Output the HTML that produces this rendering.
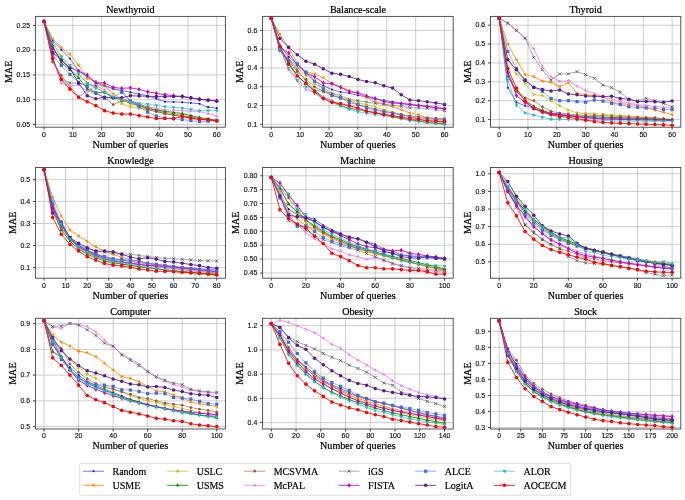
<!DOCTYPE html>
<html><head><meta charset="utf-8"><style>
html,body{margin:0;padding:0;background:#fff;}
body{width:685px;height:500px;overflow:hidden;}
svg{display:block;will-change:transform;opacity:0.999;}
.tk{font-family:"Liberation Sans",sans-serif;font-size:6.9px;fill:#111;stroke:#111;stroke-width:0.15px;}
.sf{font-family:"Liberation Serif",serif;font-size:10.1px;fill:#000;stroke:#000;stroke-width:0.22px;}
.lg{font-family:"Liberation Serif",serif;font-size:10px;fill:#000;stroke:#000;stroke-width:0.18px;}
</style></head><body>
<svg width="685" height="500" viewBox="0 0 685 500">
<rect width="685" height="500" fill="#fff"/>
<defs><clipPath id="c0"><rect x="35.4" y="16.4" width="190.0" height="110.80000000000001"/></clipPath></defs>
<line x1="44.04" y1="16.4" x2="44.04" y2="127.2" stroke="#b0b0b0" stroke-opacity="0.62" stroke-width="1"/>
<line x1="72.82" y1="16.4" x2="72.82" y2="127.2" stroke="#b0b0b0" stroke-opacity="0.62" stroke-width="1"/>
<line x1="101.61" y1="16.4" x2="101.61" y2="127.2" stroke="#b0b0b0" stroke-opacity="0.62" stroke-width="1"/>
<line x1="130.40" y1="16.4" x2="130.40" y2="127.2" stroke="#b0b0b0" stroke-opacity="0.62" stroke-width="1"/>
<line x1="159.19" y1="16.4" x2="159.19" y2="127.2" stroke="#b0b0b0" stroke-opacity="0.62" stroke-width="1"/>
<line x1="187.98" y1="16.4" x2="187.98" y2="127.2" stroke="#b0b0b0" stroke-opacity="0.62" stroke-width="1"/>
<line x1="216.76" y1="16.4" x2="216.76" y2="127.2" stroke="#b0b0b0" stroke-opacity="0.62" stroke-width="1"/>
<line x1="35.4" y1="124.50" x2="225.4" y2="124.50" stroke="#b0b0b0" stroke-opacity="0.62" stroke-width="1"/>
<line x1="35.4" y1="99.72" x2="225.4" y2="99.72" stroke="#b0b0b0" stroke-opacity="0.62" stroke-width="1"/>
<line x1="35.4" y1="74.95" x2="225.4" y2="74.95" stroke="#b0b0b0" stroke-opacity="0.62" stroke-width="1"/>
<line x1="35.4" y1="50.17" x2="225.4" y2="50.17" stroke="#b0b0b0" stroke-opacity="0.62" stroke-width="1"/>
<line x1="35.4" y1="25.40" x2="225.4" y2="25.40" stroke="#b0b0b0" stroke-opacity="0.62" stroke-width="1"/>
<g clip-path="url(#c0)">
<path d="M44.04,21.44L52.67,40.76L61.31,49.68L69.95,58.60L78.58,70.99L87.22,76.93L95.85,82.88L104.49,85.85L113.13,88.82L121.76,90.56L130.40,92.29L139.04,94.03L147.67,95.76L156.31,98.73L164.95,101.71L173.58,101.95L182.22,102.20L190.85,102.95L199.49,103.69L208.13,107.16L216.76,108.15" fill="none" stroke="#0000ff" stroke-opacity="0.55" stroke-width="1.0" stroke-linejoin="round"/>
<circle cx="44.04" cy="21.44" r="1.05" fill="#0000ff"/>
<circle cx="52.67" cy="40.76" r="1.05" fill="#0000ff"/>
<circle cx="61.31" cy="49.68" r="1.05" fill="#0000ff"/>
<circle cx="69.95" cy="58.60" r="1.05" fill="#0000ff"/>
<circle cx="78.58" cy="70.99" r="1.05" fill="#0000ff"/>
<circle cx="87.22" cy="76.93" r="1.05" fill="#0000ff"/>
<circle cx="95.85" cy="82.88" r="1.05" fill="#0000ff"/>
<circle cx="104.49" cy="85.85" r="1.05" fill="#0000ff"/>
<circle cx="113.13" cy="88.82" r="1.05" fill="#0000ff"/>
<circle cx="121.76" cy="90.56" r="1.05" fill="#0000ff"/>
<circle cx="130.40" cy="92.29" r="1.05" fill="#0000ff"/>
<circle cx="139.04" cy="94.03" r="1.05" fill="#0000ff"/>
<circle cx="147.67" cy="95.76" r="1.05" fill="#0000ff"/>
<circle cx="156.31" cy="98.73" r="1.05" fill="#0000ff"/>
<circle cx="164.95" cy="101.71" r="1.05" fill="#0000ff"/>
<circle cx="173.58" cy="101.95" r="1.05" fill="#0000ff"/>
<circle cx="182.22" cy="102.20" r="1.05" fill="#0000ff"/>
<circle cx="190.85" cy="102.95" r="1.05" fill="#0000ff"/>
<circle cx="199.49" cy="103.69" r="1.05" fill="#0000ff"/>
<circle cx="208.13" cy="107.16" r="1.05" fill="#0000ff"/>
<circle cx="216.76" cy="108.15" r="1.05" fill="#0000ff"/>
<path d="M44.04,21.44L52.67,38.78L61.31,47.70L69.95,54.14L78.58,65.04L87.22,78.42L95.85,81.39L104.49,85.85L113.13,93.78L121.76,99.72L130.40,103.69L139.04,105.92L147.67,108.15L156.31,110.13L164.95,112.11L173.58,113.85L182.22,115.58L190.85,117.07L199.49,118.55L208.13,119.54L216.76,120.54" fill="none" stroke="#ff8c00" stroke-opacity="0.85" stroke-width="1.0" stroke-linejoin="round"/>
<path d="M41.94,21.44L45.09,23.26L45.09,19.61Z" fill="#ff8c00"/>
<path d="M50.57,38.78L53.72,40.61L53.72,36.95Z" fill="#ff8c00"/>
<path d="M59.21,47.70L62.36,49.52L62.36,45.87Z" fill="#ff8c00"/>
<path d="M67.85,54.14L71.00,55.97L71.00,52.31Z" fill="#ff8c00"/>
<path d="M76.48,65.04L79.63,66.87L79.63,63.21Z" fill="#ff8c00"/>
<path d="M85.12,78.42L88.27,80.25L88.27,76.59Z" fill="#ff8c00"/>
<path d="M93.75,81.39L96.90,83.22L96.90,79.56Z" fill="#ff8c00"/>
<path d="M102.39,85.85L105.54,87.68L105.54,84.02Z" fill="#ff8c00"/>
<path d="M111.03,93.78L114.18,95.61L114.18,91.95Z" fill="#ff8c00"/>
<path d="M119.66,99.72L122.81,101.55L122.81,97.90Z" fill="#ff8c00"/>
<path d="M128.30,103.69L131.45,105.52L131.45,101.86Z" fill="#ff8c00"/>
<path d="M136.94,105.92L140.09,107.75L140.09,104.09Z" fill="#ff8c00"/>
<path d="M145.57,108.15L148.72,109.98L148.72,106.32Z" fill="#ff8c00"/>
<path d="M154.21,110.13L157.36,111.96L157.36,108.30Z" fill="#ff8c00"/>
<path d="M162.85,112.11L166.00,113.94L166.00,110.29Z" fill="#ff8c00"/>
<path d="M171.48,113.85L174.63,115.67L174.63,112.02Z" fill="#ff8c00"/>
<path d="M180.12,115.58L183.27,117.41L183.27,113.75Z" fill="#ff8c00"/>
<path d="M188.75,117.07L191.90,118.89L191.90,115.24Z" fill="#ff8c00"/>
<path d="M197.39,118.55L200.54,120.38L200.54,116.73Z" fill="#ff8c00"/>
<path d="M206.03,119.54L209.18,121.37L209.18,117.72Z" fill="#ff8c00"/>
<path d="M214.66,120.54L217.81,122.36L217.81,118.71Z" fill="#ff8c00"/>
<path d="M44.04,21.44L52.67,51.66L61.31,55.63L69.95,69.99L78.58,74.95L87.22,82.38L95.85,87.34L104.49,92.29L113.13,97.25L121.76,103.69L130.40,106.66L139.04,108.15L147.67,109.63L156.31,111.62L164.95,113.60L173.58,115.09L182.22,116.57L190.85,117.56L199.49,118.55L208.13,119.54L216.76,120.54" fill="none" stroke="#bfbf00" stroke-opacity="0.7" stroke-width="1.0" stroke-linejoin="round"/>
<path d="M46.14,21.44L42.99,23.26L42.99,19.61Z" fill="#bfbf00"/>
<path d="M54.77,51.66L51.62,53.49L51.62,49.83Z" fill="#bfbf00"/>
<path d="M63.41,55.63L60.26,57.45L60.26,53.80Z" fill="#bfbf00"/>
<path d="M72.05,69.99L68.90,71.82L68.90,68.17Z" fill="#bfbf00"/>
<path d="M80.68,74.95L77.53,76.78L77.53,73.12Z" fill="#bfbf00"/>
<path d="M89.32,82.38L86.17,84.21L86.17,80.56Z" fill="#bfbf00"/>
<path d="M97.95,87.34L94.80,89.16L94.80,85.51Z" fill="#bfbf00"/>
<path d="M106.59,92.29L103.44,94.12L103.44,90.47Z" fill="#bfbf00"/>
<path d="M115.23,97.25L112.08,99.07L112.08,95.42Z" fill="#bfbf00"/>
<path d="M123.86,103.69L120.71,105.52L120.71,101.86Z" fill="#bfbf00"/>
<path d="M132.50,106.66L129.35,108.49L129.35,104.84Z" fill="#bfbf00"/>
<path d="M141.14,108.15L137.99,109.98L137.99,106.32Z" fill="#bfbf00"/>
<path d="M149.77,109.63L146.62,111.46L146.62,107.81Z" fill="#bfbf00"/>
<path d="M158.41,111.62L155.26,113.44L155.26,109.79Z" fill="#bfbf00"/>
<path d="M167.05,113.60L163.90,115.43L163.90,111.77Z" fill="#bfbf00"/>
<path d="M175.68,115.09L172.53,116.91L172.53,113.26Z" fill="#bfbf00"/>
<path d="M184.32,116.57L181.17,118.40L181.17,114.74Z" fill="#bfbf00"/>
<path d="M192.95,117.56L189.80,119.39L189.80,115.74Z" fill="#bfbf00"/>
<path d="M201.59,118.55L198.44,120.38L198.44,116.73Z" fill="#bfbf00"/>
<path d="M210.23,119.54L207.08,121.37L207.08,117.72Z" fill="#bfbf00"/>
<path d="M218.86,120.54L215.71,122.36L215.71,118.71Z" fill="#bfbf00"/>
<path d="M44.04,21.44L52.67,45.72L61.31,62.56L69.95,69.99L78.58,77.92L87.22,88.82L95.85,92.79L104.49,92.29L113.13,97.74L121.76,99.48L130.40,101.21L139.04,104.93L147.67,108.64L156.31,109.88L164.95,111.12L173.58,112.36L182.22,113.60L190.85,115.58L199.49,117.56L208.13,119.05L216.76,120.54" fill="none" stroke="#008000" stroke-opacity="0.8" stroke-width="1.0" stroke-linejoin="round"/>
<path d="M44.04,19.34L45.86,22.49L42.21,22.49Z" fill="#008000"/>
<path d="M52.67,43.62L54.50,46.77L50.85,46.77Z" fill="#008000"/>
<path d="M61.31,60.46L63.14,63.61L59.48,63.61Z" fill="#008000"/>
<path d="M69.95,67.89L71.77,71.04L68.12,71.04Z" fill="#008000"/>
<path d="M78.58,75.82L80.41,78.97L76.75,78.97Z" fill="#008000"/>
<path d="M87.22,86.72L89.05,89.87L85.39,89.87Z" fill="#008000"/>
<path d="M95.85,90.69L97.68,93.84L94.03,93.84Z" fill="#008000"/>
<path d="M104.49,90.19L106.32,93.34L102.66,93.34Z" fill="#008000"/>
<path d="M113.13,95.64L114.95,98.79L111.30,98.79Z" fill="#008000"/>
<path d="M121.76,97.38L123.59,100.53L119.94,100.53Z" fill="#008000"/>
<path d="M130.40,99.11L132.23,102.26L128.57,102.26Z" fill="#008000"/>
<path d="M139.04,102.83L140.86,105.98L137.21,105.98Z" fill="#008000"/>
<path d="M147.67,106.54L149.50,109.69L145.85,109.69Z" fill="#008000"/>
<path d="M156.31,107.78L158.14,110.93L154.48,110.93Z" fill="#008000"/>
<path d="M164.95,109.02L166.77,112.17L163.12,112.17Z" fill="#008000"/>
<path d="M173.58,110.26L175.41,113.41L171.75,113.41Z" fill="#008000"/>
<path d="M182.22,111.50L184.05,114.65L180.39,114.65Z" fill="#008000"/>
<path d="M190.85,113.48L192.68,116.63L189.03,116.63Z" fill="#008000"/>
<path d="M199.49,115.46L201.32,118.61L197.66,118.61Z" fill="#008000"/>
<path d="M208.13,116.95L209.95,120.10L206.30,120.10Z" fill="#008000"/>
<path d="M216.76,118.44L218.59,121.59L214.94,121.59Z" fill="#008000"/>
<path d="M44.04,21.44L52.67,62.07L61.31,75.45L69.95,86.84L78.58,96.75L87.22,90.81L95.85,93.78L104.49,97.25L113.13,104.68L121.76,101.21L130.40,102.20L139.04,105.92L147.67,109.63L156.31,111.62L164.95,113.60L173.58,115.09L182.22,116.57L190.85,118.06L199.49,119.54L208.13,120.29L216.76,121.03" fill="none" stroke="#a0522d" stroke-opacity="0.6" stroke-width="1.0" stroke-linejoin="round"/>
<circle cx="44.04" cy="21.44" r="1.35" fill="#a0522d"/>
<circle cx="52.67" cy="62.07" r="1.35" fill="#a0522d"/>
<circle cx="61.31" cy="75.45" r="1.35" fill="#a0522d"/>
<circle cx="69.95" cy="86.84" r="1.35" fill="#a0522d"/>
<circle cx="78.58" cy="96.75" r="1.35" fill="#a0522d"/>
<circle cx="87.22" cy="90.81" r="1.35" fill="#a0522d"/>
<circle cx="95.85" cy="93.78" r="1.35" fill="#a0522d"/>
<circle cx="104.49" cy="97.25" r="1.35" fill="#a0522d"/>
<circle cx="113.13" cy="104.68" r="1.35" fill="#a0522d"/>
<circle cx="121.76" cy="101.21" r="1.35" fill="#a0522d"/>
<circle cx="130.40" cy="102.20" r="1.35" fill="#a0522d"/>
<circle cx="139.04" cy="105.92" r="1.35" fill="#a0522d"/>
<circle cx="147.67" cy="109.63" r="1.35" fill="#a0522d"/>
<circle cx="156.31" cy="111.62" r="1.35" fill="#a0522d"/>
<circle cx="164.95" cy="113.60" r="1.35" fill="#a0522d"/>
<circle cx="173.58" cy="115.09" r="1.35" fill="#a0522d"/>
<circle cx="182.22" cy="116.57" r="1.35" fill="#a0522d"/>
<circle cx="190.85" cy="118.06" r="1.35" fill="#a0522d"/>
<circle cx="199.49" cy="119.54" r="1.35" fill="#a0522d"/>
<circle cx="208.13" cy="120.29" r="1.35" fill="#a0522d"/>
<circle cx="216.76" cy="121.03" r="1.35" fill="#a0522d"/>
<path d="M44.04,21.44L52.67,57.61L61.31,83.37L69.95,85.85L78.58,84.86L87.22,91.30L95.85,85.85L104.49,89.81L113.13,97.25L121.76,98.98L130.40,100.72L139.04,103.94L147.67,107.16L156.31,108.40L164.95,109.63L173.58,110.13L182.22,110.63L190.85,111.12L199.49,111.62L208.13,113.60L216.76,116.08" fill="none" stroke="#ee82ee" stroke-opacity="0.85" stroke-width="1.0" stroke-linejoin="round"/>
<path d="M42.64,21.44H45.44M44.04,20.04V22.84" stroke="#ee82ee" stroke-width="1.2"/>
<path d="M51.27,57.61H54.07M52.67,56.21V59.01" stroke="#ee82ee" stroke-width="1.2"/>
<path d="M59.91,83.37H62.71M61.31,81.97V84.77" stroke="#ee82ee" stroke-width="1.2"/>
<path d="M68.55,85.85H71.35M69.95,84.45V87.25" stroke="#ee82ee" stroke-width="1.2"/>
<path d="M77.18,84.86H79.98M78.58,83.46V86.26" stroke="#ee82ee" stroke-width="1.2"/>
<path d="M85.82,91.30H88.62M87.22,89.90V92.70" stroke="#ee82ee" stroke-width="1.2"/>
<path d="M94.45,85.85H97.25M95.85,84.45V87.25" stroke="#ee82ee" stroke-width="1.2"/>
<path d="M103.09,89.81H105.89M104.49,88.41V91.22" stroke="#ee82ee" stroke-width="1.2"/>
<path d="M111.73,97.25H114.53M113.13,95.85V98.65" stroke="#ee82ee" stroke-width="1.2"/>
<path d="M120.36,98.98H123.16M121.76,97.58V100.38" stroke="#ee82ee" stroke-width="1.2"/>
<path d="M129.00,100.72H131.80M130.40,99.32V102.12" stroke="#ee82ee" stroke-width="1.2"/>
<path d="M137.64,103.94H140.44M139.04,102.54V105.34" stroke="#ee82ee" stroke-width="1.2"/>
<path d="M146.27,107.16H149.07M147.67,105.76V108.56" stroke="#ee82ee" stroke-width="1.2"/>
<path d="M154.91,108.40H157.71M156.31,107.00V109.80" stroke="#ee82ee" stroke-width="1.2"/>
<path d="M163.55,109.63H166.35M164.95,108.23V111.03" stroke="#ee82ee" stroke-width="1.2"/>
<path d="M172.18,110.13H174.98M173.58,108.73V111.53" stroke="#ee82ee" stroke-width="1.2"/>
<path d="M180.82,110.63H183.62M182.22,109.23V112.03" stroke="#ee82ee" stroke-width="1.2"/>
<path d="M189.45,111.12H192.25M190.85,109.72V112.52" stroke="#ee82ee" stroke-width="1.2"/>
<path d="M198.09,111.62H200.89M199.49,110.22V113.02" stroke="#ee82ee" stroke-width="1.2"/>
<path d="M206.73,113.60H209.53M208.13,112.20V115.00" stroke="#ee82ee" stroke-width="1.2"/>
<path d="M215.36,116.08H218.16M216.76,114.68V117.48" stroke="#ee82ee" stroke-width="1.2"/>
<path d="M44.04,21.44L52.67,60.09L61.31,79.90L69.95,82.88L78.58,83.37L87.22,84.36L95.85,85.85L104.49,85.85L113.13,88.33L121.76,90.81L130.40,100.72L139.04,103.94L147.67,107.16L156.31,110.38L164.95,113.60L173.58,114.59L182.22,115.58L190.85,117.07L199.49,118.55L208.13,119.54L216.76,120.54" fill="none" stroke="#808080" stroke-opacity="0.65" stroke-width="1.0" stroke-linejoin="round"/>
<path d="M42.54,19.94L45.54,22.94M42.54,22.94L45.54,19.94" stroke="#505050" stroke-width="0.8"/>
<path d="M51.17,58.59L54.17,61.59M51.17,61.59L54.17,58.59" stroke="#505050" stroke-width="0.8"/>
<path d="M59.81,78.40L62.81,81.40M59.81,81.40L62.81,78.40" stroke="#505050" stroke-width="0.8"/>
<path d="M68.45,81.38L71.45,84.38M68.45,84.38L71.45,81.38" stroke="#505050" stroke-width="0.8"/>
<path d="M77.08,81.87L80.08,84.87M77.08,84.87L80.08,81.87" stroke="#505050" stroke-width="0.8"/>
<path d="M85.72,82.86L88.72,85.86M85.72,85.86L88.72,82.86" stroke="#505050" stroke-width="0.8"/>
<path d="M94.35,84.35L97.35,87.35M94.35,87.35L97.35,84.35" stroke="#505050" stroke-width="0.8"/>
<path d="M102.99,84.35L105.99,87.35M102.99,87.35L105.99,84.35" stroke="#505050" stroke-width="0.8"/>
<path d="M111.63,86.83L114.63,89.83M111.63,89.83L114.63,86.83" stroke="#505050" stroke-width="0.8"/>
<path d="M120.26,89.31L123.26,92.31M120.26,92.31L123.26,89.31" stroke="#505050" stroke-width="0.8"/>
<path d="M128.90,99.22L131.90,102.22M128.90,102.22L131.90,99.22" stroke="#505050" stroke-width="0.8"/>
<path d="M137.54,102.44L140.54,105.44M137.54,105.44L140.54,102.44" stroke="#505050" stroke-width="0.8"/>
<path d="M146.17,105.66L149.17,108.66M146.17,108.66L149.17,105.66" stroke="#505050" stroke-width="0.8"/>
<path d="M154.81,108.88L157.81,111.88M154.81,111.88L157.81,108.88" stroke="#505050" stroke-width="0.8"/>
<path d="M163.45,112.10L166.45,115.10M163.45,115.10L166.45,112.10" stroke="#505050" stroke-width="0.8"/>
<path d="M172.08,113.09L175.08,116.09M172.08,116.09L175.08,113.09" stroke="#505050" stroke-width="0.8"/>
<path d="M180.72,114.08L183.72,117.08M180.72,117.08L183.72,114.08" stroke="#505050" stroke-width="0.8"/>
<path d="M189.35,115.57L192.35,118.57M189.35,118.57L192.35,115.57" stroke="#505050" stroke-width="0.8"/>
<path d="M197.99,117.05L200.99,120.05M197.99,120.05L200.99,117.05" stroke="#505050" stroke-width="0.8"/>
<path d="M206.63,118.04L209.63,121.04M206.63,121.04L209.63,118.04" stroke="#505050" stroke-width="0.8"/>
<path d="M215.26,119.04L218.26,122.04M215.26,122.04L218.26,119.04" stroke="#505050" stroke-width="0.8"/>
<path d="M44.04,21.44L52.67,48.69L61.31,60.09L69.95,67.52L78.58,70.99L87.22,74.95L95.85,82.88L104.49,82.88L113.13,87.34L121.76,88.33L130.40,87.83L139.04,89.32L147.67,91.80L156.31,93.28L164.95,94.77L173.58,95.76L182.22,96.75L190.85,97.99L199.49,99.23L208.13,99.97L216.76,100.72" fill="none" stroke="#c000c0" stroke-opacity="0.85" stroke-width="1.0" stroke-linejoin="round"/>
<path d="M44.04,19.04L45.64,21.44L44.04,23.84L42.44,21.44Z" fill="#c000c0"/>
<path d="M52.67,46.29L54.27,48.69L52.67,51.09L51.07,48.69Z" fill="#c000c0"/>
<path d="M61.31,57.69L62.91,60.09L61.31,62.48L59.71,60.09Z" fill="#c000c0"/>
<path d="M69.95,65.12L71.55,67.52L69.95,69.92L68.35,67.52Z" fill="#c000c0"/>
<path d="M78.58,68.59L80.18,70.99L78.58,73.39L76.98,70.99Z" fill="#c000c0"/>
<path d="M87.22,72.55L88.82,74.95L87.22,77.35L85.62,74.95Z" fill="#c000c0"/>
<path d="M95.85,80.48L97.45,82.88L95.85,85.28L94.25,82.88Z" fill="#c000c0"/>
<path d="M104.49,80.48L106.09,82.88L104.49,85.28L102.89,82.88Z" fill="#c000c0"/>
<path d="M113.13,84.94L114.73,87.34L113.13,89.74L111.53,87.34Z" fill="#c000c0"/>
<path d="M121.76,85.93L123.36,88.33L121.76,90.73L120.16,88.33Z" fill="#c000c0"/>
<path d="M130.40,85.43L132.00,87.83L130.40,90.23L128.80,87.83Z" fill="#c000c0"/>
<path d="M139.04,86.92L140.64,89.32L139.04,91.72L137.44,89.32Z" fill="#c000c0"/>
<path d="M147.67,89.40L149.27,91.80L147.67,94.20L146.07,91.80Z" fill="#c000c0"/>
<path d="M156.31,90.88L157.91,93.28L156.31,95.68L154.71,93.28Z" fill="#c000c0"/>
<path d="M164.95,92.37L166.55,94.77L164.95,97.17L163.35,94.77Z" fill="#c000c0"/>
<path d="M173.58,93.36L175.18,95.76L173.58,98.16L171.98,95.76Z" fill="#c000c0"/>
<path d="M182.22,94.35L183.82,96.75L182.22,99.15L180.62,96.75Z" fill="#c000c0"/>
<path d="M190.85,95.59L192.45,97.99L190.85,100.39L189.25,97.99Z" fill="#c000c0"/>
<path d="M199.49,96.83L201.09,99.23L199.49,101.63L197.89,99.23Z" fill="#c000c0"/>
<path d="M208.13,97.57L209.73,99.97L208.13,102.37L206.53,99.97Z" fill="#c000c0"/>
<path d="M216.76,98.32L218.36,100.72L216.76,103.12L215.16,100.72Z" fill="#c000c0"/>
<path d="M44.04,21.44L52.67,55.13L61.31,65.54L69.95,74.45L78.58,82.38L87.22,86.35L95.85,92.79L104.49,98.24L113.13,97.74L121.76,92.29L130.40,101.71L139.04,106.66L147.67,112.11L156.31,116.08L164.95,118.06L173.58,118.80L182.22,119.54L190.85,120.54L199.49,121.53L208.13,121.28L216.76,121.03" fill="none" stroke="#4169e1" stroke-opacity="0.55" stroke-width="1.0" stroke-linejoin="round"/>
<rect x="42.44" y="19.84" width="3.20" height="3.20" fill="#4169e1"/>
<rect x="51.07" y="53.53" width="3.20" height="3.20" fill="#4169e1"/>
<rect x="59.71" y="63.94" width="3.20" height="3.20" fill="#4169e1"/>
<rect x="68.35" y="72.85" width="3.20" height="3.20" fill="#4169e1"/>
<rect x="76.98" y="80.78" width="3.20" height="3.20" fill="#4169e1"/>
<rect x="85.62" y="84.75" width="3.20" height="3.20" fill="#4169e1"/>
<rect x="94.25" y="91.19" width="3.20" height="3.20" fill="#4169e1"/>
<rect x="102.89" y="96.64" width="3.20" height="3.20" fill="#4169e1"/>
<rect x="111.53" y="96.14" width="3.20" height="3.20" fill="#4169e1"/>
<rect x="120.16" y="90.69" width="3.20" height="3.20" fill="#4169e1"/>
<rect x="128.80" y="100.11" width="3.20" height="3.20" fill="#4169e1"/>
<rect x="137.44" y="105.06" width="3.20" height="3.20" fill="#4169e1"/>
<rect x="146.07" y="110.51" width="3.20" height="3.20" fill="#4169e1"/>
<rect x="154.71" y="114.48" width="3.20" height="3.20" fill="#4169e1"/>
<rect x="163.35" y="116.46" width="3.20" height="3.20" fill="#4169e1"/>
<rect x="171.98" y="117.20" width="3.20" height="3.20" fill="#4169e1"/>
<rect x="180.62" y="117.94" width="3.20" height="3.20" fill="#4169e1"/>
<rect x="189.25" y="118.94" width="3.20" height="3.20" fill="#4169e1"/>
<rect x="197.89" y="119.93" width="3.20" height="3.20" fill="#4169e1"/>
<rect x="206.53" y="119.68" width="3.20" height="3.20" fill="#4169e1"/>
<rect x="215.16" y="119.43" width="3.20" height="3.20" fill="#4169e1"/>
<path d="M44.04,21.44L52.67,52.65L61.31,60.09L69.95,68.51L78.58,82.88L87.22,95.76L95.85,98.73L104.49,97.25L113.13,97.74L121.76,97.74L130.40,95.76L139.04,96.01L147.67,96.26L156.31,96.50L164.95,96.75L173.58,96.50L182.22,96.26L190.85,97.74L199.49,99.23L208.13,100.22L216.76,101.21" fill="none" stroke="#663399" stroke-opacity="0.9" stroke-width="1.0" stroke-linejoin="round"/>
<circle cx="44.04" cy="21.44" r="1.75" fill="#551a8b"/>
<circle cx="52.67" cy="52.65" r="1.75" fill="#551a8b"/>
<circle cx="61.31" cy="60.09" r="1.75" fill="#551a8b"/>
<circle cx="69.95" cy="68.51" r="1.75" fill="#551a8b"/>
<circle cx="78.58" cy="82.88" r="1.75" fill="#551a8b"/>
<circle cx="87.22" cy="95.76" r="1.75" fill="#551a8b"/>
<circle cx="95.85" cy="98.73" r="1.75" fill="#551a8b"/>
<circle cx="104.49" cy="97.25" r="1.75" fill="#551a8b"/>
<circle cx="113.13" cy="97.74" r="1.75" fill="#551a8b"/>
<circle cx="121.76" cy="97.74" r="1.75" fill="#551a8b"/>
<circle cx="130.40" cy="95.76" r="1.75" fill="#551a8b"/>
<circle cx="139.04" cy="96.01" r="1.75" fill="#551a8b"/>
<circle cx="147.67" cy="96.26" r="1.75" fill="#551a8b"/>
<circle cx="156.31" cy="96.50" r="1.75" fill="#551a8b"/>
<circle cx="164.95" cy="96.75" r="1.75" fill="#551a8b"/>
<circle cx="173.58" cy="96.50" r="1.75" fill="#551a8b"/>
<circle cx="182.22" cy="96.26" r="1.75" fill="#551a8b"/>
<circle cx="190.85" cy="97.74" r="1.75" fill="#551a8b"/>
<circle cx="199.49" cy="99.23" r="1.75" fill="#551a8b"/>
<circle cx="208.13" cy="100.22" r="1.75" fill="#551a8b"/>
<circle cx="216.76" cy="101.21" r="1.75" fill="#551a8b"/>
<path d="M44.04,21.44L52.67,42.25L61.31,57.11L69.95,65.04L78.58,73.46L87.22,83.37L95.85,88.33L104.49,92.79L113.13,96.75L121.76,99.72L130.40,102.20L139.04,103.69L147.67,104.18L156.31,105.42L164.95,106.66L173.58,107.41L182.22,108.15L190.85,109.39L199.49,110.63L208.13,110.63L216.76,110.63" fill="none" stroke="#20b2aa" stroke-opacity="0.6" stroke-width="1.0" stroke-linejoin="round"/>
<path d="M44.04,23.64L45.95,20.34L42.12,20.34Z" fill="#20b8b8"/>
<path d="M52.67,44.45L54.59,41.15L50.76,41.15Z" fill="#20b8b8"/>
<path d="M61.31,59.31L63.22,56.01L59.40,56.01Z" fill="#20b8b8"/>
<path d="M69.95,67.24L71.86,63.94L68.03,63.94Z" fill="#20b8b8"/>
<path d="M78.58,75.66L80.50,72.36L76.67,72.36Z" fill="#20b8b8"/>
<path d="M87.22,85.57L89.13,82.27L85.30,82.27Z" fill="#20b8b8"/>
<path d="M95.85,90.53L97.77,87.23L93.94,87.23Z" fill="#20b8b8"/>
<path d="M104.49,94.99L106.40,91.69L102.58,91.69Z" fill="#20b8b8"/>
<path d="M113.13,98.95L115.04,95.65L111.21,95.65Z" fill="#20b8b8"/>
<path d="M121.76,101.92L123.68,98.62L119.85,98.62Z" fill="#20b8b8"/>
<path d="M130.40,104.40L132.31,101.10L128.49,101.10Z" fill="#20b8b8"/>
<path d="M139.04,105.89L140.95,102.59L137.12,102.59Z" fill="#20b8b8"/>
<path d="M147.67,106.38L149.59,103.08L145.76,103.08Z" fill="#20b8b8"/>
<path d="M156.31,107.62L158.22,104.32L154.40,104.32Z" fill="#20b8b8"/>
<path d="M164.95,108.86L166.86,105.56L163.03,105.56Z" fill="#20b8b8"/>
<path d="M173.58,109.61L175.50,106.31L171.67,106.31Z" fill="#20b8b8"/>
<path d="M182.22,110.35L184.13,107.05L180.30,107.05Z" fill="#20b8b8"/>
<path d="M190.85,111.59L192.77,108.29L188.94,108.29Z" fill="#20b8b8"/>
<path d="M199.49,112.83L201.40,109.53L197.58,109.53Z" fill="#20b8b8"/>
<path d="M208.13,112.83L210.04,109.53L206.21,109.53Z" fill="#20b8b8"/>
<path d="M216.76,112.83L218.68,109.53L214.85,109.53Z" fill="#20b8b8"/>
<path d="M44.04,21.44L52.67,58.60L61.31,79.41L69.95,89.32L78.58,97.25L87.22,101.71L95.85,105.67L104.49,110.63L113.13,113.10L121.76,114.09L130.40,114.09L139.04,115.58L147.67,117.07L156.31,118.55L164.95,118.55L173.58,118.55L182.22,116.57L190.85,118.06L199.49,119.54L208.13,119.54L216.76,120.78" fill="none" stroke="#ff0000" stroke-opacity="0.85" stroke-width="1.0" stroke-linejoin="round"/>
<circle cx="44.04" cy="21.44" r="1.80" fill="#ff0000"/>
<circle cx="52.67" cy="58.60" r="1.80" fill="#ff0000"/>
<circle cx="61.31" cy="79.41" r="1.80" fill="#ff0000"/>
<circle cx="69.95" cy="89.32" r="1.80" fill="#ff0000"/>
<circle cx="78.58" cy="97.25" r="1.80" fill="#ff0000"/>
<circle cx="87.22" cy="101.71" r="1.80" fill="#ff0000"/>
<circle cx="95.85" cy="105.67" r="1.80" fill="#ff0000"/>
<circle cx="104.49" cy="110.63" r="1.80" fill="#ff0000"/>
<circle cx="113.13" cy="113.10" r="1.80" fill="#ff0000"/>
<circle cx="121.76" cy="114.09" r="1.80" fill="#ff0000"/>
<circle cx="130.40" cy="114.09" r="1.80" fill="#ff0000"/>
<circle cx="139.04" cy="115.58" r="1.80" fill="#ff0000"/>
<circle cx="147.67" cy="117.07" r="1.80" fill="#ff0000"/>
<circle cx="156.31" cy="118.55" r="1.80" fill="#ff0000"/>
<circle cx="164.95" cy="118.55" r="1.80" fill="#ff0000"/>
<circle cx="173.58" cy="118.55" r="1.80" fill="#ff0000"/>
<circle cx="182.22" cy="116.57" r="1.80" fill="#ff0000"/>
<circle cx="190.85" cy="118.06" r="1.80" fill="#ff0000"/>
<circle cx="199.49" cy="119.54" r="1.80" fill="#ff0000"/>
<circle cx="208.13" cy="119.54" r="1.80" fill="#ff0000"/>
<circle cx="216.76" cy="120.78" r="1.80" fill="#ff0000"/>
</g>
<rect x="35.4" y="16.4" width="190.00" height="110.80" fill="none" stroke="#444" stroke-width="0.9"/>
<line x1="44.04" y1="127.2" x2="44.04" y2="129.7" stroke="#333" stroke-width="0.9"/>
<text x="42.10" y="136.60" textLength="3.88" lengthAdjust="spacingAndGlyphs" class="tk">0</text>
<line x1="72.82" y1="127.2" x2="72.82" y2="129.7" stroke="#333" stroke-width="0.9"/>
<text x="68.94" y="136.60" textLength="7.76" lengthAdjust="spacingAndGlyphs" class="tk">10</text>
<line x1="101.61" y1="127.2" x2="101.61" y2="129.7" stroke="#333" stroke-width="0.9"/>
<text x="97.73" y="136.60" textLength="7.76" lengthAdjust="spacingAndGlyphs" class="tk">20</text>
<line x1="130.40" y1="127.2" x2="130.40" y2="129.7" stroke="#333" stroke-width="0.9"/>
<text x="126.52" y="136.60" textLength="7.76" lengthAdjust="spacingAndGlyphs" class="tk">30</text>
<line x1="159.19" y1="127.2" x2="159.19" y2="129.7" stroke="#333" stroke-width="0.9"/>
<text x="155.31" y="136.60" textLength="7.76" lengthAdjust="spacingAndGlyphs" class="tk">40</text>
<line x1="187.98" y1="127.2" x2="187.98" y2="129.7" stroke="#333" stroke-width="0.9"/>
<text x="184.10" y="136.60" textLength="7.76" lengthAdjust="spacingAndGlyphs" class="tk">50</text>
<line x1="216.76" y1="127.2" x2="216.76" y2="129.7" stroke="#333" stroke-width="0.9"/>
<text x="212.88" y="136.60" textLength="7.76" lengthAdjust="spacingAndGlyphs" class="tk">60</text>
<line x1="32.9" y1="124.50" x2="35.4" y2="124.50" stroke="#333" stroke-width="0.9"/>
<text x="16.52" y="126.70" textLength="13.58" lengthAdjust="spacingAndGlyphs" class="tk">0.05</text>
<line x1="32.9" y1="99.72" x2="35.4" y2="99.72" stroke="#333" stroke-width="0.9"/>
<text x="16.52" y="101.92" textLength="13.58" lengthAdjust="spacingAndGlyphs" class="tk">0.10</text>
<line x1="32.9" y1="74.95" x2="35.4" y2="74.95" stroke="#333" stroke-width="0.9"/>
<text x="16.52" y="77.15" textLength="13.58" lengthAdjust="spacingAndGlyphs" class="tk">0.15</text>
<line x1="32.9" y1="50.17" x2="35.4" y2="50.17" stroke="#333" stroke-width="0.9"/>
<text x="16.52" y="52.37" textLength="13.58" lengthAdjust="spacingAndGlyphs" class="tk">0.20</text>
<line x1="32.9" y1="25.40" x2="35.4" y2="25.40" stroke="#333" stroke-width="0.9"/>
<text x="16.52" y="27.60" textLength="13.58" lengthAdjust="spacingAndGlyphs" class="tk">0.25</text>
<text x="130.40" y="12.80" text-anchor="middle" class="sf">Newthyroid</text>
<text x="130.40" y="147.60" text-anchor="middle" class="sf">Number of queries</text>
<text transform="translate(12.22,71.80) rotate(-90)" x="0" y="0" text-anchor="middle" class="sf">MAE</text>
<defs><clipPath id="c1"><rect x="262.6" y="16.4" width="190.59999999999997" height="110.80000000000001"/></clipPath></defs>
<line x1="271.26" y1="16.4" x2="271.26" y2="127.2" stroke="#b0b0b0" stroke-opacity="0.62" stroke-width="1"/>
<line x1="300.14" y1="16.4" x2="300.14" y2="127.2" stroke="#b0b0b0" stroke-opacity="0.62" stroke-width="1"/>
<line x1="329.02" y1="16.4" x2="329.02" y2="127.2" stroke="#b0b0b0" stroke-opacity="0.62" stroke-width="1"/>
<line x1="357.90" y1="16.4" x2="357.90" y2="127.2" stroke="#b0b0b0" stroke-opacity="0.62" stroke-width="1"/>
<line x1="386.78" y1="16.4" x2="386.78" y2="127.2" stroke="#b0b0b0" stroke-opacity="0.62" stroke-width="1"/>
<line x1="415.66" y1="16.4" x2="415.66" y2="127.2" stroke="#b0b0b0" stroke-opacity="0.62" stroke-width="1"/>
<line x1="444.54" y1="16.4" x2="444.54" y2="127.2" stroke="#b0b0b0" stroke-opacity="0.62" stroke-width="1"/>
<line x1="262.6" y1="124.30" x2="453.2" y2="124.30" stroke="#b0b0b0" stroke-opacity="0.62" stroke-width="1"/>
<line x1="262.6" y1="105.52" x2="453.2" y2="105.52" stroke="#b0b0b0" stroke-opacity="0.62" stroke-width="1"/>
<line x1="262.6" y1="86.74" x2="453.2" y2="86.74" stroke="#b0b0b0" stroke-opacity="0.62" stroke-width="1"/>
<line x1="262.6" y1="67.96" x2="453.2" y2="67.96" stroke="#b0b0b0" stroke-opacity="0.62" stroke-width="1"/>
<line x1="262.6" y1="49.18" x2="453.2" y2="49.18" stroke="#b0b0b0" stroke-opacity="0.62" stroke-width="1"/>
<line x1="262.6" y1="30.40" x2="453.2" y2="30.40" stroke="#b0b0b0" stroke-opacity="0.62" stroke-width="1"/>
<g clip-path="url(#c1)">
<path d="M271.26,18.19L279.93,45.42L288.59,56.69L297.25,64.20L305.92,72.66L314.58,81.11L323.25,85.80L331.91,89.56L340.57,92.00L349.24,93.31L357.90,95.19L366.56,97.07L375.23,98.95L383.89,100.36L392.55,101.76L401.22,103.17L409.88,104.58L418.55,105.52L427.21,106.46L435.87,107.40L444.54,108.34" fill="none" stroke="#0000ff" stroke-opacity="0.55" stroke-width="1.0" stroke-linejoin="round"/>
<circle cx="271.26" cy="18.19" r="1.05" fill="#0000ff"/>
<circle cx="279.93" cy="45.42" r="1.05" fill="#0000ff"/>
<circle cx="288.59" cy="56.69" r="1.05" fill="#0000ff"/>
<circle cx="297.25" cy="64.20" r="1.05" fill="#0000ff"/>
<circle cx="305.92" cy="72.66" r="1.05" fill="#0000ff"/>
<circle cx="314.58" cy="81.11" r="1.05" fill="#0000ff"/>
<circle cx="323.25" cy="85.80" r="1.05" fill="#0000ff"/>
<circle cx="331.91" cy="89.56" r="1.05" fill="#0000ff"/>
<circle cx="340.57" cy="92.00" r="1.05" fill="#0000ff"/>
<circle cx="349.24" cy="93.31" r="1.05" fill="#0000ff"/>
<circle cx="357.90" cy="95.19" r="1.05" fill="#0000ff"/>
<circle cx="366.56" cy="97.07" r="1.05" fill="#0000ff"/>
<circle cx="375.23" cy="98.95" r="1.05" fill="#0000ff"/>
<circle cx="383.89" cy="100.36" r="1.05" fill="#0000ff"/>
<circle cx="392.55" cy="101.76" r="1.05" fill="#0000ff"/>
<circle cx="401.22" cy="103.17" r="1.05" fill="#0000ff"/>
<circle cx="409.88" cy="104.58" r="1.05" fill="#0000ff"/>
<circle cx="418.55" cy="105.52" r="1.05" fill="#0000ff"/>
<circle cx="427.21" cy="106.46" r="1.05" fill="#0000ff"/>
<circle cx="435.87" cy="107.40" r="1.05" fill="#0000ff"/>
<circle cx="444.54" cy="108.34" r="1.05" fill="#0000ff"/>
<path d="M271.26,18.19L279.93,34.34L288.59,47.30L297.25,63.08L305.92,72.09L314.58,73.78L323.25,77.73L331.91,83.36L340.57,86.74L349.24,90.50L357.90,93.31L366.56,97.54L375.23,101.76L383.89,104.21L392.55,106.65L401.22,109.75L409.88,112.84L418.55,114.53L427.21,117.91L435.87,119.04L444.54,119.42" fill="none" stroke="#ff8c00" stroke-opacity="0.85" stroke-width="1.0" stroke-linejoin="round"/>
<path d="M269.16,18.19L272.31,20.02L272.31,16.37Z" fill="#ff8c00"/>
<path d="M277.83,34.34L280.98,36.17L280.98,32.52Z" fill="#ff8c00"/>
<path d="M286.49,47.30L289.64,49.13L289.64,45.47Z" fill="#ff8c00"/>
<path d="M295.15,63.08L298.30,64.90L298.30,61.25Z" fill="#ff8c00"/>
<path d="M303.82,72.09L306.97,73.92L306.97,70.26Z" fill="#ff8c00"/>
<path d="M312.48,73.78L315.63,75.61L315.63,71.95Z" fill="#ff8c00"/>
<path d="M321.15,77.73L324.30,79.55L324.30,75.90Z" fill="#ff8c00"/>
<path d="M329.81,83.36L332.96,85.19L332.96,81.53Z" fill="#ff8c00"/>
<path d="M338.47,86.74L341.62,88.57L341.62,84.91Z" fill="#ff8c00"/>
<path d="M347.14,90.50L350.29,92.32L350.29,88.67Z" fill="#ff8c00"/>
<path d="M355.80,93.31L358.95,95.14L358.95,91.49Z" fill="#ff8c00"/>
<path d="M364.46,97.54L367.61,99.37L367.61,95.71Z" fill="#ff8c00"/>
<path d="M373.13,101.76L376.28,103.59L376.28,99.94Z" fill="#ff8c00"/>
<path d="M381.79,104.21L384.94,106.03L384.94,102.38Z" fill="#ff8c00"/>
<path d="M390.45,106.65L393.60,108.47L393.60,104.82Z" fill="#ff8c00"/>
<path d="M399.12,109.75L402.27,111.57L402.27,107.92Z" fill="#ff8c00"/>
<path d="M407.78,112.84L410.93,114.67L410.93,111.02Z" fill="#ff8c00"/>
<path d="M416.45,114.53L419.60,116.36L419.60,112.71Z" fill="#ff8c00"/>
<path d="M425.11,117.91L428.26,119.74L428.26,116.09Z" fill="#ff8c00"/>
<path d="M433.77,119.04L436.92,120.87L436.92,117.21Z" fill="#ff8c00"/>
<path d="M442.44,119.42L445.59,121.24L445.59,117.59Z" fill="#ff8c00"/>
<path d="M271.26,18.19L279.93,49.18L288.59,60.45L297.25,67.96L305.92,75.47L314.58,83.92L323.25,87.68L331.91,93.31L340.57,97.82L349.24,99.89L357.90,102.33L366.56,104.86L375.23,107.40L383.89,109.75L392.55,112.09L401.22,114.44L409.88,116.79L418.55,118.67L427.21,120.54L435.87,121.76L444.54,122.99" fill="none" stroke="#bfbf00" stroke-opacity="0.7" stroke-width="1.0" stroke-linejoin="round"/>
<path d="M273.36,18.19L270.21,20.02L270.21,16.37Z" fill="#bfbf00"/>
<path d="M282.03,49.18L278.88,51.01L278.88,47.35Z" fill="#bfbf00"/>
<path d="M290.69,60.45L287.54,62.27L287.54,58.62Z" fill="#bfbf00"/>
<path d="M299.35,67.96L296.20,69.79L296.20,66.13Z" fill="#bfbf00"/>
<path d="M308.02,75.47L304.87,77.30L304.87,73.65Z" fill="#bfbf00"/>
<path d="M316.68,83.92L313.53,85.75L313.53,82.10Z" fill="#bfbf00"/>
<path d="M325.35,87.68L322.20,89.51L322.20,85.85Z" fill="#bfbf00"/>
<path d="M334.01,93.31L330.86,95.14L330.86,91.49Z" fill="#bfbf00"/>
<path d="M342.67,97.82L339.52,99.65L339.52,95.99Z" fill="#bfbf00"/>
<path d="M351.34,99.89L348.19,101.71L348.19,98.06Z" fill="#bfbf00"/>
<path d="M360.00,102.33L356.85,104.15L356.85,100.50Z" fill="#bfbf00"/>
<path d="M368.66,104.86L365.51,106.69L365.51,103.04Z" fill="#bfbf00"/>
<path d="M377.33,107.40L374.18,109.22L374.18,105.57Z" fill="#bfbf00"/>
<path d="M385.99,109.75L382.84,111.57L382.84,107.92Z" fill="#bfbf00"/>
<path d="M394.65,112.09L391.50,113.92L391.50,110.27Z" fill="#bfbf00"/>
<path d="M403.32,114.44L400.17,116.27L400.17,112.61Z" fill="#bfbf00"/>
<path d="M411.98,116.79L408.83,118.62L408.83,114.96Z" fill="#bfbf00"/>
<path d="M420.65,118.67L417.50,120.49L417.50,116.84Z" fill="#bfbf00"/>
<path d="M429.31,120.54L426.16,122.37L426.16,118.72Z" fill="#bfbf00"/>
<path d="M437.97,121.76L434.82,123.59L434.82,119.94Z" fill="#bfbf00"/>
<path d="M446.64,122.99L443.49,124.81L443.49,121.16Z" fill="#bfbf00"/>
<path d="M271.26,18.19L279.93,49.18L288.59,62.33L297.25,75.47L305.92,83.92L314.58,90.50L323.25,97.07L331.91,100.83L340.57,105.71L349.24,108.34L357.90,109.65L366.56,111.15L375.23,112.66L383.89,114.72L392.55,116.79L401.22,118.20L409.88,119.60L418.55,121.01L427.21,122.42L435.87,123.17L444.54,123.92" fill="none" stroke="#008000" stroke-opacity="0.8" stroke-width="1.0" stroke-linejoin="round"/>
<path d="M271.26,16.09L273.09,19.24L269.44,19.24Z" fill="#008000"/>
<path d="M279.93,47.08L281.75,50.23L278.10,50.23Z" fill="#008000"/>
<path d="M288.59,60.23L290.42,63.38L286.76,63.38Z" fill="#008000"/>
<path d="M297.25,73.37L299.08,76.52L295.43,76.52Z" fill="#008000"/>
<path d="M305.92,81.82L307.75,84.97L304.09,84.97Z" fill="#008000"/>
<path d="M314.58,88.40L316.41,91.55L312.75,91.55Z" fill="#008000"/>
<path d="M323.25,94.97L325.07,98.12L321.42,98.12Z" fill="#008000"/>
<path d="M331.91,98.73L333.74,101.88L330.08,101.88Z" fill="#008000"/>
<path d="M340.57,103.61L342.40,106.76L338.75,106.76Z" fill="#008000"/>
<path d="M349.24,106.24L351.06,109.39L347.41,109.39Z" fill="#008000"/>
<path d="M357.90,107.55L359.73,110.70L356.07,110.70Z" fill="#008000"/>
<path d="M366.56,109.05L368.39,112.20L364.74,112.20Z" fill="#008000"/>
<path d="M375.23,110.56L377.05,113.71L373.40,113.71Z" fill="#008000"/>
<path d="M383.89,112.62L385.72,115.77L382.06,115.77Z" fill="#008000"/>
<path d="M392.55,114.69L394.38,117.84L390.73,117.84Z" fill="#008000"/>
<path d="M401.22,116.10L403.05,119.25L399.39,119.25Z" fill="#008000"/>
<path d="M409.88,117.50L411.71,120.65L408.05,120.65Z" fill="#008000"/>
<path d="M418.55,118.91L420.37,122.06L416.72,122.06Z" fill="#008000"/>
<path d="M427.21,120.32L429.04,123.47L425.38,123.47Z" fill="#008000"/>
<path d="M435.87,121.07L437.70,124.22L434.05,124.22Z" fill="#008000"/>
<path d="M444.54,121.82L446.36,124.97L442.71,124.97Z" fill="#008000"/>
<path d="M271.26,18.19L279.93,51.06L288.59,60.45L297.25,71.72L305.92,79.23L314.58,86.74L323.25,91.44L331.91,95.19L340.57,98.01L349.24,100.83L357.90,104.58L366.56,106.93L375.23,109.28L383.89,111.15L392.55,113.03L401.22,114.44L409.88,115.85L418.55,116.79L427.21,117.73L435.87,118.20L444.54,118.67" fill="none" stroke="#a0522d" stroke-opacity="0.6" stroke-width="1.0" stroke-linejoin="round"/>
<circle cx="271.26" cy="18.19" r="1.35" fill="#a0522d"/>
<circle cx="279.93" cy="51.06" r="1.35" fill="#a0522d"/>
<circle cx="288.59" cy="60.45" r="1.35" fill="#a0522d"/>
<circle cx="297.25" cy="71.72" r="1.35" fill="#a0522d"/>
<circle cx="305.92" cy="79.23" r="1.35" fill="#a0522d"/>
<circle cx="314.58" cy="86.74" r="1.35" fill="#a0522d"/>
<circle cx="323.25" cy="91.44" r="1.35" fill="#a0522d"/>
<circle cx="331.91" cy="95.19" r="1.35" fill="#a0522d"/>
<circle cx="340.57" cy="98.01" r="1.35" fill="#a0522d"/>
<circle cx="349.24" cy="100.83" r="1.35" fill="#a0522d"/>
<circle cx="357.90" cy="104.58" r="1.35" fill="#a0522d"/>
<circle cx="366.56" cy="106.93" r="1.35" fill="#a0522d"/>
<circle cx="375.23" cy="109.28" r="1.35" fill="#a0522d"/>
<circle cx="383.89" cy="111.15" r="1.35" fill="#a0522d"/>
<circle cx="392.55" cy="113.03" r="1.35" fill="#a0522d"/>
<circle cx="401.22" cy="114.44" r="1.35" fill="#a0522d"/>
<circle cx="409.88" cy="115.85" r="1.35" fill="#a0522d"/>
<circle cx="418.55" cy="116.79" r="1.35" fill="#a0522d"/>
<circle cx="427.21" cy="117.73" r="1.35" fill="#a0522d"/>
<circle cx="435.87" cy="118.20" r="1.35" fill="#a0522d"/>
<circle cx="444.54" cy="118.67" r="1.35" fill="#a0522d"/>
<path d="M271.26,18.19L279.93,47.30L288.59,69.84L297.25,81.11L305.92,89.93L314.58,92.37L323.25,97.07L331.91,100.83L340.57,103.64L349.24,106.46L357.90,109.28L366.56,111.15L375.23,113.03L383.89,114.44L392.55,115.85L401.22,117.45L409.88,119.04L418.55,119.98L427.21,120.92L435.87,121.67L444.54,122.42" fill="none" stroke="#ee82ee" stroke-opacity="0.85" stroke-width="1.0" stroke-linejoin="round"/>
<path d="M269.86,18.19H272.66M271.26,16.79V19.59" stroke="#ee82ee" stroke-width="1.2"/>
<path d="M278.53,47.30H281.33M279.93,45.90V48.70" stroke="#ee82ee" stroke-width="1.2"/>
<path d="M287.19,69.84H289.99M288.59,68.44V71.24" stroke="#ee82ee" stroke-width="1.2"/>
<path d="M295.85,81.11H298.65M297.25,79.71V82.51" stroke="#ee82ee" stroke-width="1.2"/>
<path d="M304.52,89.93H307.32M305.92,88.53V91.33" stroke="#ee82ee" stroke-width="1.2"/>
<path d="M313.18,92.37H315.98M314.58,90.97V93.77" stroke="#ee82ee" stroke-width="1.2"/>
<path d="M321.85,97.07H324.65M323.25,95.67V98.47" stroke="#ee82ee" stroke-width="1.2"/>
<path d="M330.51,100.83H333.31M331.91,99.43V102.23" stroke="#ee82ee" stroke-width="1.2"/>
<path d="M339.17,103.64H341.97M340.57,102.24V105.04" stroke="#ee82ee" stroke-width="1.2"/>
<path d="M347.84,106.46H350.64M349.24,105.06V107.86" stroke="#ee82ee" stroke-width="1.2"/>
<path d="M356.50,109.28H359.30M357.90,107.88V110.68" stroke="#ee82ee" stroke-width="1.2"/>
<path d="M365.16,111.15H367.96M366.56,109.75V112.55" stroke="#ee82ee" stroke-width="1.2"/>
<path d="M373.83,113.03H376.63M375.23,111.63V114.43" stroke="#ee82ee" stroke-width="1.2"/>
<path d="M382.49,114.44H385.29M383.89,113.04V115.84" stroke="#ee82ee" stroke-width="1.2"/>
<path d="M391.15,115.85H393.95M392.55,114.45V117.25" stroke="#ee82ee" stroke-width="1.2"/>
<path d="M399.82,117.45H402.62M401.22,116.05V118.85" stroke="#ee82ee" stroke-width="1.2"/>
<path d="M408.48,119.04H411.28M409.88,117.64V120.44" stroke="#ee82ee" stroke-width="1.2"/>
<path d="M417.15,119.98H419.95M418.55,118.58V121.38" stroke="#ee82ee" stroke-width="1.2"/>
<path d="M425.81,120.92H428.61M427.21,119.52V122.32" stroke="#ee82ee" stroke-width="1.2"/>
<path d="M434.47,121.67H437.27M435.87,120.27V123.07" stroke="#ee82ee" stroke-width="1.2"/>
<path d="M443.14,122.42H445.94M444.54,121.02V123.82" stroke="#ee82ee" stroke-width="1.2"/>
<path d="M271.26,18.19L279.93,49.18L288.59,58.57L297.25,69.84L305.92,81.11L314.58,89.93L323.25,91.44L331.91,93.31L340.57,95.57L349.24,99.51L357.90,100.64L366.56,101.95L375.23,103.27L383.89,104.21L392.55,105.14L401.22,106.46L409.88,107.77L418.55,108.06L427.21,108.34L435.87,109.65L444.54,110.59" fill="none" stroke="#808080" stroke-opacity="0.65" stroke-width="1.0" stroke-linejoin="round"/>
<path d="M269.76,16.69L272.76,19.69M269.76,19.69L272.76,16.69" stroke="#505050" stroke-width="0.8"/>
<path d="M278.43,47.68L281.43,50.68M278.43,50.68L281.43,47.68" stroke="#505050" stroke-width="0.8"/>
<path d="M287.09,57.07L290.09,60.07M287.09,60.07L290.09,57.07" stroke="#505050" stroke-width="0.8"/>
<path d="M295.75,68.34L298.75,71.34M295.75,71.34L298.75,68.34" stroke="#505050" stroke-width="0.8"/>
<path d="M304.42,79.61L307.42,82.61M304.42,82.61L307.42,79.61" stroke="#505050" stroke-width="0.8"/>
<path d="M313.08,88.43L316.08,91.43M313.08,91.43L316.08,88.43" stroke="#505050" stroke-width="0.8"/>
<path d="M321.75,89.94L324.75,92.94M321.75,92.94L324.75,89.94" stroke="#505050" stroke-width="0.8"/>
<path d="M330.41,91.81L333.41,94.81M330.41,94.81L333.41,91.81" stroke="#505050" stroke-width="0.8"/>
<path d="M339.07,94.07L342.07,97.07M339.07,97.07L342.07,94.07" stroke="#505050" stroke-width="0.8"/>
<path d="M347.74,98.01L350.74,101.01M347.74,101.01L350.74,98.01" stroke="#505050" stroke-width="0.8"/>
<path d="M356.40,99.14L359.40,102.14M356.40,102.14L359.40,99.14" stroke="#505050" stroke-width="0.8"/>
<path d="M365.06,100.45L368.06,103.45M365.06,103.45L368.06,100.45" stroke="#505050" stroke-width="0.8"/>
<path d="M373.73,101.77L376.73,104.77M373.73,104.77L376.73,101.77" stroke="#505050" stroke-width="0.8"/>
<path d="M382.39,102.71L385.39,105.71M382.39,105.71L385.39,102.71" stroke="#505050" stroke-width="0.8"/>
<path d="M391.05,103.64L394.05,106.64M391.05,106.64L394.05,103.64" stroke="#505050" stroke-width="0.8"/>
<path d="M399.72,104.96L402.72,107.96M399.72,107.96L402.72,104.96" stroke="#505050" stroke-width="0.8"/>
<path d="M408.38,106.27L411.38,109.27M408.38,109.27L411.38,106.27" stroke="#505050" stroke-width="0.8"/>
<path d="M417.05,106.56L420.05,109.56M417.05,109.56L420.05,106.56" stroke="#505050" stroke-width="0.8"/>
<path d="M425.71,106.84L428.71,109.84M425.71,109.84L428.71,106.84" stroke="#505050" stroke-width="0.8"/>
<path d="M434.37,108.15L437.37,111.15M434.37,111.15L437.37,108.15" stroke="#505050" stroke-width="0.8"/>
<path d="M443.04,109.09L446.04,112.09M443.04,112.09L446.04,109.09" stroke="#505050" stroke-width="0.8"/>
<path d="M271.26,18.19L279.93,47.30L288.59,52.94L297.25,64.77L305.92,73.22L314.58,76.60L323.25,82.80L331.91,83.74L340.57,87.30L349.24,91.81L357.90,92.75L366.56,95.94L375.23,98.38L383.89,101.58L392.55,102.89L401.22,103.64L409.88,104.39L418.55,105.43L427.21,106.46L435.87,107.77L444.54,108.90" fill="none" stroke="#c000c0" stroke-opacity="0.85" stroke-width="1.0" stroke-linejoin="round"/>
<path d="M271.26,15.79L272.86,18.19L271.26,20.59L269.66,18.19Z" fill="#c000c0"/>
<path d="M279.93,44.90L281.53,47.30L279.93,49.70L278.33,47.30Z" fill="#c000c0"/>
<path d="M288.59,50.54L290.19,52.94L288.59,55.34L286.99,52.94Z" fill="#c000c0"/>
<path d="M297.25,62.37L298.85,64.77L297.25,67.17L295.65,64.77Z" fill="#c000c0"/>
<path d="M305.92,70.82L307.52,73.22L305.92,75.62L304.32,73.22Z" fill="#c000c0"/>
<path d="M314.58,74.20L316.18,76.60L314.58,79.00L312.98,76.60Z" fill="#c000c0"/>
<path d="M323.25,80.40L324.85,82.80L323.25,85.20L321.65,82.80Z" fill="#c000c0"/>
<path d="M331.91,81.34L333.51,83.74L331.91,86.14L330.31,83.74Z" fill="#c000c0"/>
<path d="M340.57,84.90L342.17,87.30L340.57,89.70L338.97,87.30Z" fill="#c000c0"/>
<path d="M349.24,89.41L350.84,91.81L349.24,94.21L347.64,91.81Z" fill="#c000c0"/>
<path d="M357.90,90.35L359.50,92.75L357.90,95.15L356.30,92.75Z" fill="#c000c0"/>
<path d="M366.56,93.54L368.16,95.94L366.56,98.34L364.96,95.94Z" fill="#c000c0"/>
<path d="M375.23,95.98L376.83,98.38L375.23,100.78L373.63,98.38Z" fill="#c000c0"/>
<path d="M383.89,99.18L385.49,101.58L383.89,103.98L382.29,101.58Z" fill="#c000c0"/>
<path d="M392.55,100.49L394.15,102.89L392.55,105.29L390.95,102.89Z" fill="#c000c0"/>
<path d="M401.22,101.24L402.82,103.64L401.22,106.04L399.62,103.64Z" fill="#c000c0"/>
<path d="M409.88,101.99L411.48,104.39L409.88,106.79L408.28,104.39Z" fill="#c000c0"/>
<path d="M418.55,103.03L420.15,105.43L418.55,107.83L416.95,105.43Z" fill="#c000c0"/>
<path d="M427.21,104.06L428.81,106.46L427.21,108.86L425.61,106.46Z" fill="#c000c0"/>
<path d="M435.87,105.37L437.47,107.77L435.87,110.17L434.27,107.77Z" fill="#c000c0"/>
<path d="M444.54,106.50L446.14,108.90L444.54,111.30L442.94,108.90Z" fill="#c000c0"/>
<path d="M271.26,18.19L279.93,49.18L288.59,60.82L297.25,64.20L305.92,72.09L314.58,81.11L323.25,88.99L331.91,95.57L340.57,98.01L349.24,102.70L357.90,104.58L366.56,107.77L375.23,110.22L383.89,111.81L392.55,113.41L401.22,115.10L409.88,116.79L418.55,117.91L427.21,119.04L435.87,119.60L444.54,120.17" fill="none" stroke="#4169e1" stroke-opacity="0.55" stroke-width="1.0" stroke-linejoin="round"/>
<rect x="269.66" y="16.59" width="3.20" height="3.20" fill="#4169e1"/>
<rect x="278.33" y="47.58" width="3.20" height="3.20" fill="#4169e1"/>
<rect x="286.99" y="59.22" width="3.20" height="3.20" fill="#4169e1"/>
<rect x="295.65" y="62.60" width="3.20" height="3.20" fill="#4169e1"/>
<rect x="304.32" y="70.49" width="3.20" height="3.20" fill="#4169e1"/>
<rect x="312.98" y="79.51" width="3.20" height="3.20" fill="#4169e1"/>
<rect x="321.65" y="87.39" width="3.20" height="3.20" fill="#4169e1"/>
<rect x="330.31" y="93.97" width="3.20" height="3.20" fill="#4169e1"/>
<rect x="338.97" y="96.41" width="3.20" height="3.20" fill="#4169e1"/>
<rect x="347.64" y="101.10" width="3.20" height="3.20" fill="#4169e1"/>
<rect x="356.30" y="102.98" width="3.20" height="3.20" fill="#4169e1"/>
<rect x="364.96" y="106.17" width="3.20" height="3.20" fill="#4169e1"/>
<rect x="373.63" y="108.62" width="3.20" height="3.20" fill="#4169e1"/>
<rect x="382.29" y="110.21" width="3.20" height="3.20" fill="#4169e1"/>
<rect x="390.95" y="111.81" width="3.20" height="3.20" fill="#4169e1"/>
<rect x="399.62" y="113.50" width="3.20" height="3.20" fill="#4169e1"/>
<rect x="408.28" y="115.19" width="3.20" height="3.20" fill="#4169e1"/>
<rect x="416.95" y="116.31" width="3.20" height="3.20" fill="#4169e1"/>
<rect x="425.61" y="117.44" width="3.20" height="3.20" fill="#4169e1"/>
<rect x="434.27" y="118.00" width="3.20" height="3.20" fill="#4169e1"/>
<rect x="442.94" y="118.57" width="3.20" height="3.20" fill="#4169e1"/>
<path d="M271.26,18.19L279.93,38.48L288.59,47.30L297.25,54.63L305.92,61.20L314.58,64.20L323.25,68.71L331.91,73.22L340.57,74.35L349.24,76.60L357.90,79.42L366.56,81.48L375.23,82.80L383.89,85.80L392.55,88.05L401.22,94.82L409.88,100.07L418.55,100.64L427.21,101.76L435.87,102.89L444.54,104.39" fill="none" stroke="#663399" stroke-opacity="0.9" stroke-width="1.0" stroke-linejoin="round"/>
<circle cx="271.26" cy="18.19" r="1.75" fill="#551a8b"/>
<circle cx="279.93" cy="38.48" r="1.75" fill="#551a8b"/>
<circle cx="288.59" cy="47.30" r="1.75" fill="#551a8b"/>
<circle cx="297.25" cy="54.63" r="1.75" fill="#551a8b"/>
<circle cx="305.92" cy="61.20" r="1.75" fill="#551a8b"/>
<circle cx="314.58" cy="64.20" r="1.75" fill="#551a8b"/>
<circle cx="323.25" cy="68.71" r="1.75" fill="#551a8b"/>
<circle cx="331.91" cy="73.22" r="1.75" fill="#551a8b"/>
<circle cx="340.57" cy="74.35" r="1.75" fill="#551a8b"/>
<circle cx="349.24" cy="76.60" r="1.75" fill="#551a8b"/>
<circle cx="357.90" cy="79.42" r="1.75" fill="#551a8b"/>
<circle cx="366.56" cy="81.48" r="1.75" fill="#551a8b"/>
<circle cx="375.23" cy="82.80" r="1.75" fill="#551a8b"/>
<circle cx="383.89" cy="85.80" r="1.75" fill="#551a8b"/>
<circle cx="392.55" cy="88.05" r="1.75" fill="#551a8b"/>
<circle cx="401.22" cy="94.82" r="1.75" fill="#551a8b"/>
<circle cx="409.88" cy="100.07" r="1.75" fill="#551a8b"/>
<circle cx="418.55" cy="100.64" r="1.75" fill="#551a8b"/>
<circle cx="427.21" cy="101.76" r="1.75" fill="#551a8b"/>
<circle cx="435.87" cy="102.89" r="1.75" fill="#551a8b"/>
<circle cx="444.54" cy="104.39" r="1.75" fill="#551a8b"/>
<path d="M271.26,18.19L279.93,49.18L288.59,67.96L297.25,79.98L305.92,86.74L314.58,93.31L323.25,98.95L331.91,102.70L340.57,105.90L349.24,109.28L357.90,111.91L366.56,113.41L375.23,114.53L383.89,115.66L392.55,116.79L401.22,118.76L409.88,120.73L418.55,121.58L427.21,122.42L435.87,123.55L444.54,124.68" fill="none" stroke="#20b2aa" stroke-opacity="0.6" stroke-width="1.0" stroke-linejoin="round"/>
<path d="M271.26,20.39L273.18,17.09L269.35,17.09Z" fill="#20b8b8"/>
<path d="M279.93,51.38L281.84,48.08L278.01,48.08Z" fill="#20b8b8"/>
<path d="M288.59,70.16L290.50,66.86L286.68,66.86Z" fill="#20b8b8"/>
<path d="M297.25,82.18L299.17,78.88L295.34,78.88Z" fill="#20b8b8"/>
<path d="M305.92,88.94L307.83,85.64L304.00,85.64Z" fill="#20b8b8"/>
<path d="M314.58,95.51L316.50,92.21L312.67,92.21Z" fill="#20b8b8"/>
<path d="M323.25,101.15L325.16,97.85L321.33,97.85Z" fill="#20b8b8"/>
<path d="M331.91,104.90L333.82,101.60L330.00,101.60Z" fill="#20b8b8"/>
<path d="M340.57,108.10L342.49,104.80L338.66,104.80Z" fill="#20b8b8"/>
<path d="M349.24,111.48L351.15,108.18L347.32,108.18Z" fill="#20b8b8"/>
<path d="M357.90,114.11L359.81,110.81L355.99,110.81Z" fill="#20b8b8"/>
<path d="M366.56,115.61L368.48,112.31L364.65,112.31Z" fill="#20b8b8"/>
<path d="M375.23,116.73L377.14,113.43L373.31,113.43Z" fill="#20b8b8"/>
<path d="M383.89,117.86L385.80,114.56L381.98,114.56Z" fill="#20b8b8"/>
<path d="M392.55,118.99L394.47,115.69L390.64,115.69Z" fill="#20b8b8"/>
<path d="M401.22,120.96L403.13,117.66L399.30,117.66Z" fill="#20b8b8"/>
<path d="M409.88,122.93L411.80,119.63L407.97,119.63Z" fill="#20b8b8"/>
<path d="M418.55,123.78L420.46,120.48L416.63,120.48Z" fill="#20b8b8"/>
<path d="M427.21,124.62L429.12,121.32L425.30,121.32Z" fill="#20b8b8"/>
<path d="M435.87,125.75L437.79,122.45L433.96,122.45Z" fill="#20b8b8"/>
<path d="M444.54,126.88L446.45,123.58L442.62,123.58Z" fill="#20b8b8"/>
<path d="M271.26,18.19L279.93,46.18L288.59,64.20L297.25,76.04L305.92,83.36L314.58,91.81L323.25,98.57L331.91,102.33L340.57,103.64L349.24,105.71L357.90,107.96L366.56,111.15L375.23,112.84L383.89,114.53L392.55,115.66L401.22,117.16L409.88,118.67L418.55,119.42L427.21,120.73L435.87,121.20L444.54,121.67" fill="none" stroke="#ff0000" stroke-opacity="0.85" stroke-width="1.0" stroke-linejoin="round"/>
<circle cx="271.26" cy="18.19" r="1.80" fill="#ff0000"/>
<circle cx="279.93" cy="46.18" r="1.80" fill="#ff0000"/>
<circle cx="288.59" cy="64.20" r="1.80" fill="#ff0000"/>
<circle cx="297.25" cy="76.04" r="1.80" fill="#ff0000"/>
<circle cx="305.92" cy="83.36" r="1.80" fill="#ff0000"/>
<circle cx="314.58" cy="91.81" r="1.80" fill="#ff0000"/>
<circle cx="323.25" cy="98.57" r="1.80" fill="#ff0000"/>
<circle cx="331.91" cy="102.33" r="1.80" fill="#ff0000"/>
<circle cx="340.57" cy="103.64" r="1.80" fill="#ff0000"/>
<circle cx="349.24" cy="105.71" r="1.80" fill="#ff0000"/>
<circle cx="357.90" cy="107.96" r="1.80" fill="#ff0000"/>
<circle cx="366.56" cy="111.15" r="1.80" fill="#ff0000"/>
<circle cx="375.23" cy="112.84" r="1.80" fill="#ff0000"/>
<circle cx="383.89" cy="114.53" r="1.80" fill="#ff0000"/>
<circle cx="392.55" cy="115.66" r="1.80" fill="#ff0000"/>
<circle cx="401.22" cy="117.16" r="1.80" fill="#ff0000"/>
<circle cx="409.88" cy="118.67" r="1.80" fill="#ff0000"/>
<circle cx="418.55" cy="119.42" r="1.80" fill="#ff0000"/>
<circle cx="427.21" cy="120.73" r="1.80" fill="#ff0000"/>
<circle cx="435.87" cy="121.20" r="1.80" fill="#ff0000"/>
<circle cx="444.54" cy="121.67" r="1.80" fill="#ff0000"/>
</g>
<rect x="262.6" y="16.4" width="190.60" height="110.80" fill="none" stroke="#444" stroke-width="0.9"/>
<line x1="271.26" y1="127.2" x2="271.26" y2="129.7" stroke="#333" stroke-width="0.9"/>
<text x="269.32" y="136.60" textLength="3.88" lengthAdjust="spacingAndGlyphs" class="tk">0</text>
<line x1="300.14" y1="127.2" x2="300.14" y2="129.7" stroke="#333" stroke-width="0.9"/>
<text x="296.26" y="136.60" textLength="7.76" lengthAdjust="spacingAndGlyphs" class="tk">10</text>
<line x1="329.02" y1="127.2" x2="329.02" y2="129.7" stroke="#333" stroke-width="0.9"/>
<text x="325.14" y="136.60" textLength="7.76" lengthAdjust="spacingAndGlyphs" class="tk">20</text>
<line x1="357.90" y1="127.2" x2="357.90" y2="129.7" stroke="#333" stroke-width="0.9"/>
<text x="354.02" y="136.60" textLength="7.76" lengthAdjust="spacingAndGlyphs" class="tk">30</text>
<line x1="386.78" y1="127.2" x2="386.78" y2="129.7" stroke="#333" stroke-width="0.9"/>
<text x="382.90" y="136.60" textLength="7.76" lengthAdjust="spacingAndGlyphs" class="tk">40</text>
<line x1="415.66" y1="127.2" x2="415.66" y2="129.7" stroke="#333" stroke-width="0.9"/>
<text x="411.78" y="136.60" textLength="7.76" lengthAdjust="spacingAndGlyphs" class="tk">50</text>
<line x1="444.54" y1="127.2" x2="444.54" y2="129.7" stroke="#333" stroke-width="0.9"/>
<text x="440.66" y="136.60" textLength="7.76" lengthAdjust="spacingAndGlyphs" class="tk">60</text>
<line x1="260.1" y1="124.30" x2="262.6" y2="124.30" stroke="#333" stroke-width="0.9"/>
<text x="247.60" y="126.50" textLength="9.70" lengthAdjust="spacingAndGlyphs" class="tk">0.1</text>
<line x1="260.1" y1="105.52" x2="262.6" y2="105.52" stroke="#333" stroke-width="0.9"/>
<text x="247.60" y="107.72" textLength="9.70" lengthAdjust="spacingAndGlyphs" class="tk">0.2</text>
<line x1="260.1" y1="86.74" x2="262.6" y2="86.74" stroke="#333" stroke-width="0.9"/>
<text x="247.60" y="88.94" textLength="9.70" lengthAdjust="spacingAndGlyphs" class="tk">0.3</text>
<line x1="260.1" y1="67.96" x2="262.6" y2="67.96" stroke="#333" stroke-width="0.9"/>
<text x="247.60" y="70.16" textLength="9.70" lengthAdjust="spacingAndGlyphs" class="tk">0.4</text>
<line x1="260.1" y1="49.18" x2="262.6" y2="49.18" stroke="#333" stroke-width="0.9"/>
<text x="247.60" y="51.38" textLength="9.70" lengthAdjust="spacingAndGlyphs" class="tk">0.5</text>
<line x1="260.1" y1="30.40" x2="262.6" y2="30.40" stroke="#333" stroke-width="0.9"/>
<text x="247.60" y="32.60" textLength="9.70" lengthAdjust="spacingAndGlyphs" class="tk">0.6</text>
<text x="357.90" y="12.80" text-anchor="middle" class="sf">Balance-scale</text>
<text x="357.90" y="147.60" text-anchor="middle" class="sf">Number of queries</text>
<text transform="translate(243.30,71.80) rotate(-90)" x="0" y="0" text-anchor="middle" class="sf">MAE</text>
<defs><clipPath id="c2"><rect x="490.5" y="16.4" width="190.29999999999995" height="110.80000000000001"/></clipPath></defs>
<line x1="499.15" y1="16.4" x2="499.15" y2="127.2" stroke="#b0b0b0" stroke-opacity="0.62" stroke-width="1"/>
<line x1="527.98" y1="16.4" x2="527.98" y2="127.2" stroke="#b0b0b0" stroke-opacity="0.62" stroke-width="1"/>
<line x1="556.82" y1="16.4" x2="556.82" y2="127.2" stroke="#b0b0b0" stroke-opacity="0.62" stroke-width="1"/>
<line x1="585.65" y1="16.4" x2="585.65" y2="127.2" stroke="#b0b0b0" stroke-opacity="0.62" stroke-width="1"/>
<line x1="614.48" y1="16.4" x2="614.48" y2="127.2" stroke="#b0b0b0" stroke-opacity="0.62" stroke-width="1"/>
<line x1="643.32" y1="16.4" x2="643.32" y2="127.2" stroke="#b0b0b0" stroke-opacity="0.62" stroke-width="1"/>
<line x1="672.15" y1="16.4" x2="672.15" y2="127.2" stroke="#b0b0b0" stroke-opacity="0.62" stroke-width="1"/>
<line x1="490.5" y1="119.60" x2="680.8" y2="119.60" stroke="#b0b0b0" stroke-opacity="0.62" stroke-width="1"/>
<line x1="490.5" y1="100.72" x2="680.8" y2="100.72" stroke="#b0b0b0" stroke-opacity="0.62" stroke-width="1"/>
<line x1="490.5" y1="81.84" x2="680.8" y2="81.84" stroke="#b0b0b0" stroke-opacity="0.62" stroke-width="1"/>
<line x1="490.5" y1="62.96" x2="680.8" y2="62.96" stroke="#b0b0b0" stroke-opacity="0.62" stroke-width="1"/>
<line x1="490.5" y1="44.08" x2="680.8" y2="44.08" stroke="#b0b0b0" stroke-opacity="0.62" stroke-width="1"/>
<line x1="490.5" y1="25.20" x2="680.8" y2="25.20" stroke="#b0b0b0" stroke-opacity="0.62" stroke-width="1"/>
<g clip-path="url(#c2)">
<path d="M499.15,18.21L507.80,87.69L516.45,102.42L525.10,105.63L533.75,108.27L542.40,111.10L551.05,112.99L559.70,113.94L568.35,115.45L577.00,116.58L585.65,117.71L594.30,117.95L602.95,118.18L611.60,118.42L620.25,118.66L628.90,118.81L637.55,118.97L646.20,119.13L654.85,119.29L663.50,119.44L672.15,119.60" fill="none" stroke="#0000ff" stroke-opacity="0.55" stroke-width="1.0" stroke-linejoin="round"/>
<circle cx="499.15" cy="18.21" r="1.05" fill="#0000ff"/>
<circle cx="507.80" cy="87.69" r="1.05" fill="#0000ff"/>
<circle cx="516.45" cy="102.42" r="1.05" fill="#0000ff"/>
<circle cx="525.10" cy="105.63" r="1.05" fill="#0000ff"/>
<circle cx="533.75" cy="108.27" r="1.05" fill="#0000ff"/>
<circle cx="542.40" cy="111.10" r="1.05" fill="#0000ff"/>
<circle cx="551.05" cy="112.99" r="1.05" fill="#0000ff"/>
<circle cx="559.70" cy="113.94" r="1.05" fill="#0000ff"/>
<circle cx="568.35" cy="115.45" r="1.05" fill="#0000ff"/>
<circle cx="577.00" cy="116.58" r="1.05" fill="#0000ff"/>
<circle cx="585.65" cy="117.71" r="1.05" fill="#0000ff"/>
<circle cx="594.30" cy="117.95" r="1.05" fill="#0000ff"/>
<circle cx="602.95" cy="118.18" r="1.05" fill="#0000ff"/>
<circle cx="611.60" cy="118.42" r="1.05" fill="#0000ff"/>
<circle cx="620.25" cy="118.66" r="1.05" fill="#0000ff"/>
<circle cx="628.90" cy="118.81" r="1.05" fill="#0000ff"/>
<circle cx="637.55" cy="118.97" r="1.05" fill="#0000ff"/>
<circle cx="646.20" cy="119.13" r="1.05" fill="#0000ff"/>
<circle cx="654.85" cy="119.29" r="1.05" fill="#0000ff"/>
<circle cx="663.50" cy="119.44" r="1.05" fill="#0000ff"/>
<circle cx="672.15" cy="119.60" r="1.05" fill="#0000ff"/>
<path d="M499.15,18.21L507.80,44.08L516.45,59.75L525.10,74.67L533.75,76.55L542.40,81.08L551.05,82.22L559.70,86.56L568.35,82.78L577.00,93.36L585.65,94.49L594.30,95.43L602.95,96.57L611.60,102.23L620.25,103.55L628.90,104.50L637.55,105.44L646.20,107.80L654.85,110.16L663.50,112.24L672.15,114.50" fill="none" stroke="#ff8c00" stroke-opacity="0.85" stroke-width="1.0" stroke-linejoin="round"/>
<path d="M497.05,18.21L500.20,20.04L500.20,16.39Z" fill="#ff8c00"/>
<path d="M505.70,44.08L508.85,45.91L508.85,42.25Z" fill="#ff8c00"/>
<path d="M514.35,59.75L517.50,61.58L517.50,57.92Z" fill="#ff8c00"/>
<path d="M523.00,74.67L526.15,76.49L526.15,72.84Z" fill="#ff8c00"/>
<path d="M531.65,76.55L534.80,78.38L534.80,74.73Z" fill="#ff8c00"/>
<path d="M540.30,81.08L543.45,82.91L543.45,79.26Z" fill="#ff8c00"/>
<path d="M548.95,82.22L552.10,84.04L552.10,80.39Z" fill="#ff8c00"/>
<path d="M557.60,86.56L560.75,88.39L560.75,84.73Z" fill="#ff8c00"/>
<path d="M566.25,82.78L569.40,84.61L569.40,80.96Z" fill="#ff8c00"/>
<path d="M574.90,93.36L578.05,95.18L578.05,91.53Z" fill="#ff8c00"/>
<path d="M583.55,94.49L586.70,96.32L586.70,92.66Z" fill="#ff8c00"/>
<path d="M592.20,95.43L595.35,97.26L595.35,93.61Z" fill="#ff8c00"/>
<path d="M600.85,96.57L604.00,98.39L604.00,94.74Z" fill="#ff8c00"/>
<path d="M609.50,102.23L612.65,104.06L612.65,100.40Z" fill="#ff8c00"/>
<path d="M618.15,103.55L621.30,105.38L621.30,101.72Z" fill="#ff8c00"/>
<path d="M626.80,104.50L629.95,106.32L629.95,102.67Z" fill="#ff8c00"/>
<path d="M635.45,105.44L638.60,107.27L638.60,103.61Z" fill="#ff8c00"/>
<path d="M644.10,107.80L647.25,109.63L647.25,105.97Z" fill="#ff8c00"/>
<path d="M652.75,110.16L655.90,111.99L655.90,108.33Z" fill="#ff8c00"/>
<path d="M661.40,112.24L664.55,114.06L664.55,110.41Z" fill="#ff8c00"/>
<path d="M670.05,114.50L673.20,116.33L673.20,112.68Z" fill="#ff8c00"/>
<path d="M499.15,18.21L507.80,59.18L516.45,73.91L525.10,83.35L533.75,94.49L542.40,95.62L551.05,100.72L559.70,105.63L568.35,110.16L577.00,112.80L585.65,113.37L594.30,113.84L602.95,114.31L611.60,114.93L620.25,115.54L628.90,116.15L637.55,116.77L646.20,117.62L654.85,118.47L663.50,119.32L672.15,120.17" fill="none" stroke="#bfbf00" stroke-opacity="0.7" stroke-width="1.0" stroke-linejoin="round"/>
<path d="M501.25,18.21L498.10,20.04L498.10,16.39Z" fill="#bfbf00"/>
<path d="M509.90,59.18L506.75,61.01L506.75,57.36Z" fill="#bfbf00"/>
<path d="M518.55,73.91L515.40,75.74L515.40,72.08Z" fill="#bfbf00"/>
<path d="M527.20,83.35L524.05,85.18L524.05,81.52Z" fill="#bfbf00"/>
<path d="M535.85,94.49L532.70,96.32L532.70,92.66Z" fill="#bfbf00"/>
<path d="M544.50,95.62L541.35,97.45L541.35,93.80Z" fill="#bfbf00"/>
<path d="M553.15,100.72L550.00,102.55L550.00,98.89Z" fill="#bfbf00"/>
<path d="M561.80,105.63L558.65,107.46L558.65,103.80Z" fill="#bfbf00"/>
<path d="M570.45,110.16L567.30,111.99L567.30,108.33Z" fill="#bfbf00"/>
<path d="M579.10,112.80L575.95,114.63L575.95,110.98Z" fill="#bfbf00"/>
<path d="M587.75,113.37L584.60,115.20L584.60,111.54Z" fill="#bfbf00"/>
<path d="M596.40,113.84L593.25,115.67L593.25,112.01Z" fill="#bfbf00"/>
<path d="M605.05,114.31L601.90,116.14L601.90,112.49Z" fill="#bfbf00"/>
<path d="M613.70,114.93L610.55,116.75L610.55,113.10Z" fill="#bfbf00"/>
<path d="M622.35,115.54L619.20,117.37L619.20,113.71Z" fill="#bfbf00"/>
<path d="M631.00,116.15L627.85,117.98L627.85,114.33Z" fill="#bfbf00"/>
<path d="M639.65,116.77L636.50,118.59L636.50,114.94Z" fill="#bfbf00"/>
<path d="M648.30,117.62L645.15,119.44L645.15,115.79Z" fill="#bfbf00"/>
<path d="M656.95,118.47L653.80,120.29L653.80,116.64Z" fill="#bfbf00"/>
<path d="M665.60,119.32L662.45,121.14L662.45,117.49Z" fill="#bfbf00"/>
<path d="M674.25,120.17L671.10,121.99L671.10,118.34Z" fill="#bfbf00"/>
<path d="M499.15,18.21L507.80,76.18L516.45,91.28L525.10,100.72L533.75,106.38L542.40,110.16L551.05,113.94L559.70,114.88L568.35,115.82L577.00,116.11L585.65,116.39L594.30,116.72L602.95,117.05L611.60,117.38L620.25,117.71L628.90,118.03L637.55,118.34L646.20,118.66L654.85,118.97L663.50,119.29L672.15,119.60" fill="none" stroke="#008000" stroke-opacity="0.8" stroke-width="1.0" stroke-linejoin="round"/>
<path d="M499.15,16.11L500.98,19.26L497.32,19.26Z" fill="#008000"/>
<path d="M507.80,74.08L509.63,77.23L505.97,77.23Z" fill="#008000"/>
<path d="M516.45,89.18L518.28,92.33L514.62,92.33Z" fill="#008000"/>
<path d="M525.10,98.62L526.93,101.77L523.27,101.77Z" fill="#008000"/>
<path d="M533.75,104.28L535.58,107.43L531.92,107.43Z" fill="#008000"/>
<path d="M542.40,108.06L544.23,111.21L540.57,111.21Z" fill="#008000"/>
<path d="M551.05,111.84L552.88,114.99L549.22,114.99Z" fill="#008000"/>
<path d="M559.70,112.78L561.53,115.93L557.87,115.93Z" fill="#008000"/>
<path d="M568.35,113.72L570.18,116.87L566.52,116.87Z" fill="#008000"/>
<path d="M577.00,114.01L578.83,117.16L575.17,117.16Z" fill="#008000"/>
<path d="M585.65,114.29L587.48,117.44L583.82,117.44Z" fill="#008000"/>
<path d="M594.30,114.62L596.13,117.77L592.47,117.77Z" fill="#008000"/>
<path d="M602.95,114.95L604.78,118.10L601.12,118.10Z" fill="#008000"/>
<path d="M611.60,115.28L613.43,118.43L609.77,118.43Z" fill="#008000"/>
<path d="M620.25,115.61L622.08,118.76L618.42,118.76Z" fill="#008000"/>
<path d="M628.90,115.93L630.73,119.08L627.07,119.08Z" fill="#008000"/>
<path d="M637.55,116.24L639.38,119.39L635.72,119.39Z" fill="#008000"/>
<path d="M646.20,116.56L648.03,119.71L644.37,119.71Z" fill="#008000"/>
<path d="M654.85,116.87L656.68,120.02L653.02,120.02Z" fill="#008000"/>
<path d="M663.50,117.19L665.33,120.34L661.67,120.34Z" fill="#008000"/>
<path d="M672.15,117.50L673.98,120.65L670.32,120.65Z" fill="#008000"/>
<path d="M499.15,18.21L507.80,72.40L516.45,91.09L525.10,97.89L533.75,100.72L542.40,106.76L551.05,111.29L559.70,112.99L568.35,113.94L577.00,114.88L585.65,115.07L594.30,115.35L602.95,115.64L611.60,116.06L620.25,116.48L628.90,116.91L637.55,117.33L646.20,117.52L654.85,117.71L663.50,118.66L672.15,119.60" fill="none" stroke="#a0522d" stroke-opacity="0.6" stroke-width="1.0" stroke-linejoin="round"/>
<circle cx="499.15" cy="18.21" r="1.35" fill="#a0522d"/>
<circle cx="507.80" cy="72.40" r="1.35" fill="#a0522d"/>
<circle cx="516.45" cy="91.09" r="1.35" fill="#a0522d"/>
<circle cx="525.10" cy="97.89" r="1.35" fill="#a0522d"/>
<circle cx="533.75" cy="100.72" r="1.35" fill="#a0522d"/>
<circle cx="542.40" cy="106.76" r="1.35" fill="#a0522d"/>
<circle cx="551.05" cy="111.29" r="1.35" fill="#a0522d"/>
<circle cx="559.70" cy="112.99" r="1.35" fill="#a0522d"/>
<circle cx="568.35" cy="113.94" r="1.35" fill="#a0522d"/>
<circle cx="577.00" cy="114.88" r="1.35" fill="#a0522d"/>
<circle cx="585.65" cy="115.07" r="1.35" fill="#a0522d"/>
<circle cx="594.30" cy="115.35" r="1.35" fill="#a0522d"/>
<circle cx="602.95" cy="115.64" r="1.35" fill="#a0522d"/>
<circle cx="611.60" cy="116.06" r="1.35" fill="#a0522d"/>
<circle cx="620.25" cy="116.48" r="1.35" fill="#a0522d"/>
<circle cx="628.90" cy="116.91" r="1.35" fill="#a0522d"/>
<circle cx="637.55" cy="117.33" r="1.35" fill="#a0522d"/>
<circle cx="646.20" cy="117.52" r="1.35" fill="#a0522d"/>
<circle cx="654.85" cy="117.71" r="1.35" fill="#a0522d"/>
<circle cx="663.50" cy="118.66" r="1.35" fill="#a0522d"/>
<circle cx="672.15" cy="119.60" r="1.35" fill="#a0522d"/>
<path d="M499.15,18.21L507.80,23.31L516.45,29.92L525.10,38.42L533.75,48.61L542.40,66.74L551.05,76.55L559.70,81.46L568.35,80.52L577.00,85.99L585.65,90.34L594.30,93.64L602.95,96.94L611.60,99.30L620.25,101.66L628.90,103.08L637.55,104.50L646.20,105.44L654.85,106.38L663.50,107.14L672.15,107.89" fill="none" stroke="#ee82ee" stroke-opacity="0.85" stroke-width="1.0" stroke-linejoin="round"/>
<path d="M497.75,18.21H500.55M499.15,16.81V19.61" stroke="#ee82ee" stroke-width="1.2"/>
<path d="M506.40,23.31H509.20M507.80,21.91V24.71" stroke="#ee82ee" stroke-width="1.2"/>
<path d="M515.05,29.92H517.85M516.45,28.52V31.32" stroke="#ee82ee" stroke-width="1.2"/>
<path d="M523.70,38.42H526.50M525.10,37.02V39.82" stroke="#ee82ee" stroke-width="1.2"/>
<path d="M532.35,48.61H535.15M533.75,47.21V50.01" stroke="#ee82ee" stroke-width="1.2"/>
<path d="M541.00,66.74H543.80M542.40,65.34V68.14" stroke="#ee82ee" stroke-width="1.2"/>
<path d="M549.65,76.55H552.45M551.05,75.15V77.95" stroke="#ee82ee" stroke-width="1.2"/>
<path d="M558.30,81.46H561.10M559.70,80.06V82.86" stroke="#ee82ee" stroke-width="1.2"/>
<path d="M566.95,80.52H569.75M568.35,79.12V81.92" stroke="#ee82ee" stroke-width="1.2"/>
<path d="M575.60,85.99H578.40M577.00,84.59V87.39" stroke="#ee82ee" stroke-width="1.2"/>
<path d="M584.25,90.34H587.05M585.65,88.94V91.74" stroke="#ee82ee" stroke-width="1.2"/>
<path d="M592.90,93.64H595.70M594.30,92.24V95.04" stroke="#ee82ee" stroke-width="1.2"/>
<path d="M601.55,96.94H604.35M602.95,95.54V98.34" stroke="#ee82ee" stroke-width="1.2"/>
<path d="M610.20,99.30H613.00M611.60,97.90V100.70" stroke="#ee82ee" stroke-width="1.2"/>
<path d="M618.85,101.66H621.65M620.25,100.26V103.06" stroke="#ee82ee" stroke-width="1.2"/>
<path d="M627.50,103.08H630.30M628.90,101.68V104.48" stroke="#ee82ee" stroke-width="1.2"/>
<path d="M636.15,104.50H638.95M637.55,103.10V105.90" stroke="#ee82ee" stroke-width="1.2"/>
<path d="M644.80,105.44H647.60M646.20,104.04V106.84" stroke="#ee82ee" stroke-width="1.2"/>
<path d="M653.45,106.38H656.25M654.85,104.98V107.78" stroke="#ee82ee" stroke-width="1.2"/>
<path d="M662.10,107.14H664.90M663.50,105.74V108.54" stroke="#ee82ee" stroke-width="1.2"/>
<path d="M670.75,107.89H673.55M672.15,106.49V109.29" stroke="#ee82ee" stroke-width="1.2"/>
<path d="M499.15,18.21L507.80,23.12L516.45,30.68L525.10,38.04L533.75,57.48L542.40,69.76L551.05,79.95L559.70,73.91L568.35,73.91L577.00,71.64L585.65,74.67L594.30,78.25L602.95,85.05L611.60,87.69L620.25,92.22L628.90,99.40L637.55,100.72L646.20,98.45L654.85,100.72L663.50,103.36L672.15,106.76" fill="none" stroke="#808080" stroke-opacity="0.65" stroke-width="1.0" stroke-linejoin="round"/>
<path d="M497.65,16.71L500.65,19.71M497.65,19.71L500.65,16.71" stroke="#505050" stroke-width="0.8"/>
<path d="M506.30,21.62L509.30,24.62M506.30,24.62L509.30,21.62" stroke="#505050" stroke-width="0.8"/>
<path d="M514.95,29.18L517.95,32.18M514.95,32.18L517.95,29.18" stroke="#505050" stroke-width="0.8"/>
<path d="M523.60,36.54L526.60,39.54M523.60,39.54L526.60,36.54" stroke="#505050" stroke-width="0.8"/>
<path d="M532.25,55.98L535.25,58.98M532.25,58.98L535.25,55.98" stroke="#505050" stroke-width="0.8"/>
<path d="M540.90,68.26L543.90,71.26M540.90,71.26L543.90,68.26" stroke="#505050" stroke-width="0.8"/>
<path d="M549.55,78.45L552.55,81.45M549.55,81.45L552.55,78.45" stroke="#505050" stroke-width="0.8"/>
<path d="M558.20,72.41L561.20,75.41M558.20,75.41L561.20,72.41" stroke="#505050" stroke-width="0.8"/>
<path d="M566.85,72.41L569.85,75.41M566.85,75.41L569.85,72.41" stroke="#505050" stroke-width="0.8"/>
<path d="M575.50,70.14L578.50,73.14M575.50,73.14L578.50,70.14" stroke="#505050" stroke-width="0.8"/>
<path d="M584.15,73.17L587.15,76.17M584.15,76.17L587.15,73.17" stroke="#505050" stroke-width="0.8"/>
<path d="M592.80,76.75L595.80,79.75M592.80,79.75L595.80,76.75" stroke="#505050" stroke-width="0.8"/>
<path d="M601.45,83.55L604.45,86.55M601.45,86.55L604.45,83.55" stroke="#505050" stroke-width="0.8"/>
<path d="M610.10,86.19L613.10,89.19M610.10,89.19L613.10,86.19" stroke="#505050" stroke-width="0.8"/>
<path d="M618.75,90.72L621.75,93.72M618.75,93.72L621.75,90.72" stroke="#505050" stroke-width="0.8"/>
<path d="M627.40,97.90L630.40,100.90M627.40,100.90L630.40,97.90" stroke="#505050" stroke-width="0.8"/>
<path d="M636.05,99.22L639.05,102.22M636.05,102.22L639.05,99.22" stroke="#505050" stroke-width="0.8"/>
<path d="M644.70,96.95L647.70,99.95M644.70,99.95L647.70,96.95" stroke="#505050" stroke-width="0.8"/>
<path d="M653.35,99.22L656.35,102.22M653.35,102.22L656.35,99.22" stroke="#505050" stroke-width="0.8"/>
<path d="M662.00,101.86L665.00,104.86M662.00,104.86L665.00,101.86" stroke="#505050" stroke-width="0.8"/>
<path d="M670.65,105.26L673.65,108.26M670.65,108.26L673.65,105.26" stroke="#505050" stroke-width="0.8"/>
<path d="M499.15,18.21L507.80,72.40L516.45,95.62L525.10,102.42L533.75,108.27L542.40,112.05L551.05,113.94L559.70,114.88L568.35,115.82L577.00,116.77L585.65,117.71L594.30,118.37L602.95,119.03L611.60,119.22L620.25,119.41L628.90,119.60L637.55,119.79L646.20,119.98L654.85,120.17L663.50,120.36L672.15,120.54" fill="none" stroke="#c000c0" stroke-opacity="0.85" stroke-width="1.0" stroke-linejoin="round"/>
<path d="M499.15,15.81L500.75,18.21L499.15,20.61L497.55,18.21Z" fill="#c000c0"/>
<path d="M507.80,70.00L509.40,72.40L507.80,74.80L506.20,72.40Z" fill="#c000c0"/>
<path d="M516.45,93.22L518.05,95.62L516.45,98.02L514.85,95.62Z" fill="#c000c0"/>
<path d="M525.10,100.02L526.70,102.42L525.10,104.82L523.50,102.42Z" fill="#c000c0"/>
<path d="M533.75,105.87L535.35,108.27L533.75,110.67L532.15,108.27Z" fill="#c000c0"/>
<path d="M542.40,109.65L544.00,112.05L542.40,114.45L540.80,112.05Z" fill="#c000c0"/>
<path d="M551.05,111.54L552.65,113.94L551.05,116.34L549.45,113.94Z" fill="#c000c0"/>
<path d="M559.70,112.48L561.30,114.88L559.70,117.28L558.10,114.88Z" fill="#c000c0"/>
<path d="M568.35,113.42L569.95,115.82L568.35,118.22L566.75,115.82Z" fill="#c000c0"/>
<path d="M577.00,114.37L578.60,116.77L577.00,119.17L575.40,116.77Z" fill="#c000c0"/>
<path d="M585.65,115.31L587.25,117.71L585.65,120.11L584.05,117.71Z" fill="#c000c0"/>
<path d="M594.30,115.97L595.90,118.37L594.30,120.77L592.70,118.37Z" fill="#c000c0"/>
<path d="M602.95,116.63L604.55,119.03L602.95,121.43L601.35,119.03Z" fill="#c000c0"/>
<path d="M611.60,116.82L613.20,119.22L611.60,121.62L610.00,119.22Z" fill="#c000c0"/>
<path d="M620.25,117.01L621.85,119.41L620.25,121.81L618.65,119.41Z" fill="#c000c0"/>
<path d="M628.90,117.20L630.50,119.60L628.90,122.00L627.30,119.60Z" fill="#c000c0"/>
<path d="M637.55,117.39L639.15,119.79L637.55,122.19L635.95,119.79Z" fill="#c000c0"/>
<path d="M646.20,117.58L647.80,119.98L646.20,122.38L644.60,119.98Z" fill="#c000c0"/>
<path d="M654.85,117.77L656.45,120.17L654.85,122.57L653.25,120.17Z" fill="#c000c0"/>
<path d="M663.50,117.96L665.10,120.36L663.50,122.76L661.90,120.36Z" fill="#c000c0"/>
<path d="M672.15,118.14L673.75,120.54L672.15,122.94L670.55,120.54Z" fill="#c000c0"/>
<path d="M499.15,18.21L507.80,51.44L516.45,68.62L525.10,79.95L533.75,87.50L542.40,91.28L551.05,98.45L559.70,100.72L568.35,100.72L577.00,101.66L585.65,102.23L594.30,99.96L602.95,101.10L611.60,103.36L620.25,104.50L628.90,106.76L637.55,107.33L646.20,107.89L654.85,108.27L663.50,109.59L672.15,109.59" fill="none" stroke="#4169e1" stroke-opacity="0.55" stroke-width="1.0" stroke-linejoin="round"/>
<rect x="497.55" y="16.61" width="3.20" height="3.20" fill="#4169e1"/>
<rect x="506.20" y="49.84" width="3.20" height="3.20" fill="#4169e1"/>
<rect x="514.85" y="67.02" width="3.20" height="3.20" fill="#4169e1"/>
<rect x="523.50" y="78.35" width="3.20" height="3.20" fill="#4169e1"/>
<rect x="532.15" y="85.90" width="3.20" height="3.20" fill="#4169e1"/>
<rect x="540.80" y="89.68" width="3.20" height="3.20" fill="#4169e1"/>
<rect x="549.45" y="96.85" width="3.20" height="3.20" fill="#4169e1"/>
<rect x="558.10" y="99.12" width="3.20" height="3.20" fill="#4169e1"/>
<rect x="566.75" y="99.12" width="3.20" height="3.20" fill="#4169e1"/>
<rect x="575.40" y="100.06" width="3.20" height="3.20" fill="#4169e1"/>
<rect x="584.05" y="100.63" width="3.20" height="3.20" fill="#4169e1"/>
<rect x="592.70" y="98.36" width="3.20" height="3.20" fill="#4169e1"/>
<rect x="601.35" y="99.50" width="3.20" height="3.20" fill="#4169e1"/>
<rect x="610.00" y="101.76" width="3.20" height="3.20" fill="#4169e1"/>
<rect x="618.65" y="102.90" width="3.20" height="3.20" fill="#4169e1"/>
<rect x="627.30" y="105.16" width="3.20" height="3.20" fill="#4169e1"/>
<rect x="635.95" y="105.73" width="3.20" height="3.20" fill="#4169e1"/>
<rect x="644.60" y="106.29" width="3.20" height="3.20" fill="#4169e1"/>
<rect x="653.25" y="106.67" width="3.20" height="3.20" fill="#4169e1"/>
<rect x="661.90" y="107.99" width="3.20" height="3.20" fill="#4169e1"/>
<rect x="670.55" y="107.99" width="3.20" height="3.20" fill="#4169e1"/>
<path d="M499.15,18.21L507.80,59.75L516.45,69.76L525.10,80.52L533.75,87.32L542.40,89.58L551.05,91.09L559.70,89.96L568.35,93.92L577.00,94.87L585.65,96.00L594.30,96.28L602.95,96.57L611.60,96.19L620.25,98.45L628.90,99.21L637.55,101.48L646.20,101.57L654.85,101.66L663.50,102.23L672.15,101.10" fill="none" stroke="#663399" stroke-opacity="0.9" stroke-width="1.0" stroke-linejoin="round"/>
<circle cx="499.15" cy="18.21" r="1.75" fill="#551a8b"/>
<circle cx="507.80" cy="59.75" r="1.75" fill="#551a8b"/>
<circle cx="516.45" cy="69.76" r="1.75" fill="#551a8b"/>
<circle cx="525.10" cy="80.52" r="1.75" fill="#551a8b"/>
<circle cx="533.75" cy="87.32" r="1.75" fill="#551a8b"/>
<circle cx="542.40" cy="89.58" r="1.75" fill="#551a8b"/>
<circle cx="551.05" cy="91.09" r="1.75" fill="#551a8b"/>
<circle cx="559.70" cy="89.96" r="1.75" fill="#551a8b"/>
<circle cx="568.35" cy="93.92" r="1.75" fill="#551a8b"/>
<circle cx="577.00" cy="94.87" r="1.75" fill="#551a8b"/>
<circle cx="585.65" cy="96.00" r="1.75" fill="#551a8b"/>
<circle cx="594.30" cy="96.28" r="1.75" fill="#551a8b"/>
<circle cx="602.95" cy="96.57" r="1.75" fill="#551a8b"/>
<circle cx="611.60" cy="96.19" r="1.75" fill="#551a8b"/>
<circle cx="620.25" cy="98.45" r="1.75" fill="#551a8b"/>
<circle cx="628.90" cy="99.21" r="1.75" fill="#551a8b"/>
<circle cx="637.55" cy="101.48" r="1.75" fill="#551a8b"/>
<circle cx="646.20" cy="101.57" r="1.75" fill="#551a8b"/>
<circle cx="654.85" cy="101.66" r="1.75" fill="#551a8b"/>
<circle cx="663.50" cy="102.23" r="1.75" fill="#551a8b"/>
<circle cx="672.15" cy="101.10" r="1.75" fill="#551a8b"/>
<path d="M499.15,18.21L507.80,79.95L516.45,105.25L525.10,112.80L533.75,115.07L542.40,117.33L551.05,119.22L559.70,119.22L568.35,119.60L577.00,119.98L585.65,120.36L594.30,120.54L602.95,120.73L611.60,120.92L620.25,121.11L628.90,121.14L637.55,121.17L646.20,121.20L654.85,121.24L663.50,121.27L672.15,121.30" fill="none" stroke="#20b2aa" stroke-opacity="0.6" stroke-width="1.0" stroke-linejoin="round"/>
<path d="M499.15,20.41L501.06,17.11L497.24,17.11Z" fill="#20b8b8"/>
<path d="M507.80,82.15L509.71,78.85L505.89,78.85Z" fill="#20b8b8"/>
<path d="M516.45,107.45L518.36,104.15L514.54,104.15Z" fill="#20b8b8"/>
<path d="M525.10,115.00L527.01,111.70L523.19,111.70Z" fill="#20b8b8"/>
<path d="M533.75,117.27L535.66,113.97L531.84,113.97Z" fill="#20b8b8"/>
<path d="M542.40,119.53L544.31,116.23L540.49,116.23Z" fill="#20b8b8"/>
<path d="M551.05,121.42L552.96,118.12L549.14,118.12Z" fill="#20b8b8"/>
<path d="M559.70,121.42L561.61,118.12L557.79,118.12Z" fill="#20b8b8"/>
<path d="M568.35,121.80L570.26,118.50L566.44,118.50Z" fill="#20b8b8"/>
<path d="M577.00,122.18L578.91,118.88L575.09,118.88Z" fill="#20b8b8"/>
<path d="M585.65,122.56L587.56,119.26L583.74,119.26Z" fill="#20b8b8"/>
<path d="M594.30,122.74L596.21,119.44L592.39,119.44Z" fill="#20b8b8"/>
<path d="M602.95,122.93L604.86,119.63L601.04,119.63Z" fill="#20b8b8"/>
<path d="M611.60,123.12L613.51,119.82L609.69,119.82Z" fill="#20b8b8"/>
<path d="M620.25,123.31L622.16,120.01L618.34,120.01Z" fill="#20b8b8"/>
<path d="M628.90,123.34L630.81,120.04L626.99,120.04Z" fill="#20b8b8"/>
<path d="M637.55,123.37L639.46,120.07L635.64,120.07Z" fill="#20b8b8"/>
<path d="M646.20,123.40L648.11,120.10L644.29,120.10Z" fill="#20b8b8"/>
<path d="M654.85,123.44L656.76,120.14L652.94,120.14Z" fill="#20b8b8"/>
<path d="M663.50,123.47L665.41,120.17L661.59,120.17Z" fill="#20b8b8"/>
<path d="M672.15,123.50L674.06,120.20L670.24,120.20Z" fill="#20b8b8"/>
<path d="M499.15,18.21L507.80,68.62L516.45,88.26L525.10,101.29L533.75,108.46L542.40,112.05L551.05,114.69L559.70,116.39L568.35,117.33L577.00,118.66L585.65,120.17L594.30,121.68L602.95,122.43L611.60,123.00L620.25,123.31L628.90,123.63L637.55,123.94L646.20,124.23L654.85,124.51L663.50,124.89L672.15,125.26" fill="none" stroke="#ff0000" stroke-opacity="0.85" stroke-width="1.0" stroke-linejoin="round"/>
<circle cx="499.15" cy="18.21" r="1.80" fill="#ff0000"/>
<circle cx="507.80" cy="68.62" r="1.80" fill="#ff0000"/>
<circle cx="516.45" cy="88.26" r="1.80" fill="#ff0000"/>
<circle cx="525.10" cy="101.29" r="1.80" fill="#ff0000"/>
<circle cx="533.75" cy="108.46" r="1.80" fill="#ff0000"/>
<circle cx="542.40" cy="112.05" r="1.80" fill="#ff0000"/>
<circle cx="551.05" cy="114.69" r="1.80" fill="#ff0000"/>
<circle cx="559.70" cy="116.39" r="1.80" fill="#ff0000"/>
<circle cx="568.35" cy="117.33" r="1.80" fill="#ff0000"/>
<circle cx="577.00" cy="118.66" r="1.80" fill="#ff0000"/>
<circle cx="585.65" cy="120.17" r="1.80" fill="#ff0000"/>
<circle cx="594.30" cy="121.68" r="1.80" fill="#ff0000"/>
<circle cx="602.95" cy="122.43" r="1.80" fill="#ff0000"/>
<circle cx="611.60" cy="123.00" r="1.80" fill="#ff0000"/>
<circle cx="620.25" cy="123.31" r="1.80" fill="#ff0000"/>
<circle cx="628.90" cy="123.63" r="1.80" fill="#ff0000"/>
<circle cx="637.55" cy="123.94" r="1.80" fill="#ff0000"/>
<circle cx="646.20" cy="124.23" r="1.80" fill="#ff0000"/>
<circle cx="654.85" cy="124.51" r="1.80" fill="#ff0000"/>
<circle cx="663.50" cy="124.89" r="1.80" fill="#ff0000"/>
<circle cx="672.15" cy="125.26" r="1.80" fill="#ff0000"/>
</g>
<rect x="490.5" y="16.4" width="190.30" height="110.80" fill="none" stroke="#444" stroke-width="0.9"/>
<line x1="499.15" y1="127.2" x2="499.15" y2="129.7" stroke="#333" stroke-width="0.9"/>
<text x="497.21" y="136.60" textLength="3.88" lengthAdjust="spacingAndGlyphs" class="tk">0</text>
<line x1="527.98" y1="127.2" x2="527.98" y2="129.7" stroke="#333" stroke-width="0.9"/>
<text x="524.10" y="136.60" textLength="7.76" lengthAdjust="spacingAndGlyphs" class="tk">10</text>
<line x1="556.82" y1="127.2" x2="556.82" y2="129.7" stroke="#333" stroke-width="0.9"/>
<text x="552.94" y="136.60" textLength="7.76" lengthAdjust="spacingAndGlyphs" class="tk">20</text>
<line x1="585.65" y1="127.2" x2="585.65" y2="129.7" stroke="#333" stroke-width="0.9"/>
<text x="581.77" y="136.60" textLength="7.76" lengthAdjust="spacingAndGlyphs" class="tk">30</text>
<line x1="614.48" y1="127.2" x2="614.48" y2="129.7" stroke="#333" stroke-width="0.9"/>
<text x="610.60" y="136.60" textLength="7.76" lengthAdjust="spacingAndGlyphs" class="tk">40</text>
<line x1="643.32" y1="127.2" x2="643.32" y2="129.7" stroke="#333" stroke-width="0.9"/>
<text x="639.44" y="136.60" textLength="7.76" lengthAdjust="spacingAndGlyphs" class="tk">50</text>
<line x1="672.15" y1="127.2" x2="672.15" y2="129.7" stroke="#333" stroke-width="0.9"/>
<text x="668.27" y="136.60" textLength="7.76" lengthAdjust="spacingAndGlyphs" class="tk">60</text>
<line x1="488.0" y1="119.60" x2="490.5" y2="119.60" stroke="#333" stroke-width="0.9"/>
<text x="475.50" y="121.80" textLength="9.70" lengthAdjust="spacingAndGlyphs" class="tk">0.1</text>
<line x1="488.0" y1="100.72" x2="490.5" y2="100.72" stroke="#333" stroke-width="0.9"/>
<text x="475.50" y="102.92" textLength="9.70" lengthAdjust="spacingAndGlyphs" class="tk">0.2</text>
<line x1="488.0" y1="81.84" x2="490.5" y2="81.84" stroke="#333" stroke-width="0.9"/>
<text x="475.50" y="84.04" textLength="9.70" lengthAdjust="spacingAndGlyphs" class="tk">0.3</text>
<line x1="488.0" y1="62.96" x2="490.5" y2="62.96" stroke="#333" stroke-width="0.9"/>
<text x="475.50" y="65.16" textLength="9.70" lengthAdjust="spacingAndGlyphs" class="tk">0.4</text>
<line x1="488.0" y1="44.08" x2="490.5" y2="44.08" stroke="#333" stroke-width="0.9"/>
<text x="475.50" y="46.28" textLength="9.70" lengthAdjust="spacingAndGlyphs" class="tk">0.5</text>
<line x1="488.0" y1="25.20" x2="490.5" y2="25.20" stroke="#333" stroke-width="0.9"/>
<text x="475.50" y="27.40" textLength="9.70" lengthAdjust="spacingAndGlyphs" class="tk">0.6</text>
<text x="585.65" y="12.80" text-anchor="middle" class="sf">Thyroid</text>
<text x="585.65" y="147.60" text-anchor="middle" class="sf">Number of queries</text>
<text transform="translate(471.20,71.80) rotate(-90)" x="0" y="0" text-anchor="middle" class="sf">MAE</text>
<defs><clipPath id="c3"><rect x="35.4" y="167.5" width="190.0" height="110.69999999999999"/></clipPath></defs>
<line x1="44.04" y1="167.5" x2="44.04" y2="278.2" stroke="#b0b0b0" stroke-opacity="0.62" stroke-width="1"/>
<line x1="65.63" y1="167.5" x2="65.63" y2="278.2" stroke="#b0b0b0" stroke-opacity="0.62" stroke-width="1"/>
<line x1="87.22" y1="167.5" x2="87.22" y2="278.2" stroke="#b0b0b0" stroke-opacity="0.62" stroke-width="1"/>
<line x1="108.81" y1="167.5" x2="108.81" y2="278.2" stroke="#b0b0b0" stroke-opacity="0.62" stroke-width="1"/>
<line x1="130.40" y1="167.5" x2="130.40" y2="278.2" stroke="#b0b0b0" stroke-opacity="0.62" stroke-width="1"/>
<line x1="151.99" y1="167.5" x2="151.99" y2="278.2" stroke="#b0b0b0" stroke-opacity="0.62" stroke-width="1"/>
<line x1="173.58" y1="167.5" x2="173.58" y2="278.2" stroke="#b0b0b0" stroke-opacity="0.62" stroke-width="1"/>
<line x1="195.17" y1="167.5" x2="195.17" y2="278.2" stroke="#b0b0b0" stroke-opacity="0.62" stroke-width="1"/>
<line x1="216.76" y1="167.5" x2="216.76" y2="278.2" stroke="#b0b0b0" stroke-opacity="0.62" stroke-width="1"/>
<line x1="35.4" y1="267.60" x2="225.4" y2="267.60" stroke="#b0b0b0" stroke-opacity="0.62" stroke-width="1"/>
<line x1="35.4" y1="245.55" x2="225.4" y2="245.55" stroke="#b0b0b0" stroke-opacity="0.62" stroke-width="1"/>
<line x1="35.4" y1="223.50" x2="225.4" y2="223.50" stroke="#b0b0b0" stroke-opacity="0.62" stroke-width="1"/>
<line x1="35.4" y1="201.45" x2="225.4" y2="201.45" stroke="#b0b0b0" stroke-opacity="0.62" stroke-width="1"/>
<line x1="35.4" y1="179.40" x2="225.4" y2="179.40" stroke="#b0b0b0" stroke-opacity="0.62" stroke-width="1"/>
<g clip-path="url(#c3)">
<path d="M44.04,169.70L52.67,205.86L61.31,225.71L69.95,238.94L78.58,245.55L87.22,250.40L95.85,254.37L104.49,257.02L113.13,258.78L121.76,260.10L130.40,261.43L139.04,262.53L147.67,263.63L156.31,264.51L164.95,265.40L173.58,266.50L182.22,267.60L190.85,268.26L199.49,268.92L208.13,269.58L216.76,270.25" fill="none" stroke="#0000ff" stroke-opacity="0.55" stroke-width="1.0" stroke-linejoin="round"/>
<circle cx="44.04" cy="169.70" r="1.05" fill="#0000ff"/>
<circle cx="52.67" cy="205.86" r="1.05" fill="#0000ff"/>
<circle cx="61.31" cy="225.71" r="1.05" fill="#0000ff"/>
<circle cx="69.95" cy="238.94" r="1.05" fill="#0000ff"/>
<circle cx="78.58" cy="245.55" r="1.05" fill="#0000ff"/>
<circle cx="87.22" cy="250.40" r="1.05" fill="#0000ff"/>
<circle cx="95.85" cy="254.37" r="1.05" fill="#0000ff"/>
<circle cx="104.49" cy="257.02" r="1.05" fill="#0000ff"/>
<circle cx="113.13" cy="258.78" r="1.05" fill="#0000ff"/>
<circle cx="121.76" cy="260.10" r="1.05" fill="#0000ff"/>
<circle cx="130.40" cy="261.43" r="1.05" fill="#0000ff"/>
<circle cx="139.04" cy="262.53" r="1.05" fill="#0000ff"/>
<circle cx="147.67" cy="263.63" r="1.05" fill="#0000ff"/>
<circle cx="156.31" cy="264.51" r="1.05" fill="#0000ff"/>
<circle cx="164.95" cy="265.40" r="1.05" fill="#0000ff"/>
<circle cx="173.58" cy="266.50" r="1.05" fill="#0000ff"/>
<circle cx="182.22" cy="267.60" r="1.05" fill="#0000ff"/>
<circle cx="190.85" cy="268.26" r="1.05" fill="#0000ff"/>
<circle cx="199.49" cy="268.92" r="1.05" fill="#0000ff"/>
<circle cx="208.13" cy="269.58" r="1.05" fill="#0000ff"/>
<circle cx="216.76" cy="270.25" r="1.05" fill="#0000ff"/>
<path d="M44.04,169.70L52.67,197.26L61.31,216.00L69.95,229.89L78.58,236.07L87.22,241.36L95.85,246.65L104.49,251.06L113.13,254.37L121.76,257.13L130.40,259.88L139.04,261.54L147.67,263.19L156.31,264.84L164.95,266.50L173.58,267.60L182.22,268.70L190.85,269.81L199.49,270.91L208.13,271.68L216.76,272.45" fill="none" stroke="#ff8c00" stroke-opacity="0.85" stroke-width="1.0" stroke-linejoin="round"/>
<path d="M41.94,169.70L45.09,171.53L45.09,167.87Z" fill="#ff8c00"/>
<path d="M50.57,197.26L53.72,199.09L53.72,195.43Z" fill="#ff8c00"/>
<path d="M59.21,216.00L62.36,217.83L62.36,214.18Z" fill="#ff8c00"/>
<path d="M67.85,229.89L71.00,231.72L71.00,228.07Z" fill="#ff8c00"/>
<path d="M76.48,236.07L79.63,237.90L79.63,234.24Z" fill="#ff8c00"/>
<path d="M85.12,241.36L88.27,243.19L88.27,239.53Z" fill="#ff8c00"/>
<path d="M93.75,246.65L96.90,248.48L96.90,244.83Z" fill="#ff8c00"/>
<path d="M102.39,251.06L105.54,252.89L105.54,249.24Z" fill="#ff8c00"/>
<path d="M111.03,254.37L114.18,256.20L114.18,252.54Z" fill="#ff8c00"/>
<path d="M119.66,257.13L122.81,258.95L122.81,255.30Z" fill="#ff8c00"/>
<path d="M128.30,259.88L131.45,261.71L131.45,258.06Z" fill="#ff8c00"/>
<path d="M136.94,261.54L140.09,263.36L140.09,259.71Z" fill="#ff8c00"/>
<path d="M145.57,263.19L148.72,265.02L148.72,261.36Z" fill="#ff8c00"/>
<path d="M154.21,264.84L157.36,266.67L157.36,263.02Z" fill="#ff8c00"/>
<path d="M162.85,266.50L166.00,268.32L166.00,264.67Z" fill="#ff8c00"/>
<path d="M171.48,267.60L174.63,269.43L174.63,265.77Z" fill="#ff8c00"/>
<path d="M180.12,268.70L183.27,270.53L183.27,266.88Z" fill="#ff8c00"/>
<path d="M188.75,269.81L191.90,271.63L191.90,267.98Z" fill="#ff8c00"/>
<path d="M197.39,270.91L200.54,272.73L200.54,269.08Z" fill="#ff8c00"/>
<path d="M206.03,271.68L209.18,273.51L209.18,269.85Z" fill="#ff8c00"/>
<path d="M214.66,272.45L217.81,274.28L217.81,270.62Z" fill="#ff8c00"/>
<path d="M44.04,169.70L52.67,208.06L61.31,227.91L69.95,240.04L78.58,247.75L87.22,253.27L95.85,256.58L104.49,259.88L113.13,262.09L121.76,263.74L130.40,265.40L139.04,266.50L147.67,267.60L156.31,268.70L164.95,269.81L173.58,271.24L182.22,272.67L190.85,273.44L199.49,274.22L208.13,274.88L216.76,275.54" fill="none" stroke="#bfbf00" stroke-opacity="0.7" stroke-width="1.0" stroke-linejoin="round"/>
<path d="M46.14,169.70L42.99,171.53L42.99,167.87Z" fill="#bfbf00"/>
<path d="M54.77,208.06L51.62,209.89L51.62,206.24Z" fill="#bfbf00"/>
<path d="M63.41,227.91L60.26,229.74L60.26,226.08Z" fill="#bfbf00"/>
<path d="M72.05,240.04L68.90,241.86L68.90,238.21Z" fill="#bfbf00"/>
<path d="M80.68,247.75L77.53,249.58L77.53,245.93Z" fill="#bfbf00"/>
<path d="M89.32,253.27L86.17,255.09L86.17,251.44Z" fill="#bfbf00"/>
<path d="M97.95,256.58L94.80,258.40L94.80,254.75Z" fill="#bfbf00"/>
<path d="M106.59,259.88L103.44,261.71L103.44,258.06Z" fill="#bfbf00"/>
<path d="M115.23,262.09L112.08,263.91L112.08,260.26Z" fill="#bfbf00"/>
<path d="M123.86,263.74L120.71,265.57L120.71,261.91Z" fill="#bfbf00"/>
<path d="M132.50,265.40L129.35,267.22L129.35,263.57Z" fill="#bfbf00"/>
<path d="M141.14,266.50L137.99,268.32L137.99,264.67Z" fill="#bfbf00"/>
<path d="M149.77,267.60L146.62,269.43L146.62,265.77Z" fill="#bfbf00"/>
<path d="M158.41,268.70L155.26,270.53L155.26,266.88Z" fill="#bfbf00"/>
<path d="M167.05,269.81L163.90,271.63L163.90,267.98Z" fill="#bfbf00"/>
<path d="M175.68,271.24L172.53,273.07L172.53,269.41Z" fill="#bfbf00"/>
<path d="M184.32,272.67L181.17,274.50L181.17,270.84Z" fill="#bfbf00"/>
<path d="M192.95,273.44L189.80,275.27L189.80,271.62Z" fill="#bfbf00"/>
<path d="M201.59,274.22L198.44,276.04L198.44,272.39Z" fill="#bfbf00"/>
<path d="M210.23,274.88L207.08,276.70L207.08,273.05Z" fill="#bfbf00"/>
<path d="M218.86,275.54L215.71,277.37L215.71,273.71Z" fill="#bfbf00"/>
<path d="M44.04,169.70L52.67,210.27L61.31,230.12L69.95,241.14L78.58,248.86L87.22,254.37L95.85,257.68L104.49,260.99L113.13,262.75L121.76,264.07L130.40,265.40L139.04,266.50L147.67,267.60L156.31,268.70L164.95,269.81L173.58,270.69L182.22,271.57L190.85,272.34L199.49,273.11L208.13,273.66L216.76,274.22" fill="none" stroke="#008000" stroke-opacity="0.8" stroke-width="1.0" stroke-linejoin="round"/>
<path d="M44.04,167.60L45.86,170.75L42.21,170.75Z" fill="#008000"/>
<path d="M52.67,208.17L54.50,211.32L50.85,211.32Z" fill="#008000"/>
<path d="M61.31,228.02L63.14,231.17L59.48,231.17Z" fill="#008000"/>
<path d="M69.95,239.04L71.77,242.19L68.12,242.19Z" fill="#008000"/>
<path d="M78.58,246.76L80.41,249.91L76.75,249.91Z" fill="#008000"/>
<path d="M87.22,252.27L89.05,255.42L85.39,255.42Z" fill="#008000"/>
<path d="M95.85,255.58L97.68,258.73L94.03,258.73Z" fill="#008000"/>
<path d="M104.49,258.88L106.32,262.04L102.66,262.04Z" fill="#008000"/>
<path d="M113.13,260.65L114.95,263.80L111.30,263.80Z" fill="#008000"/>
<path d="M121.76,261.97L123.59,265.12L119.94,265.12Z" fill="#008000"/>
<path d="M130.40,263.30L132.23,266.45L128.57,266.45Z" fill="#008000"/>
<path d="M139.04,264.40L140.86,267.55L137.21,267.55Z" fill="#008000"/>
<path d="M147.67,265.50L149.50,268.65L145.85,268.65Z" fill="#008000"/>
<path d="M156.31,266.60L158.14,269.75L154.48,269.75Z" fill="#008000"/>
<path d="M164.95,267.71L166.77,270.86L163.12,270.86Z" fill="#008000"/>
<path d="M173.58,268.59L175.41,271.74L171.75,271.74Z" fill="#008000"/>
<path d="M182.22,269.47L184.05,272.62L180.39,272.62Z" fill="#008000"/>
<path d="M190.85,270.24L192.68,273.39L189.03,273.39Z" fill="#008000"/>
<path d="M199.49,271.01L201.32,274.16L197.66,274.16Z" fill="#008000"/>
<path d="M208.13,271.56L209.95,274.71L206.30,274.71Z" fill="#008000"/>
<path d="M216.76,272.12L218.59,275.27L214.94,275.27Z" fill="#008000"/>
<path d="M44.04,169.70L52.67,208.06L61.31,227.91L69.95,237.83L78.58,245.55L87.22,251.06L95.85,254.37L104.49,257.68L113.13,259.88L121.76,261.54L130.40,263.19L139.04,264.29L147.67,265.40L156.31,266.50L164.95,267.60L173.58,268.70L182.22,269.81L190.85,270.69L199.49,271.57L208.13,272.34L216.76,273.11" fill="none" stroke="#a0522d" stroke-opacity="0.6" stroke-width="1.0" stroke-linejoin="round"/>
<circle cx="44.04" cy="169.70" r="1.35" fill="#a0522d"/>
<circle cx="52.67" cy="208.06" r="1.35" fill="#a0522d"/>
<circle cx="61.31" cy="227.91" r="1.35" fill="#a0522d"/>
<circle cx="69.95" cy="237.83" r="1.35" fill="#a0522d"/>
<circle cx="78.58" cy="245.55" r="1.35" fill="#a0522d"/>
<circle cx="87.22" cy="251.06" r="1.35" fill="#a0522d"/>
<circle cx="95.85" cy="254.37" r="1.35" fill="#a0522d"/>
<circle cx="104.49" cy="257.68" r="1.35" fill="#a0522d"/>
<circle cx="113.13" cy="259.88" r="1.35" fill="#a0522d"/>
<circle cx="121.76" cy="261.54" r="1.35" fill="#a0522d"/>
<circle cx="130.40" cy="263.19" r="1.35" fill="#a0522d"/>
<circle cx="139.04" cy="264.29" r="1.35" fill="#a0522d"/>
<circle cx="147.67" cy="265.40" r="1.35" fill="#a0522d"/>
<circle cx="156.31" cy="266.50" r="1.35" fill="#a0522d"/>
<circle cx="164.95" cy="267.60" r="1.35" fill="#a0522d"/>
<circle cx="173.58" cy="268.70" r="1.35" fill="#a0522d"/>
<circle cx="182.22" cy="269.81" r="1.35" fill="#a0522d"/>
<circle cx="190.85" cy="270.69" r="1.35" fill="#a0522d"/>
<circle cx="199.49" cy="271.57" r="1.35" fill="#a0522d"/>
<circle cx="208.13" cy="272.34" r="1.35" fill="#a0522d"/>
<circle cx="216.76" cy="273.11" r="1.35" fill="#a0522d"/>
<path d="M44.04,169.70L52.67,210.27L61.31,225.71L69.95,238.94L78.58,247.75L87.22,252.17L95.85,255.47L104.49,258.78L113.13,260.99L121.76,262.09L130.40,263.19L139.04,264.29L147.67,265.40L156.31,266.50L164.95,267.60L173.58,268.48L182.22,269.36L190.85,270.14L199.49,270.91L208.13,271.46L216.76,272.01" fill="none" stroke="#ee82ee" stroke-opacity="0.85" stroke-width="1.0" stroke-linejoin="round"/>
<path d="M42.64,169.70H45.44M44.04,168.30V171.10" stroke="#ee82ee" stroke-width="1.2"/>
<path d="M51.27,210.27H54.07M52.67,208.87V211.67" stroke="#ee82ee" stroke-width="1.2"/>
<path d="M59.91,225.71H62.71M61.31,224.31V227.11" stroke="#ee82ee" stroke-width="1.2"/>
<path d="M68.55,238.94H71.35M69.95,237.54V240.34" stroke="#ee82ee" stroke-width="1.2"/>
<path d="M77.18,247.75H79.98M78.58,246.35V249.16" stroke="#ee82ee" stroke-width="1.2"/>
<path d="M85.82,252.17H88.62M87.22,250.77V253.57" stroke="#ee82ee" stroke-width="1.2"/>
<path d="M94.45,255.47H97.25M95.85,254.07V256.87" stroke="#ee82ee" stroke-width="1.2"/>
<path d="M103.09,258.78H105.89M104.49,257.38V260.18" stroke="#ee82ee" stroke-width="1.2"/>
<path d="M111.73,260.99H114.53M113.13,259.59V262.38" stroke="#ee82ee" stroke-width="1.2"/>
<path d="M120.36,262.09H123.16M121.76,260.69V263.49" stroke="#ee82ee" stroke-width="1.2"/>
<path d="M129.00,263.19H131.80M130.40,261.79V264.59" stroke="#ee82ee" stroke-width="1.2"/>
<path d="M137.64,264.29H140.44M139.04,262.89V265.69" stroke="#ee82ee" stroke-width="1.2"/>
<path d="M146.27,265.40H149.07M147.67,264.00V266.80" stroke="#ee82ee" stroke-width="1.2"/>
<path d="M154.91,266.50H157.71M156.31,265.10V267.90" stroke="#ee82ee" stroke-width="1.2"/>
<path d="M163.55,267.60H166.35M164.95,266.20V269.00" stroke="#ee82ee" stroke-width="1.2"/>
<path d="M172.18,268.48H174.98M173.58,267.08V269.88" stroke="#ee82ee" stroke-width="1.2"/>
<path d="M180.82,269.36H183.62M182.22,267.96V270.76" stroke="#ee82ee" stroke-width="1.2"/>
<path d="M189.45,270.14H192.25M190.85,268.74V271.54" stroke="#ee82ee" stroke-width="1.2"/>
<path d="M198.09,270.91H200.89M199.49,269.51V272.31" stroke="#ee82ee" stroke-width="1.2"/>
<path d="M206.73,271.46H209.53M208.13,270.06V272.86" stroke="#ee82ee" stroke-width="1.2"/>
<path d="M215.36,272.01H218.16M216.76,270.61V273.41" stroke="#ee82ee" stroke-width="1.2"/>
<path d="M44.04,169.70L52.67,205.86L61.31,223.50L69.95,237.83L78.58,245.55L87.22,248.86L95.85,251.06L104.49,252.17L113.13,253.27L121.76,253.82L130.40,254.37L139.04,255.47L147.67,256.58L156.31,257.46L164.95,258.34L173.58,258.78L182.22,259.22L190.85,259.88L199.49,260.54L208.13,260.76L216.76,260.99" fill="none" stroke="#808080" stroke-opacity="0.65" stroke-width="1.0" stroke-linejoin="round"/>
<path d="M42.54,168.20L45.54,171.20M42.54,171.20L45.54,168.20" stroke="#505050" stroke-width="0.8"/>
<path d="M51.17,204.36L54.17,207.36M51.17,207.36L54.17,204.36" stroke="#505050" stroke-width="0.8"/>
<path d="M59.81,222.00L62.81,225.00M59.81,225.00L62.81,222.00" stroke="#505050" stroke-width="0.8"/>
<path d="M68.45,236.33L71.45,239.33M68.45,239.33L71.45,236.33" stroke="#505050" stroke-width="0.8"/>
<path d="M77.08,244.05L80.08,247.05M77.08,247.05L80.08,244.05" stroke="#505050" stroke-width="0.8"/>
<path d="M85.72,247.36L88.72,250.36M85.72,250.36L88.72,247.36" stroke="#505050" stroke-width="0.8"/>
<path d="M94.35,249.56L97.35,252.56M94.35,252.56L97.35,249.56" stroke="#505050" stroke-width="0.8"/>
<path d="M102.99,250.67L105.99,253.67M102.99,253.67L105.99,250.67" stroke="#505050" stroke-width="0.8"/>
<path d="M111.63,251.77L114.63,254.77M111.63,254.77L114.63,251.77" stroke="#505050" stroke-width="0.8"/>
<path d="M120.26,252.32L123.26,255.32M120.26,255.32L123.26,252.32" stroke="#505050" stroke-width="0.8"/>
<path d="M128.90,252.87L131.90,255.87M128.90,255.87L131.90,252.87" stroke="#505050" stroke-width="0.8"/>
<path d="M137.54,253.97L140.54,256.97M137.54,256.97L140.54,253.97" stroke="#505050" stroke-width="0.8"/>
<path d="M146.17,255.08L149.17,258.08M146.17,258.08L149.17,255.08" stroke="#505050" stroke-width="0.8"/>
<path d="M154.81,255.96L157.81,258.96M154.81,258.96L157.81,255.96" stroke="#505050" stroke-width="0.8"/>
<path d="M163.45,256.84L166.45,259.84M163.45,259.84L166.45,256.84" stroke="#505050" stroke-width="0.8"/>
<path d="M172.08,257.28L175.08,260.28M172.08,260.28L175.08,257.28" stroke="#505050" stroke-width="0.8"/>
<path d="M180.72,257.72L183.72,260.72M180.72,260.72L183.72,257.72" stroke="#505050" stroke-width="0.8"/>
<path d="M189.35,258.38L192.35,261.38M189.35,261.38L192.35,258.38" stroke="#505050" stroke-width="0.8"/>
<path d="M197.99,259.04L200.99,262.04M197.99,262.04L200.99,259.04" stroke="#505050" stroke-width="0.8"/>
<path d="M206.63,259.26L209.63,262.26M206.63,262.26L209.63,259.26" stroke="#505050" stroke-width="0.8"/>
<path d="M215.26,259.49L218.26,262.49M215.26,262.49L218.26,259.49" stroke="#505050" stroke-width="0.8"/>
<path d="M44.04,169.70L52.67,208.06L61.31,223.50L69.95,238.94L78.58,246.65L87.22,251.72L95.85,255.47L104.49,258.78L113.13,260.99L121.76,262.09L130.40,263.19L139.04,264.51L147.67,265.40L156.31,265.95L164.95,266.50L173.58,267.27L182.22,268.04L190.85,268.92L199.49,269.81L208.13,270.80L216.76,271.79" fill="none" stroke="#c000c0" stroke-opacity="0.85" stroke-width="1.0" stroke-linejoin="round"/>
<path d="M44.04,167.30L45.64,169.70L44.04,172.10L42.44,169.70Z" fill="#c000c0"/>
<path d="M52.67,205.66L54.27,208.06L52.67,210.47L51.07,208.06Z" fill="#c000c0"/>
<path d="M61.31,221.10L62.91,223.50L61.31,225.90L59.71,223.50Z" fill="#c000c0"/>
<path d="M69.95,236.54L71.55,238.94L69.95,241.34L68.35,238.94Z" fill="#c000c0"/>
<path d="M78.58,244.25L80.18,246.65L78.58,249.05L76.98,246.65Z" fill="#c000c0"/>
<path d="M87.22,249.32L88.82,251.72L87.22,254.12L85.62,251.72Z" fill="#c000c0"/>
<path d="M95.85,253.07L97.45,255.47L95.85,257.87L94.25,255.47Z" fill="#c000c0"/>
<path d="M104.49,256.38L106.09,258.78L104.49,261.18L102.89,258.78Z" fill="#c000c0"/>
<path d="M113.13,258.59L114.73,260.99L113.13,263.38L111.53,260.99Z" fill="#c000c0"/>
<path d="M121.76,259.69L123.36,262.09L121.76,264.49L120.16,262.09Z" fill="#c000c0"/>
<path d="M130.40,260.79L132.00,263.19L130.40,265.59L128.80,263.19Z" fill="#c000c0"/>
<path d="M139.04,262.11L140.64,264.51L139.04,266.91L137.44,264.51Z" fill="#c000c0"/>
<path d="M147.67,263.00L149.27,265.40L147.67,267.80L146.07,265.40Z" fill="#c000c0"/>
<path d="M156.31,263.55L157.91,265.95L156.31,268.35L154.71,265.95Z" fill="#c000c0"/>
<path d="M164.95,264.10L166.55,266.50L164.95,268.90L163.35,266.50Z" fill="#c000c0"/>
<path d="M173.58,264.87L175.18,267.27L173.58,269.67L171.98,267.27Z" fill="#c000c0"/>
<path d="M182.22,265.64L183.82,268.04L182.22,270.44L180.62,268.04Z" fill="#c000c0"/>
<path d="M190.85,266.52L192.45,268.92L190.85,271.32L189.25,268.92Z" fill="#c000c0"/>
<path d="M199.49,267.41L201.09,269.81L199.49,272.21L197.89,269.81Z" fill="#c000c0"/>
<path d="M208.13,268.40L209.73,270.80L208.13,273.20L206.53,270.80Z" fill="#c000c0"/>
<path d="M216.76,269.39L218.36,271.79L216.76,274.19L215.16,271.79Z" fill="#c000c0"/>
<path d="M44.04,169.70L52.67,203.66L61.31,225.71L69.95,237.83L78.58,245.55L87.22,250.40L95.85,253.27L104.49,256.58L113.13,258.78L121.76,259.33L130.40,259.88L139.04,260.99L147.67,263.19L156.31,264.29L164.95,265.40L173.58,266.50L182.22,267.60L190.85,268.70L199.49,269.81L208.13,270.47L216.76,271.13" fill="none" stroke="#4169e1" stroke-opacity="0.55" stroke-width="1.0" stroke-linejoin="round"/>
<rect x="42.44" y="168.10" width="3.20" height="3.20" fill="#4169e1"/>
<rect x="51.07" y="202.06" width="3.20" height="3.20" fill="#4169e1"/>
<rect x="59.71" y="224.11" width="3.20" height="3.20" fill="#4169e1"/>
<rect x="68.35" y="236.23" width="3.20" height="3.20" fill="#4169e1"/>
<rect x="76.98" y="243.95" width="3.20" height="3.20" fill="#4169e1"/>
<rect x="85.62" y="248.80" width="3.20" height="3.20" fill="#4169e1"/>
<rect x="94.25" y="251.67" width="3.20" height="3.20" fill="#4169e1"/>
<rect x="102.89" y="254.98" width="3.20" height="3.20" fill="#4169e1"/>
<rect x="111.53" y="257.18" width="3.20" height="3.20" fill="#4169e1"/>
<rect x="120.16" y="257.73" width="3.20" height="3.20" fill="#4169e1"/>
<rect x="128.80" y="258.28" width="3.20" height="3.20" fill="#4169e1"/>
<rect x="137.44" y="259.38" width="3.20" height="3.20" fill="#4169e1"/>
<rect x="146.07" y="261.59" width="3.20" height="3.20" fill="#4169e1"/>
<rect x="154.71" y="262.69" width="3.20" height="3.20" fill="#4169e1"/>
<rect x="163.35" y="263.80" width="3.20" height="3.20" fill="#4169e1"/>
<rect x="171.98" y="264.90" width="3.20" height="3.20" fill="#4169e1"/>
<rect x="180.62" y="266.00" width="3.20" height="3.20" fill="#4169e1"/>
<rect x="189.25" y="267.10" width="3.20" height="3.20" fill="#4169e1"/>
<rect x="197.89" y="268.21" width="3.20" height="3.20" fill="#4169e1"/>
<rect x="206.53" y="268.87" width="3.20" height="3.20" fill="#4169e1"/>
<rect x="215.16" y="269.53" width="3.20" height="3.20" fill="#4169e1"/>
<path d="M44.04,169.70L52.67,212.92L61.31,221.96L69.95,237.61L78.58,243.35L87.22,247.75L95.85,251.06L104.49,251.06L113.13,251.72L121.76,254.37L130.40,257.02L139.04,258.78L147.67,257.68L156.31,259.22L164.95,261.43L173.58,262.09L182.22,263.19L190.85,264.51L199.49,265.62L208.13,267.60L216.76,268.26" fill="none" stroke="#663399" stroke-opacity="0.9" stroke-width="1.0" stroke-linejoin="round"/>
<circle cx="44.04" cy="169.70" r="1.75" fill="#551a8b"/>
<circle cx="52.67" cy="212.92" r="1.75" fill="#551a8b"/>
<circle cx="61.31" cy="221.96" r="1.75" fill="#551a8b"/>
<circle cx="69.95" cy="237.61" r="1.75" fill="#551a8b"/>
<circle cx="78.58" cy="243.35" r="1.75" fill="#551a8b"/>
<circle cx="87.22" cy="247.75" r="1.75" fill="#551a8b"/>
<circle cx="95.85" cy="251.06" r="1.75" fill="#551a8b"/>
<circle cx="104.49" cy="251.06" r="1.75" fill="#551a8b"/>
<circle cx="113.13" cy="251.72" r="1.75" fill="#551a8b"/>
<circle cx="121.76" cy="254.37" r="1.75" fill="#551a8b"/>
<circle cx="130.40" cy="257.02" r="1.75" fill="#551a8b"/>
<circle cx="139.04" cy="258.78" r="1.75" fill="#551a8b"/>
<circle cx="147.67" cy="257.68" r="1.75" fill="#551a8b"/>
<circle cx="156.31" cy="259.22" r="1.75" fill="#551a8b"/>
<circle cx="164.95" cy="261.43" r="1.75" fill="#551a8b"/>
<circle cx="173.58" cy="262.09" r="1.75" fill="#551a8b"/>
<circle cx="182.22" cy="263.19" r="1.75" fill="#551a8b"/>
<circle cx="190.85" cy="264.51" r="1.75" fill="#551a8b"/>
<circle cx="199.49" cy="265.62" r="1.75" fill="#551a8b"/>
<circle cx="208.13" cy="267.60" r="1.75" fill="#551a8b"/>
<circle cx="216.76" cy="268.26" r="1.75" fill="#551a8b"/>
<path d="M44.04,169.70L52.67,200.57L61.31,223.50L69.95,238.94L78.58,246.65L87.22,252.17L95.85,256.58L104.49,258.78L113.13,260.99L121.76,262.64L130.40,264.29L139.04,265.95L147.67,267.60L156.31,268.70L164.95,269.81L173.58,270.69L182.22,271.57L190.85,272.34L199.49,273.11L208.13,273.66L216.76,274.22" fill="none" stroke="#20b2aa" stroke-opacity="0.6" stroke-width="1.0" stroke-linejoin="round"/>
<path d="M44.04,171.90L45.95,168.60L42.12,168.60Z" fill="#20b8b8"/>
<path d="M52.67,202.77L54.59,199.47L50.76,199.47Z" fill="#20b8b8"/>
<path d="M61.31,225.70L63.22,222.40L59.40,222.40Z" fill="#20b8b8"/>
<path d="M69.95,241.14L71.86,237.84L68.03,237.84Z" fill="#20b8b8"/>
<path d="M78.58,248.85L80.50,245.55L76.67,245.55Z" fill="#20b8b8"/>
<path d="M87.22,254.37L89.13,251.07L85.30,251.07Z" fill="#20b8b8"/>
<path d="M95.85,258.78L97.77,255.48L93.94,255.48Z" fill="#20b8b8"/>
<path d="M104.49,260.98L106.40,257.68L102.58,257.68Z" fill="#20b8b8"/>
<path d="M113.13,263.19L115.04,259.88L111.21,259.88Z" fill="#20b8b8"/>
<path d="M121.76,264.84L123.68,261.54L119.85,261.54Z" fill="#20b8b8"/>
<path d="M130.40,266.49L132.31,263.19L128.49,263.19Z" fill="#20b8b8"/>
<path d="M139.04,268.15L140.95,264.85L137.12,264.85Z" fill="#20b8b8"/>
<path d="M147.67,269.80L149.59,266.50L145.76,266.50Z" fill="#20b8b8"/>
<path d="M156.31,270.90L158.22,267.60L154.40,267.60Z" fill="#20b8b8"/>
<path d="M164.95,272.01L166.86,268.71L163.03,268.71Z" fill="#20b8b8"/>
<path d="M173.58,272.89L175.50,269.59L171.67,269.59Z" fill="#20b8b8"/>
<path d="M182.22,273.77L184.13,270.47L180.30,270.47Z" fill="#20b8b8"/>
<path d="M190.85,274.54L192.77,271.24L188.94,271.24Z" fill="#20b8b8"/>
<path d="M199.49,275.31L201.40,272.01L197.58,272.01Z" fill="#20b8b8"/>
<path d="M208.13,275.86L210.04,272.56L206.21,272.56Z" fill="#20b8b8"/>
<path d="M216.76,276.42L218.68,273.12L214.85,273.12Z" fill="#20b8b8"/>
<path d="M44.04,169.70L52.67,217.55L61.31,234.30L69.95,244.45L78.58,251.06L87.22,256.80L95.85,260.10L104.49,263.41L113.13,265.17L121.76,265.84L130.40,267.38L139.04,268.92L147.67,270.03L156.31,271.13L164.95,271.46L173.58,271.79L182.22,272.23L190.85,272.67L199.49,273.33L208.13,274.10L216.76,274.88" fill="none" stroke="#ff0000" stroke-opacity="0.85" stroke-width="1.0" stroke-linejoin="round"/>
<circle cx="44.04" cy="169.70" r="1.80" fill="#ff0000"/>
<circle cx="52.67" cy="217.55" r="1.80" fill="#ff0000"/>
<circle cx="61.31" cy="234.30" r="1.80" fill="#ff0000"/>
<circle cx="69.95" cy="244.45" r="1.80" fill="#ff0000"/>
<circle cx="78.58" cy="251.06" r="1.80" fill="#ff0000"/>
<circle cx="87.22" cy="256.80" r="1.80" fill="#ff0000"/>
<circle cx="95.85" cy="260.10" r="1.80" fill="#ff0000"/>
<circle cx="104.49" cy="263.41" r="1.80" fill="#ff0000"/>
<circle cx="113.13" cy="265.17" r="1.80" fill="#ff0000"/>
<circle cx="121.76" cy="265.84" r="1.80" fill="#ff0000"/>
<circle cx="130.40" cy="267.38" r="1.80" fill="#ff0000"/>
<circle cx="139.04" cy="268.92" r="1.80" fill="#ff0000"/>
<circle cx="147.67" cy="270.03" r="1.80" fill="#ff0000"/>
<circle cx="156.31" cy="271.13" r="1.80" fill="#ff0000"/>
<circle cx="164.95" cy="271.46" r="1.80" fill="#ff0000"/>
<circle cx="173.58" cy="271.79" r="1.80" fill="#ff0000"/>
<circle cx="182.22" cy="272.23" r="1.80" fill="#ff0000"/>
<circle cx="190.85" cy="272.67" r="1.80" fill="#ff0000"/>
<circle cx="199.49" cy="273.33" r="1.80" fill="#ff0000"/>
<circle cx="208.13" cy="274.10" r="1.80" fill="#ff0000"/>
<circle cx="216.76" cy="274.88" r="1.80" fill="#ff0000"/>
</g>
<rect x="35.4" y="167.5" width="190.00" height="110.70" fill="none" stroke="#444" stroke-width="0.9"/>
<line x1="44.04" y1="278.2" x2="44.04" y2="280.7" stroke="#333" stroke-width="0.9"/>
<text x="42.10" y="287.60" textLength="3.88" lengthAdjust="spacingAndGlyphs" class="tk">0</text>
<line x1="65.63" y1="278.2" x2="65.63" y2="280.7" stroke="#333" stroke-width="0.9"/>
<text x="61.75" y="287.60" textLength="7.76" lengthAdjust="spacingAndGlyphs" class="tk">10</text>
<line x1="87.22" y1="278.2" x2="87.22" y2="280.7" stroke="#333" stroke-width="0.9"/>
<text x="83.34" y="287.60" textLength="7.76" lengthAdjust="spacingAndGlyphs" class="tk">20</text>
<line x1="108.81" y1="278.2" x2="108.81" y2="280.7" stroke="#333" stroke-width="0.9"/>
<text x="104.93" y="287.60" textLength="7.76" lengthAdjust="spacingAndGlyphs" class="tk">30</text>
<line x1="130.40" y1="278.2" x2="130.40" y2="280.7" stroke="#333" stroke-width="0.9"/>
<text x="126.52" y="287.60" textLength="7.76" lengthAdjust="spacingAndGlyphs" class="tk">40</text>
<line x1="151.99" y1="278.2" x2="151.99" y2="280.7" stroke="#333" stroke-width="0.9"/>
<text x="148.11" y="287.60" textLength="7.76" lengthAdjust="spacingAndGlyphs" class="tk">50</text>
<line x1="173.58" y1="278.2" x2="173.58" y2="280.7" stroke="#333" stroke-width="0.9"/>
<text x="169.70" y="287.60" textLength="7.76" lengthAdjust="spacingAndGlyphs" class="tk">60</text>
<line x1="195.17" y1="278.2" x2="195.17" y2="280.7" stroke="#333" stroke-width="0.9"/>
<text x="191.29" y="287.60" textLength="7.76" lengthAdjust="spacingAndGlyphs" class="tk">70</text>
<line x1="216.76" y1="278.2" x2="216.76" y2="280.7" stroke="#333" stroke-width="0.9"/>
<text x="212.88" y="287.60" textLength="7.76" lengthAdjust="spacingAndGlyphs" class="tk">80</text>
<line x1="32.9" y1="267.60" x2="35.4" y2="267.60" stroke="#333" stroke-width="0.9"/>
<text x="20.40" y="269.80" textLength="9.70" lengthAdjust="spacingAndGlyphs" class="tk">0.1</text>
<line x1="32.9" y1="245.55" x2="35.4" y2="245.55" stroke="#333" stroke-width="0.9"/>
<text x="20.40" y="247.75" textLength="9.70" lengthAdjust="spacingAndGlyphs" class="tk">0.2</text>
<line x1="32.9" y1="223.50" x2="35.4" y2="223.50" stroke="#333" stroke-width="0.9"/>
<text x="20.40" y="225.70" textLength="9.70" lengthAdjust="spacingAndGlyphs" class="tk">0.3</text>
<line x1="32.9" y1="201.45" x2="35.4" y2="201.45" stroke="#333" stroke-width="0.9"/>
<text x="20.40" y="203.65" textLength="9.70" lengthAdjust="spacingAndGlyphs" class="tk">0.4</text>
<line x1="32.9" y1="179.40" x2="35.4" y2="179.40" stroke="#333" stroke-width="0.9"/>
<text x="20.40" y="181.60" textLength="9.70" lengthAdjust="spacingAndGlyphs" class="tk">0.5</text>
<text x="130.40" y="163.90" text-anchor="middle" class="sf">Knowledge</text>
<text x="130.40" y="298.60" text-anchor="middle" class="sf">Number of queries</text>
<text transform="translate(16.10,222.85) rotate(-90)" x="0" y="0" text-anchor="middle" class="sf">MAE</text>
<defs><clipPath id="c4"><rect x="262.6" y="167.5" width="190.59999999999997" height="110.69999999999999"/></clipPath></defs>
<line x1="271.26" y1="167.5" x2="271.26" y2="278.2" stroke="#b0b0b0" stroke-opacity="0.62" stroke-width="1"/>
<line x1="305.92" y1="167.5" x2="305.92" y2="278.2" stroke="#b0b0b0" stroke-opacity="0.62" stroke-width="1"/>
<line x1="340.57" y1="167.5" x2="340.57" y2="278.2" stroke="#b0b0b0" stroke-opacity="0.62" stroke-width="1"/>
<line x1="375.23" y1="167.5" x2="375.23" y2="278.2" stroke="#b0b0b0" stroke-opacity="0.62" stroke-width="1"/>
<line x1="409.88" y1="167.5" x2="409.88" y2="278.2" stroke="#b0b0b0" stroke-opacity="0.62" stroke-width="1"/>
<line x1="444.54" y1="167.5" x2="444.54" y2="278.2" stroke="#b0b0b0" stroke-opacity="0.62" stroke-width="1"/>
<line x1="262.6" y1="273.00" x2="453.2" y2="273.00" stroke="#b0b0b0" stroke-opacity="0.62" stroke-width="1"/>
<line x1="262.6" y1="259.11" x2="453.2" y2="259.11" stroke="#b0b0b0" stroke-opacity="0.62" stroke-width="1"/>
<line x1="262.6" y1="245.23" x2="453.2" y2="245.23" stroke="#b0b0b0" stroke-opacity="0.62" stroke-width="1"/>
<line x1="262.6" y1="231.34" x2="453.2" y2="231.34" stroke="#b0b0b0" stroke-opacity="0.62" stroke-width="1"/>
<line x1="262.6" y1="217.46" x2="453.2" y2="217.46" stroke="#b0b0b0" stroke-opacity="0.62" stroke-width="1"/>
<line x1="262.6" y1="203.57" x2="453.2" y2="203.57" stroke="#b0b0b0" stroke-opacity="0.62" stroke-width="1"/>
<line x1="262.6" y1="189.69" x2="453.2" y2="189.69" stroke="#b0b0b0" stroke-opacity="0.62" stroke-width="1"/>
<line x1="262.6" y1="175.80" x2="453.2" y2="175.80" stroke="#b0b0b0" stroke-opacity="0.62" stroke-width="1"/>
<g clip-path="url(#c4)">
<path d="M271.26,177.47L279.93,195.24L288.59,209.13L297.25,214.68L305.92,217.46L314.58,219.12L323.25,225.23L331.91,229.68L340.57,233.84L349.24,238.29L357.90,238.29L366.56,241.90L375.23,244.40L383.89,249.39L392.55,251.06L401.22,254.95L409.88,255.78L418.55,256.34L427.21,257.17L435.87,258.28L444.54,258.84" fill="none" stroke="#0000ff" stroke-opacity="0.55" stroke-width="1.0" stroke-linejoin="round"/>
<circle cx="271.26" cy="177.47" r="1.05" fill="#0000ff"/>
<circle cx="279.93" cy="195.24" r="1.05" fill="#0000ff"/>
<circle cx="288.59" cy="209.13" r="1.05" fill="#0000ff"/>
<circle cx="297.25" cy="214.68" r="1.05" fill="#0000ff"/>
<circle cx="305.92" cy="217.46" r="1.05" fill="#0000ff"/>
<circle cx="314.58" cy="219.12" r="1.05" fill="#0000ff"/>
<circle cx="323.25" cy="225.23" r="1.05" fill="#0000ff"/>
<circle cx="331.91" cy="229.68" r="1.05" fill="#0000ff"/>
<circle cx="340.57" cy="233.84" r="1.05" fill="#0000ff"/>
<circle cx="349.24" cy="238.29" r="1.05" fill="#0000ff"/>
<circle cx="357.90" cy="238.29" r="1.05" fill="#0000ff"/>
<circle cx="366.56" cy="241.90" r="1.05" fill="#0000ff"/>
<circle cx="375.23" cy="244.40" r="1.05" fill="#0000ff"/>
<circle cx="383.89" cy="249.39" r="1.05" fill="#0000ff"/>
<circle cx="392.55" cy="251.06" r="1.05" fill="#0000ff"/>
<circle cx="401.22" cy="254.95" r="1.05" fill="#0000ff"/>
<circle cx="409.88" cy="255.78" r="1.05" fill="#0000ff"/>
<circle cx="418.55" cy="256.34" r="1.05" fill="#0000ff"/>
<circle cx="427.21" cy="257.17" r="1.05" fill="#0000ff"/>
<circle cx="435.87" cy="258.28" r="1.05" fill="#0000ff"/>
<circle cx="444.54" cy="258.84" r="1.05" fill="#0000ff"/>
<path d="M271.26,177.47L279.93,192.46L288.59,211.90L297.25,218.85L305.92,225.79L314.58,228.57L323.25,234.12L331.91,238.29L340.57,242.45L349.24,245.23L357.90,248.84L366.56,251.20L375.23,253.56L383.89,255.64L392.55,257.73L401.22,259.81L409.88,261.89L418.55,263.97L427.21,266.06L435.87,268.00L444.54,269.95" fill="none" stroke="#ff8c00" stroke-opacity="0.85" stroke-width="1.0" stroke-linejoin="round"/>
<path d="M269.16,177.47L272.31,179.29L272.31,175.64Z" fill="#ff8c00"/>
<path d="M277.83,192.46L280.98,194.29L280.98,190.64Z" fill="#ff8c00"/>
<path d="M286.49,211.90L289.64,213.73L289.64,210.08Z" fill="#ff8c00"/>
<path d="M295.15,218.85L298.30,220.67L298.30,217.02Z" fill="#ff8c00"/>
<path d="M303.82,225.79L306.97,227.62L306.97,223.96Z" fill="#ff8c00"/>
<path d="M312.48,228.57L315.63,230.39L315.63,226.74Z" fill="#ff8c00"/>
<path d="M321.15,234.12L324.30,235.95L324.30,232.29Z" fill="#ff8c00"/>
<path d="M329.81,238.29L332.96,240.11L332.96,236.46Z" fill="#ff8c00"/>
<path d="M338.47,242.45L341.62,244.28L341.62,240.62Z" fill="#ff8c00"/>
<path d="M347.14,245.23L350.29,247.06L350.29,243.40Z" fill="#ff8c00"/>
<path d="M355.80,248.84L358.95,250.67L358.95,247.01Z" fill="#ff8c00"/>
<path d="M364.46,251.20L367.61,253.03L367.61,249.37Z" fill="#ff8c00"/>
<path d="M373.13,253.56L376.28,255.39L376.28,251.73Z" fill="#ff8c00"/>
<path d="M381.79,255.64L384.94,257.47L384.94,253.82Z" fill="#ff8c00"/>
<path d="M390.45,257.73L393.60,259.55L393.60,255.90Z" fill="#ff8c00"/>
<path d="M399.12,259.81L402.27,261.64L402.27,257.98Z" fill="#ff8c00"/>
<path d="M407.78,261.89L410.93,263.72L410.93,260.06Z" fill="#ff8c00"/>
<path d="M416.45,263.97L419.60,265.80L419.60,262.15Z" fill="#ff8c00"/>
<path d="M425.11,266.06L428.26,267.88L428.26,264.23Z" fill="#ff8c00"/>
<path d="M433.77,268.00L436.92,269.83L436.92,266.17Z" fill="#ff8c00"/>
<path d="M442.44,269.95L445.59,271.77L445.59,268.12Z" fill="#ff8c00"/>
<path d="M271.26,177.47L279.93,189.69L288.59,203.57L297.25,213.29L305.92,223.01L314.58,227.18L323.25,232.73L331.91,237.45L340.57,241.06L349.24,245.78L357.90,249.39L366.56,251.48L375.23,253.56L383.89,255.64L392.55,257.73L401.22,260.09L409.88,262.45L418.55,264.25L427.21,266.06L435.87,267.86L444.54,269.67" fill="none" stroke="#bfbf00" stroke-opacity="0.7" stroke-width="1.0" stroke-linejoin="round"/>
<path d="M273.36,177.47L270.21,179.29L270.21,175.64Z" fill="#bfbf00"/>
<path d="M282.03,189.69L278.88,191.51L278.88,187.86Z" fill="#bfbf00"/>
<path d="M290.69,203.57L287.54,205.40L287.54,201.74Z" fill="#bfbf00"/>
<path d="M299.35,213.29L296.20,215.12L296.20,211.46Z" fill="#bfbf00"/>
<path d="M308.02,223.01L304.87,224.84L304.87,221.18Z" fill="#bfbf00"/>
<path d="M316.68,227.18L313.53,229.00L313.53,225.35Z" fill="#bfbf00"/>
<path d="M325.35,232.73L322.20,234.56L322.20,230.90Z" fill="#bfbf00"/>
<path d="M334.01,237.45L330.86,239.28L330.86,235.63Z" fill="#bfbf00"/>
<path d="M342.67,241.06L339.52,242.89L339.52,239.24Z" fill="#bfbf00"/>
<path d="M351.34,245.78L348.19,247.61L348.19,243.96Z" fill="#bfbf00"/>
<path d="M360.00,249.39L356.85,251.22L356.85,247.57Z" fill="#bfbf00"/>
<path d="M368.66,251.48L365.51,253.30L365.51,249.65Z" fill="#bfbf00"/>
<path d="M377.33,253.56L374.18,255.39L374.18,251.73Z" fill="#bfbf00"/>
<path d="M385.99,255.64L382.84,257.47L382.84,253.82Z" fill="#bfbf00"/>
<path d="M394.65,257.73L391.50,259.55L391.50,255.90Z" fill="#bfbf00"/>
<path d="M403.32,260.09L400.17,261.91L400.17,258.26Z" fill="#bfbf00"/>
<path d="M411.98,262.45L408.83,264.27L408.83,260.62Z" fill="#bfbf00"/>
<path d="M420.65,264.25L417.50,266.08L417.50,262.43Z" fill="#bfbf00"/>
<path d="M429.31,266.06L426.16,267.88L426.16,264.23Z" fill="#bfbf00"/>
<path d="M437.97,267.86L434.82,269.69L434.82,266.04Z" fill="#bfbf00"/>
<path d="M446.64,269.67L443.49,271.49L443.49,267.84Z" fill="#bfbf00"/>
<path d="M271.26,177.47L279.93,188.30L288.59,204.13L297.25,211.90L305.92,220.23L314.58,225.79L323.25,231.34L331.91,236.34L340.57,239.67L349.24,243.84L357.90,246.62L366.56,249.39L375.23,252.17L383.89,254.25L392.55,256.34L401.22,258.42L409.88,260.50L418.55,262.59L427.21,264.67L435.87,266.75L444.54,268.83" fill="none" stroke="#008000" stroke-opacity="0.8" stroke-width="1.0" stroke-linejoin="round"/>
<path d="M271.26,175.37L273.09,178.52L269.44,178.52Z" fill="#008000"/>
<path d="M279.93,186.20L281.75,189.35L278.10,189.35Z" fill="#008000"/>
<path d="M288.59,202.03L290.42,205.18L286.76,205.18Z" fill="#008000"/>
<path d="M297.25,209.80L299.08,212.95L295.43,212.95Z" fill="#008000"/>
<path d="M305.92,218.13L307.75,221.28L304.09,221.28Z" fill="#008000"/>
<path d="M314.58,223.69L316.41,226.84L312.75,226.84Z" fill="#008000"/>
<path d="M323.25,229.24L325.07,232.39L321.42,232.39Z" fill="#008000"/>
<path d="M331.91,234.24L333.74,237.39L330.08,237.39Z" fill="#008000"/>
<path d="M340.57,237.57L342.40,240.72L338.75,240.72Z" fill="#008000"/>
<path d="M349.24,241.74L351.06,244.89L347.41,244.89Z" fill="#008000"/>
<path d="M357.90,244.52L359.73,247.67L356.07,247.67Z" fill="#008000"/>
<path d="M366.56,247.29L368.39,250.44L364.74,250.44Z" fill="#008000"/>
<path d="M375.23,250.07L377.05,253.22L373.40,253.22Z" fill="#008000"/>
<path d="M383.89,252.15L385.72,255.30L382.06,255.30Z" fill="#008000"/>
<path d="M392.55,254.24L394.38,257.39L390.73,257.39Z" fill="#008000"/>
<path d="M401.22,256.32L403.05,259.47L399.39,259.47Z" fill="#008000"/>
<path d="M409.88,258.40L411.71,261.55L408.05,261.55Z" fill="#008000"/>
<path d="M418.55,260.49L420.37,263.64L416.72,263.64Z" fill="#008000"/>
<path d="M427.21,262.57L429.04,265.72L425.38,265.72Z" fill="#008000"/>
<path d="M435.87,264.65L437.70,267.80L434.05,267.80Z" fill="#008000"/>
<path d="M444.54,266.73L446.36,269.88L442.71,269.88Z" fill="#008000"/>
<path d="M271.26,177.47L279.93,186.91L288.59,198.02L297.25,209.68L305.92,220.23L314.58,227.18L323.25,232.73L331.91,236.90L340.57,241.06L349.24,244.67L357.90,248.01L366.56,250.51L375.23,253.00L383.89,255.37L392.55,257.73L401.22,259.81L409.88,261.89L418.55,264.39L427.21,266.89L435.87,268.56L444.54,270.22" fill="none" stroke="#a0522d" stroke-opacity="0.6" stroke-width="1.0" stroke-linejoin="round"/>
<circle cx="271.26" cy="177.47" r="1.35" fill="#a0522d"/>
<circle cx="279.93" cy="186.91" r="1.35" fill="#a0522d"/>
<circle cx="288.59" cy="198.02" r="1.35" fill="#a0522d"/>
<circle cx="297.25" cy="209.68" r="1.35" fill="#a0522d"/>
<circle cx="305.92" cy="220.23" r="1.35" fill="#a0522d"/>
<circle cx="314.58" cy="227.18" r="1.35" fill="#a0522d"/>
<circle cx="323.25" cy="232.73" r="1.35" fill="#a0522d"/>
<circle cx="331.91" cy="236.90" r="1.35" fill="#a0522d"/>
<circle cx="340.57" cy="241.06" r="1.35" fill="#a0522d"/>
<circle cx="349.24" cy="244.67" r="1.35" fill="#a0522d"/>
<circle cx="357.90" cy="248.01" r="1.35" fill="#a0522d"/>
<circle cx="366.56" cy="250.51" r="1.35" fill="#a0522d"/>
<circle cx="375.23" cy="253.00" r="1.35" fill="#a0522d"/>
<circle cx="383.89" cy="255.37" r="1.35" fill="#a0522d"/>
<circle cx="392.55" cy="257.73" r="1.35" fill="#a0522d"/>
<circle cx="401.22" cy="259.81" r="1.35" fill="#a0522d"/>
<circle cx="409.88" cy="261.89" r="1.35" fill="#a0522d"/>
<circle cx="418.55" cy="264.39" r="1.35" fill="#a0522d"/>
<circle cx="427.21" cy="266.89" r="1.35" fill="#a0522d"/>
<circle cx="435.87" cy="268.56" r="1.35" fill="#a0522d"/>
<circle cx="444.54" cy="270.22" r="1.35" fill="#a0522d"/>
<path d="M271.26,177.47L279.93,192.46L288.59,214.68L297.25,224.40L305.92,233.01L314.58,238.84L323.25,243.84L331.91,248.84L340.57,251.06L349.24,254.95L357.90,256.61L366.56,259.39L375.23,257.73L383.89,261.06L392.55,263.84L401.22,266.06L409.88,267.72L418.55,269.67L427.21,270.78L435.87,271.33L444.54,272.17" fill="none" stroke="#ee82ee" stroke-opacity="0.85" stroke-width="1.0" stroke-linejoin="round"/>
<path d="M269.86,177.47H272.66M271.26,176.07V178.87" stroke="#ee82ee" stroke-width="1.2"/>
<path d="M278.53,192.46H281.33M279.93,191.06V193.86" stroke="#ee82ee" stroke-width="1.2"/>
<path d="M287.19,214.68H289.99M288.59,213.28V216.08" stroke="#ee82ee" stroke-width="1.2"/>
<path d="M295.85,224.40H298.65M297.25,223.00V225.80" stroke="#ee82ee" stroke-width="1.2"/>
<path d="M304.52,233.01H307.32M305.92,231.61V234.41" stroke="#ee82ee" stroke-width="1.2"/>
<path d="M313.18,238.84H315.98M314.58,237.44V240.24" stroke="#ee82ee" stroke-width="1.2"/>
<path d="M321.85,243.84H324.65M323.25,242.44V245.24" stroke="#ee82ee" stroke-width="1.2"/>
<path d="M330.51,248.84H333.31M331.91,247.44V250.24" stroke="#ee82ee" stroke-width="1.2"/>
<path d="M339.17,251.06H341.97M340.57,249.66V252.46" stroke="#ee82ee" stroke-width="1.2"/>
<path d="M347.84,254.95H350.64M349.24,253.55V256.35" stroke="#ee82ee" stroke-width="1.2"/>
<path d="M356.50,256.61H359.30M357.90,255.21V258.01" stroke="#ee82ee" stroke-width="1.2"/>
<path d="M365.16,259.39H367.96M366.56,257.99V260.79" stroke="#ee82ee" stroke-width="1.2"/>
<path d="M373.83,257.73H376.63M375.23,256.33V259.13" stroke="#ee82ee" stroke-width="1.2"/>
<path d="M382.49,261.06H385.29M383.89,259.66V262.46" stroke="#ee82ee" stroke-width="1.2"/>
<path d="M391.15,263.84H393.95M392.55,262.44V265.24" stroke="#ee82ee" stroke-width="1.2"/>
<path d="M399.82,266.06H402.62M401.22,264.66V267.46" stroke="#ee82ee" stroke-width="1.2"/>
<path d="M408.48,267.72H411.28M409.88,266.32V269.12" stroke="#ee82ee" stroke-width="1.2"/>
<path d="M417.15,269.67H419.95M418.55,268.27V271.07" stroke="#ee82ee" stroke-width="1.2"/>
<path d="M425.81,270.78H428.61M427.21,269.38V272.18" stroke="#ee82ee" stroke-width="1.2"/>
<path d="M434.47,271.33H437.27M435.87,269.93V272.73" stroke="#ee82ee" stroke-width="1.2"/>
<path d="M443.14,272.17H445.94M444.54,270.77V273.57" stroke="#ee82ee" stroke-width="1.2"/>
<path d="M271.26,177.47L279.93,195.24L288.59,220.79L297.25,224.40L305.92,229.95L314.58,235.51L323.25,239.67L331.91,242.45L340.57,245.78L349.24,248.01L357.90,250.23L366.56,253.56L375.23,256.61L383.89,259.95L392.55,263.28L401.22,265.50L409.88,267.72L418.55,268.28L427.21,269.39L435.87,270.22L444.54,271.06" fill="none" stroke="#808080" stroke-opacity="0.65" stroke-width="1.0" stroke-linejoin="round"/>
<path d="M269.76,175.97L272.76,178.97M269.76,178.97L272.76,175.97" stroke="#505050" stroke-width="0.8"/>
<path d="M278.43,193.74L281.43,196.74M278.43,196.74L281.43,193.74" stroke="#505050" stroke-width="0.8"/>
<path d="M287.09,219.29L290.09,222.29M287.09,222.29L290.09,219.29" stroke="#505050" stroke-width="0.8"/>
<path d="M295.75,222.90L298.75,225.90M295.75,225.90L298.75,222.90" stroke="#505050" stroke-width="0.8"/>
<path d="M304.42,228.45L307.42,231.45M304.42,231.45L307.42,228.45" stroke="#505050" stroke-width="0.8"/>
<path d="M313.08,234.01L316.08,237.01M313.08,237.01L316.08,234.01" stroke="#505050" stroke-width="0.8"/>
<path d="M321.75,238.17L324.75,241.17M321.75,241.17L324.75,238.17" stroke="#505050" stroke-width="0.8"/>
<path d="M330.41,240.95L333.41,243.95M330.41,243.95L333.41,240.95" stroke="#505050" stroke-width="0.8"/>
<path d="M339.07,244.28L342.07,247.28M339.07,247.28L342.07,244.28" stroke="#505050" stroke-width="0.8"/>
<path d="M347.74,246.51L350.74,249.51M347.74,249.51L350.74,246.51" stroke="#505050" stroke-width="0.8"/>
<path d="M356.40,248.73L359.40,251.73M356.40,251.73L359.40,248.73" stroke="#505050" stroke-width="0.8"/>
<path d="M365.06,252.06L368.06,255.06M365.06,255.06L368.06,252.06" stroke="#505050" stroke-width="0.8"/>
<path d="M373.73,255.11L376.73,258.11M373.73,258.11L376.73,255.11" stroke="#505050" stroke-width="0.8"/>
<path d="M382.39,258.45L385.39,261.45M382.39,261.45L385.39,258.45" stroke="#505050" stroke-width="0.8"/>
<path d="M391.05,261.78L394.05,264.78M391.05,264.78L394.05,261.78" stroke="#505050" stroke-width="0.8"/>
<path d="M399.72,264.00L402.72,267.00M399.72,267.00L402.72,264.00" stroke="#505050" stroke-width="0.8"/>
<path d="M408.38,266.22L411.38,269.22M408.38,269.22L411.38,266.22" stroke="#505050" stroke-width="0.8"/>
<path d="M417.05,266.78L420.05,269.78M417.05,269.78L420.05,266.78" stroke="#505050" stroke-width="0.8"/>
<path d="M425.71,267.89L428.71,270.89M425.71,270.89L428.71,267.89" stroke="#505050" stroke-width="0.8"/>
<path d="M434.37,268.72L437.37,271.72M434.37,271.72L437.37,268.72" stroke="#505050" stroke-width="0.8"/>
<path d="M443.04,269.56L446.04,272.56M443.04,272.56L446.04,269.56" stroke="#505050" stroke-width="0.8"/>
<path d="M271.26,177.47L279.93,183.02L288.59,194.96L297.25,205.52L305.92,217.46L314.58,221.62L323.25,227.18L331.91,231.34L340.57,235.51L349.24,239.67L357.90,243.84L366.56,246.62L375.23,247.73L383.89,249.39L392.55,250.78L401.22,250.23L409.88,253.28L418.55,254.39L427.21,256.06L435.87,256.89L444.54,258.28" fill="none" stroke="#c000c0" stroke-opacity="0.85" stroke-width="1.0" stroke-linejoin="round"/>
<path d="M271.26,175.07L272.86,177.47L271.26,179.87L269.66,177.47Z" fill="#c000c0"/>
<path d="M279.93,180.62L281.53,183.02L279.93,185.42L278.33,183.02Z" fill="#c000c0"/>
<path d="M288.59,192.56L290.19,194.96L288.59,197.36L286.99,194.96Z" fill="#c000c0"/>
<path d="M297.25,203.12L298.85,205.52L297.25,207.92L295.65,205.52Z" fill="#c000c0"/>
<path d="M305.92,215.06L307.52,217.46L305.92,219.86L304.32,217.46Z" fill="#c000c0"/>
<path d="M314.58,219.22L316.18,221.62L314.58,224.02L312.98,221.62Z" fill="#c000c0"/>
<path d="M323.25,224.78L324.85,227.18L323.25,229.58L321.65,227.18Z" fill="#c000c0"/>
<path d="M331.91,228.94L333.51,231.34L331.91,233.74L330.31,231.34Z" fill="#c000c0"/>
<path d="M340.57,233.11L342.17,235.51L340.57,237.91L338.97,235.51Z" fill="#c000c0"/>
<path d="M349.24,237.27L350.84,239.67L349.24,242.07L347.64,239.67Z" fill="#c000c0"/>
<path d="M357.90,241.44L359.50,243.84L357.90,246.24L356.30,243.84Z" fill="#c000c0"/>
<path d="M366.56,244.22L368.16,246.62L366.56,249.02L364.96,246.62Z" fill="#c000c0"/>
<path d="M375.23,245.33L376.83,247.73L375.23,250.13L373.63,247.73Z" fill="#c000c0"/>
<path d="M383.89,246.99L385.49,249.39L383.89,251.79L382.29,249.39Z" fill="#c000c0"/>
<path d="M392.55,248.38L394.15,250.78L392.55,253.18L390.95,250.78Z" fill="#c000c0"/>
<path d="M401.22,247.83L402.82,250.23L401.22,252.63L399.62,250.23Z" fill="#c000c0"/>
<path d="M409.88,250.88L411.48,253.28L409.88,255.68L408.28,253.28Z" fill="#c000c0"/>
<path d="M418.55,251.99L420.15,254.39L418.55,256.79L416.95,254.39Z" fill="#c000c0"/>
<path d="M427.21,253.66L428.81,256.06L427.21,258.46L425.61,256.06Z" fill="#c000c0"/>
<path d="M435.87,254.49L437.47,256.89L435.87,259.29L434.27,256.89Z" fill="#c000c0"/>
<path d="M444.54,255.88L446.14,258.28L444.54,260.68L442.94,258.28Z" fill="#c000c0"/>
<path d="M271.26,177.47L279.93,198.02L288.59,214.68L297.25,226.34L305.92,225.79L314.58,231.34L323.25,237.73L331.91,241.06L340.57,243.84L349.24,246.62L357.90,248.01L366.56,249.39L375.23,250.78L383.89,252.17L392.55,253.56L401.22,254.95L409.88,256.34L418.55,257.03L427.21,257.73L435.87,258.42L444.54,259.11" fill="none" stroke="#4169e1" stroke-opacity="0.55" stroke-width="1.0" stroke-linejoin="round"/>
<rect x="269.66" y="175.87" width="3.20" height="3.20" fill="#4169e1"/>
<rect x="278.33" y="196.42" width="3.20" height="3.20" fill="#4169e1"/>
<rect x="286.99" y="213.08" width="3.20" height="3.20" fill="#4169e1"/>
<rect x="295.65" y="224.74" width="3.20" height="3.20" fill="#4169e1"/>
<rect x="304.32" y="224.19" width="3.20" height="3.20" fill="#4169e1"/>
<rect x="312.98" y="229.74" width="3.20" height="3.20" fill="#4169e1"/>
<rect x="321.65" y="236.13" width="3.20" height="3.20" fill="#4169e1"/>
<rect x="330.31" y="239.46" width="3.20" height="3.20" fill="#4169e1"/>
<rect x="338.97" y="242.24" width="3.20" height="3.20" fill="#4169e1"/>
<rect x="347.64" y="245.02" width="3.20" height="3.20" fill="#4169e1"/>
<rect x="356.30" y="246.41" width="3.20" height="3.20" fill="#4169e1"/>
<rect x="364.96" y="247.79" width="3.20" height="3.20" fill="#4169e1"/>
<rect x="373.63" y="249.18" width="3.20" height="3.20" fill="#4169e1"/>
<rect x="382.29" y="250.57" width="3.20" height="3.20" fill="#4169e1"/>
<rect x="390.95" y="251.96" width="3.20" height="3.20" fill="#4169e1"/>
<rect x="399.62" y="253.35" width="3.20" height="3.20" fill="#4169e1"/>
<rect x="408.28" y="254.74" width="3.20" height="3.20" fill="#4169e1"/>
<rect x="416.95" y="255.43" width="3.20" height="3.20" fill="#4169e1"/>
<rect x="425.61" y="256.13" width="3.20" height="3.20" fill="#4169e1"/>
<rect x="434.27" y="256.82" width="3.20" height="3.20" fill="#4169e1"/>
<rect x="442.94" y="257.51" width="3.20" height="3.20" fill="#4169e1"/>
<path d="M271.26,177.47L279.93,196.07L288.59,215.24L297.25,216.62L305.92,218.01L314.58,221.62L323.25,227.18L331.91,231.34L340.57,234.12L349.24,236.90L357.90,239.12L366.56,242.17L375.23,246.62L383.89,251.06L392.55,253.28L401.22,256.61L409.88,257.73L418.55,258.28L427.21,256.61L435.87,257.73L444.54,258.84" fill="none" stroke="#663399" stroke-opacity="0.9" stroke-width="1.0" stroke-linejoin="round"/>
<circle cx="271.26" cy="177.47" r="1.75" fill="#551a8b"/>
<circle cx="279.93" cy="196.07" r="1.75" fill="#551a8b"/>
<circle cx="288.59" cy="215.24" r="1.75" fill="#551a8b"/>
<circle cx="297.25" cy="216.62" r="1.75" fill="#551a8b"/>
<circle cx="305.92" cy="218.01" r="1.75" fill="#551a8b"/>
<circle cx="314.58" cy="221.62" r="1.75" fill="#551a8b"/>
<circle cx="323.25" cy="227.18" r="1.75" fill="#551a8b"/>
<circle cx="331.91" cy="231.34" r="1.75" fill="#551a8b"/>
<circle cx="340.57" cy="234.12" r="1.75" fill="#551a8b"/>
<circle cx="349.24" cy="236.90" r="1.75" fill="#551a8b"/>
<circle cx="357.90" cy="239.12" r="1.75" fill="#551a8b"/>
<circle cx="366.56" cy="242.17" r="1.75" fill="#551a8b"/>
<circle cx="375.23" cy="246.62" r="1.75" fill="#551a8b"/>
<circle cx="383.89" cy="251.06" r="1.75" fill="#551a8b"/>
<circle cx="392.55" cy="253.28" r="1.75" fill="#551a8b"/>
<circle cx="401.22" cy="256.61" r="1.75" fill="#551a8b"/>
<circle cx="409.88" cy="257.73" r="1.75" fill="#551a8b"/>
<circle cx="418.55" cy="258.28" r="1.75" fill="#551a8b"/>
<circle cx="427.21" cy="256.61" r="1.75" fill="#551a8b"/>
<circle cx="435.87" cy="257.73" r="1.75" fill="#551a8b"/>
<circle cx="444.54" cy="258.84" r="1.75" fill="#551a8b"/>
<path d="M271.26,177.47L279.93,186.91L288.59,193.85L297.25,209.13L305.92,214.40L314.58,223.01L323.25,229.95L331.91,234.12L340.57,238.29L349.24,242.45L357.90,245.51L366.56,248.84L375.23,252.17L383.89,255.50L392.55,257.73L401.22,260.78L409.88,262.72L418.55,263.84L427.21,264.67L435.87,265.50L444.54,266.06" fill="none" stroke="#20b2aa" stroke-opacity="0.6" stroke-width="1.0" stroke-linejoin="round"/>
<path d="M271.26,179.67L273.18,176.37L269.35,176.37Z" fill="#20b8b8"/>
<path d="M279.93,189.11L281.84,185.81L278.01,185.81Z" fill="#20b8b8"/>
<path d="M288.59,196.05L290.50,192.75L286.68,192.75Z" fill="#20b8b8"/>
<path d="M297.25,211.33L299.17,208.03L295.34,208.03Z" fill="#20b8b8"/>
<path d="M305.92,216.60L307.83,213.30L304.00,213.30Z" fill="#20b8b8"/>
<path d="M314.58,225.21L316.50,221.91L312.67,221.91Z" fill="#20b8b8"/>
<path d="M323.25,232.15L325.16,228.85L321.33,228.85Z" fill="#20b8b8"/>
<path d="M331.91,236.32L333.82,233.02L330.00,233.02Z" fill="#20b8b8"/>
<path d="M340.57,240.49L342.49,237.19L338.66,237.19Z" fill="#20b8b8"/>
<path d="M349.24,244.65L351.15,241.35L347.32,241.35Z" fill="#20b8b8"/>
<path d="M357.90,247.71L359.81,244.41L355.99,244.41Z" fill="#20b8b8"/>
<path d="M366.56,251.04L368.48,247.74L364.65,247.74Z" fill="#20b8b8"/>
<path d="M375.23,254.37L377.14,251.07L373.31,251.07Z" fill="#20b8b8"/>
<path d="M383.89,257.70L385.80,254.40L381.98,254.40Z" fill="#20b8b8"/>
<path d="M392.55,259.93L394.47,256.63L390.64,256.63Z" fill="#20b8b8"/>
<path d="M401.22,262.98L403.13,259.68L399.30,259.68Z" fill="#20b8b8"/>
<path d="M409.88,264.92L411.80,261.62L407.97,261.62Z" fill="#20b8b8"/>
<path d="M418.55,266.04L420.46,262.74L416.63,262.74Z" fill="#20b8b8"/>
<path d="M427.21,266.87L429.12,263.57L425.30,263.57Z" fill="#20b8b8"/>
<path d="M435.87,267.70L437.79,264.40L433.96,264.40Z" fill="#20b8b8"/>
<path d="M444.54,268.26L446.45,264.96L442.62,264.96Z" fill="#20b8b8"/>
<path d="M271.26,177.47L279.93,209.68L288.59,218.57L297.25,224.12L305.92,228.01L314.58,236.34L323.25,243.56L331.91,253.28L340.57,256.61L349.24,260.78L357.90,265.50L366.56,267.72L375.23,267.72L383.89,268.83L392.55,268.83L401.22,269.67L409.88,270.50L418.55,270.50L427.21,271.89L435.87,274.11L444.54,274.11" fill="none" stroke="#ff0000" stroke-opacity="0.85" stroke-width="1.0" stroke-linejoin="round"/>
<circle cx="271.26" cy="177.47" r="1.80" fill="#ff0000"/>
<circle cx="279.93" cy="209.68" r="1.80" fill="#ff0000"/>
<circle cx="288.59" cy="218.57" r="1.80" fill="#ff0000"/>
<circle cx="297.25" cy="224.12" r="1.80" fill="#ff0000"/>
<circle cx="305.92" cy="228.01" r="1.80" fill="#ff0000"/>
<circle cx="314.58" cy="236.34" r="1.80" fill="#ff0000"/>
<circle cx="323.25" cy="243.56" r="1.80" fill="#ff0000"/>
<circle cx="331.91" cy="253.28" r="1.80" fill="#ff0000"/>
<circle cx="340.57" cy="256.61" r="1.80" fill="#ff0000"/>
<circle cx="349.24" cy="260.78" r="1.80" fill="#ff0000"/>
<circle cx="357.90" cy="265.50" r="1.80" fill="#ff0000"/>
<circle cx="366.56" cy="267.72" r="1.80" fill="#ff0000"/>
<circle cx="375.23" cy="267.72" r="1.80" fill="#ff0000"/>
<circle cx="383.89" cy="268.83" r="1.80" fill="#ff0000"/>
<circle cx="392.55" cy="268.83" r="1.80" fill="#ff0000"/>
<circle cx="401.22" cy="269.67" r="1.80" fill="#ff0000"/>
<circle cx="409.88" cy="270.50" r="1.80" fill="#ff0000"/>
<circle cx="418.55" cy="270.50" r="1.80" fill="#ff0000"/>
<circle cx="427.21" cy="271.89" r="1.80" fill="#ff0000"/>
<circle cx="435.87" cy="274.11" r="1.80" fill="#ff0000"/>
<circle cx="444.54" cy="274.11" r="1.80" fill="#ff0000"/>
</g>
<rect x="262.6" y="167.5" width="190.60" height="110.70" fill="none" stroke="#444" stroke-width="0.9"/>
<line x1="271.26" y1="278.2" x2="271.26" y2="280.7" stroke="#333" stroke-width="0.9"/>
<text x="269.32" y="287.60" textLength="3.88" lengthAdjust="spacingAndGlyphs" class="tk">0</text>
<line x1="305.92" y1="278.2" x2="305.92" y2="280.7" stroke="#333" stroke-width="0.9"/>
<text x="302.04" y="287.60" textLength="7.76" lengthAdjust="spacingAndGlyphs" class="tk">20</text>
<line x1="340.57" y1="278.2" x2="340.57" y2="280.7" stroke="#333" stroke-width="0.9"/>
<text x="336.69" y="287.60" textLength="7.76" lengthAdjust="spacingAndGlyphs" class="tk">40</text>
<line x1="375.23" y1="278.2" x2="375.23" y2="280.7" stroke="#333" stroke-width="0.9"/>
<text x="371.35" y="287.60" textLength="7.76" lengthAdjust="spacingAndGlyphs" class="tk">60</text>
<line x1="409.88" y1="278.2" x2="409.88" y2="280.7" stroke="#333" stroke-width="0.9"/>
<text x="406.00" y="287.60" textLength="7.76" lengthAdjust="spacingAndGlyphs" class="tk">80</text>
<line x1="444.54" y1="278.2" x2="444.54" y2="280.7" stroke="#333" stroke-width="0.9"/>
<text x="438.72" y="287.60" textLength="11.64" lengthAdjust="spacingAndGlyphs" class="tk">100</text>
<line x1="260.1" y1="273.00" x2="262.6" y2="273.00" stroke="#333" stroke-width="0.9"/>
<text x="243.72" y="275.20" textLength="13.58" lengthAdjust="spacingAndGlyphs" class="tk">0.45</text>
<line x1="260.1" y1="259.11" x2="262.6" y2="259.11" stroke="#333" stroke-width="0.9"/>
<text x="243.72" y="261.31" textLength="13.58" lengthAdjust="spacingAndGlyphs" class="tk">0.50</text>
<line x1="260.1" y1="245.23" x2="262.6" y2="245.23" stroke="#333" stroke-width="0.9"/>
<text x="243.72" y="247.43" textLength="13.58" lengthAdjust="spacingAndGlyphs" class="tk">0.55</text>
<line x1="260.1" y1="231.34" x2="262.6" y2="231.34" stroke="#333" stroke-width="0.9"/>
<text x="243.72" y="233.54" textLength="13.58" lengthAdjust="spacingAndGlyphs" class="tk">0.60</text>
<line x1="260.1" y1="217.46" x2="262.6" y2="217.46" stroke="#333" stroke-width="0.9"/>
<text x="243.72" y="219.66" textLength="13.58" lengthAdjust="spacingAndGlyphs" class="tk">0.65</text>
<line x1="260.1" y1="203.57" x2="262.6" y2="203.57" stroke="#333" stroke-width="0.9"/>
<text x="243.72" y="205.77" textLength="13.58" lengthAdjust="spacingAndGlyphs" class="tk">0.70</text>
<line x1="260.1" y1="189.69" x2="262.6" y2="189.69" stroke="#333" stroke-width="0.9"/>
<text x="243.72" y="191.89" textLength="13.58" lengthAdjust="spacingAndGlyphs" class="tk">0.75</text>
<line x1="260.1" y1="175.80" x2="262.6" y2="175.80" stroke="#333" stroke-width="0.9"/>
<text x="243.72" y="178.00" textLength="13.58" lengthAdjust="spacingAndGlyphs" class="tk">0.80</text>
<text x="357.90" y="163.90" text-anchor="middle" class="sf">Machine</text>
<text x="357.90" y="298.60" text-anchor="middle" class="sf">Number of queries</text>
<text transform="translate(239.42,222.85) rotate(-90)" x="0" y="0" text-anchor="middle" class="sf">MAE</text>
<defs><clipPath id="c5"><rect x="490.5" y="167.5" width="190.29999999999995" height="110.69999999999999"/></clipPath></defs>
<line x1="499.15" y1="167.5" x2="499.15" y2="278.2" stroke="#b0b0b0" stroke-opacity="0.62" stroke-width="1"/>
<line x1="533.75" y1="167.5" x2="533.75" y2="278.2" stroke="#b0b0b0" stroke-opacity="0.62" stroke-width="1"/>
<line x1="568.35" y1="167.5" x2="568.35" y2="278.2" stroke="#b0b0b0" stroke-opacity="0.62" stroke-width="1"/>
<line x1="602.95" y1="167.5" x2="602.95" y2="278.2" stroke="#b0b0b0" stroke-opacity="0.62" stroke-width="1"/>
<line x1="637.55" y1="167.5" x2="637.55" y2="278.2" stroke="#b0b0b0" stroke-opacity="0.62" stroke-width="1"/>
<line x1="672.15" y1="167.5" x2="672.15" y2="278.2" stroke="#b0b0b0" stroke-opacity="0.62" stroke-width="1"/>
<line x1="490.5" y1="261.90" x2="680.8" y2="261.90" stroke="#b0b0b0" stroke-opacity="0.62" stroke-width="1"/>
<line x1="490.5" y1="244.28" x2="680.8" y2="244.28" stroke="#b0b0b0" stroke-opacity="0.62" stroke-width="1"/>
<line x1="490.5" y1="226.66" x2="680.8" y2="226.66" stroke="#b0b0b0" stroke-opacity="0.62" stroke-width="1"/>
<line x1="490.5" y1="209.04" x2="680.8" y2="209.04" stroke="#b0b0b0" stroke-opacity="0.62" stroke-width="1"/>
<line x1="490.5" y1="191.42" x2="680.8" y2="191.42" stroke="#b0b0b0" stroke-opacity="0.62" stroke-width="1"/>
<line x1="490.5" y1="173.80" x2="680.8" y2="173.80" stroke="#b0b0b0" stroke-opacity="0.62" stroke-width="1"/>
<g clip-path="url(#c5)">
<path d="M499.15,172.57L507.80,189.66L516.45,201.99L525.10,212.56L533.75,221.37L542.40,228.42L551.05,234.59L559.70,238.99L568.35,242.52L577.00,245.16L585.65,247.80L594.30,250.01L602.95,252.21L611.60,253.97L620.25,255.73L628.90,257.50L637.55,259.26L646.20,260.58L654.85,261.90L663.50,263.22L672.15,264.54" fill="none" stroke="#0000ff" stroke-opacity="0.55" stroke-width="1.0" stroke-linejoin="round"/>
<circle cx="499.15" cy="172.57" r="1.05" fill="#0000ff"/>
<circle cx="507.80" cy="189.66" r="1.05" fill="#0000ff"/>
<circle cx="516.45" cy="201.99" r="1.05" fill="#0000ff"/>
<circle cx="525.10" cy="212.56" r="1.05" fill="#0000ff"/>
<circle cx="533.75" cy="221.37" r="1.05" fill="#0000ff"/>
<circle cx="542.40" cy="228.42" r="1.05" fill="#0000ff"/>
<circle cx="551.05" cy="234.59" r="1.05" fill="#0000ff"/>
<circle cx="559.70" cy="238.99" r="1.05" fill="#0000ff"/>
<circle cx="568.35" cy="242.52" r="1.05" fill="#0000ff"/>
<circle cx="577.00" cy="245.16" r="1.05" fill="#0000ff"/>
<circle cx="585.65" cy="247.80" r="1.05" fill="#0000ff"/>
<circle cx="594.30" cy="250.01" r="1.05" fill="#0000ff"/>
<circle cx="602.95" cy="252.21" r="1.05" fill="#0000ff"/>
<circle cx="611.60" cy="253.97" r="1.05" fill="#0000ff"/>
<circle cx="620.25" cy="255.73" r="1.05" fill="#0000ff"/>
<circle cx="628.90" cy="257.50" r="1.05" fill="#0000ff"/>
<circle cx="637.55" cy="259.26" r="1.05" fill="#0000ff"/>
<circle cx="646.20" cy="260.58" r="1.05" fill="#0000ff"/>
<circle cx="654.85" cy="261.90" r="1.05" fill="#0000ff"/>
<circle cx="663.50" cy="263.22" r="1.05" fill="#0000ff"/>
<circle cx="672.15" cy="264.54" r="1.05" fill="#0000ff"/>
<path d="M499.15,172.57L507.80,186.13L516.45,198.47L525.10,209.04L533.75,219.61L542.40,226.66L551.05,232.83L559.70,238.11L568.35,241.64L577.00,245.16L585.65,248.69L594.30,250.89L602.95,253.09L611.60,254.85L620.25,256.61L628.90,257.94L637.55,259.26L646.20,260.58L654.85,261.90L663.50,263.22L672.15,264.54" fill="none" stroke="#ff8c00" stroke-opacity="0.85" stroke-width="1.0" stroke-linejoin="round"/>
<path d="M497.05,172.57L500.20,174.39L500.20,170.74Z" fill="#ff8c00"/>
<path d="M505.70,186.13L508.85,187.96L508.85,184.31Z" fill="#ff8c00"/>
<path d="M514.35,198.47L517.50,200.30L517.50,196.64Z" fill="#ff8c00"/>
<path d="M523.00,209.04L526.15,210.87L526.15,207.21Z" fill="#ff8c00"/>
<path d="M531.65,219.61L534.80,221.44L534.80,217.78Z" fill="#ff8c00"/>
<path d="M540.30,226.66L543.45,228.49L543.45,224.83Z" fill="#ff8c00"/>
<path d="M548.95,232.83L552.10,234.65L552.10,231.00Z" fill="#ff8c00"/>
<path d="M557.60,238.11L560.75,239.94L560.75,236.29Z" fill="#ff8c00"/>
<path d="M566.25,241.64L569.40,243.46L569.40,239.81Z" fill="#ff8c00"/>
<path d="M574.90,245.16L578.05,246.99L578.05,243.33Z" fill="#ff8c00"/>
<path d="M583.55,248.69L586.70,250.51L586.70,246.86Z" fill="#ff8c00"/>
<path d="M592.20,250.89L595.35,252.71L595.35,249.06Z" fill="#ff8c00"/>
<path d="M600.85,253.09L604.00,254.92L604.00,251.26Z" fill="#ff8c00"/>
<path d="M609.50,254.85L612.65,256.68L612.65,253.02Z" fill="#ff8c00"/>
<path d="M618.15,256.61L621.30,258.44L621.30,254.79Z" fill="#ff8c00"/>
<path d="M626.80,257.94L629.95,259.76L629.95,256.11Z" fill="#ff8c00"/>
<path d="M635.45,259.26L638.60,261.08L638.60,257.43Z" fill="#ff8c00"/>
<path d="M644.10,260.58L647.25,262.41L647.25,258.75Z" fill="#ff8c00"/>
<path d="M652.75,261.90L655.90,263.73L655.90,260.07Z" fill="#ff8c00"/>
<path d="M661.40,263.22L664.55,265.05L664.55,261.39Z" fill="#ff8c00"/>
<path d="M670.05,264.54L673.20,266.37L673.20,262.72Z" fill="#ff8c00"/>
<path d="M499.15,172.57L507.80,187.90L516.45,200.23L525.10,210.80L533.75,221.37L542.40,228.42L551.05,233.71L559.70,238.11L568.35,242.52L577.00,246.04L585.65,248.69L594.30,250.89L602.95,253.09L611.60,254.85L620.25,256.61L628.90,258.38L637.55,260.14L646.20,261.46L654.85,262.78L663.50,264.10L672.15,265.42" fill="none" stroke="#bfbf00" stroke-opacity="0.7" stroke-width="1.0" stroke-linejoin="round"/>
<path d="M501.25,172.57L498.10,174.39L498.10,170.74Z" fill="#bfbf00"/>
<path d="M509.90,187.90L506.75,189.72L506.75,186.07Z" fill="#bfbf00"/>
<path d="M518.55,200.23L515.40,202.06L515.40,198.40Z" fill="#bfbf00"/>
<path d="M527.20,210.80L524.05,212.63L524.05,208.97Z" fill="#bfbf00"/>
<path d="M535.85,221.37L532.70,223.20L532.70,219.55Z" fill="#bfbf00"/>
<path d="M544.50,228.42L541.35,230.25L541.35,226.59Z" fill="#bfbf00"/>
<path d="M553.15,233.71L550.00,235.53L550.00,231.88Z" fill="#bfbf00"/>
<path d="M561.80,238.11L558.65,239.94L558.65,236.29Z" fill="#bfbf00"/>
<path d="M570.45,242.52L567.30,244.34L567.30,240.69Z" fill="#bfbf00"/>
<path d="M579.10,246.04L575.95,247.87L575.95,244.21Z" fill="#bfbf00"/>
<path d="M587.75,248.69L584.60,250.51L584.60,246.86Z" fill="#bfbf00"/>
<path d="M596.40,250.89L593.25,252.71L593.25,249.06Z" fill="#bfbf00"/>
<path d="M605.05,253.09L601.90,254.92L601.90,251.26Z" fill="#bfbf00"/>
<path d="M613.70,254.85L610.55,256.68L610.55,253.02Z" fill="#bfbf00"/>
<path d="M622.35,256.61L619.20,258.44L619.20,254.79Z" fill="#bfbf00"/>
<path d="M631.00,258.38L627.85,260.20L627.85,256.55Z" fill="#bfbf00"/>
<path d="M639.65,260.14L636.50,261.96L636.50,258.31Z" fill="#bfbf00"/>
<path d="M648.30,261.46L645.15,263.29L645.15,259.63Z" fill="#bfbf00"/>
<path d="M656.95,262.78L653.80,264.61L653.80,260.95Z" fill="#bfbf00"/>
<path d="M665.60,264.10L662.45,265.93L662.45,262.28Z" fill="#bfbf00"/>
<path d="M674.25,265.42L671.10,267.25L671.10,263.60Z" fill="#bfbf00"/>
<path d="M499.15,172.57L507.80,187.90L516.45,200.23L525.10,210.80L533.75,219.61L542.40,225.78L551.05,231.95L559.70,237.23L568.35,240.76L577.00,244.28L585.65,247.80L594.30,250.01L602.95,252.21L611.60,254.41L620.25,256.61L628.90,258.38L637.55,260.14L646.20,261.46L654.85,262.78L663.50,264.10L672.15,265.42" fill="none" stroke="#008000" stroke-opacity="0.8" stroke-width="1.0" stroke-linejoin="round"/>
<path d="M499.15,170.47L500.98,173.62L497.32,173.62Z" fill="#008000"/>
<path d="M507.80,185.80L509.63,188.95L505.97,188.95Z" fill="#008000"/>
<path d="M516.45,198.13L518.28,201.28L514.62,201.28Z" fill="#008000"/>
<path d="M525.10,208.70L526.93,211.85L523.27,211.85Z" fill="#008000"/>
<path d="M533.75,217.51L535.58,220.66L531.92,220.66Z" fill="#008000"/>
<path d="M542.40,223.68L544.23,226.83L540.57,226.83Z" fill="#008000"/>
<path d="M551.05,229.85L552.88,233.00L549.22,233.00Z" fill="#008000"/>
<path d="M559.70,235.13L561.53,238.28L557.87,238.28Z" fill="#008000"/>
<path d="M568.35,238.66L570.18,241.81L566.52,241.81Z" fill="#008000"/>
<path d="M577.00,242.18L578.83,245.33L575.17,245.33Z" fill="#008000"/>
<path d="M585.65,245.70L587.48,248.85L583.82,248.85Z" fill="#008000"/>
<path d="M594.30,247.91L596.13,251.06L592.47,251.06Z" fill="#008000"/>
<path d="M602.95,250.11L604.78,253.26L601.12,253.26Z" fill="#008000"/>
<path d="M611.60,252.31L613.43,255.46L609.77,255.46Z" fill="#008000"/>
<path d="M620.25,254.51L622.08,257.66L618.42,257.66Z" fill="#008000"/>
<path d="M628.90,256.28L630.73,259.43L627.07,259.43Z" fill="#008000"/>
<path d="M637.55,258.04L639.38,261.19L635.72,261.19Z" fill="#008000"/>
<path d="M646.20,259.36L648.03,262.51L644.37,262.51Z" fill="#008000"/>
<path d="M654.85,260.68L656.68,263.83L653.02,263.83Z" fill="#008000"/>
<path d="M663.50,262.00L665.33,265.15L661.67,265.15Z" fill="#008000"/>
<path d="M672.15,263.32L673.98,266.47L670.32,266.47Z" fill="#008000"/>
<path d="M499.15,172.57L507.80,191.42L516.45,203.75L525.10,224.90L533.75,231.95L542.40,239.88L551.05,244.28L559.70,248.69L568.35,251.33L577.00,253.97L585.65,257.67L594.30,258.73L602.95,260.67L611.60,261.72L620.25,262.78L628.90,263.93L637.55,265.07L646.20,265.69L654.85,266.30L663.50,267.19L672.15,268.07" fill="none" stroke="#a0522d" stroke-opacity="0.6" stroke-width="1.0" stroke-linejoin="round"/>
<circle cx="499.15" cy="172.57" r="1.35" fill="#a0522d"/>
<circle cx="507.80" cy="191.42" r="1.35" fill="#a0522d"/>
<circle cx="516.45" cy="203.75" r="1.35" fill="#a0522d"/>
<circle cx="525.10" cy="224.90" r="1.35" fill="#a0522d"/>
<circle cx="533.75" cy="231.95" r="1.35" fill="#a0522d"/>
<circle cx="542.40" cy="239.88" r="1.35" fill="#a0522d"/>
<circle cx="551.05" cy="244.28" r="1.35" fill="#a0522d"/>
<circle cx="559.70" cy="248.69" r="1.35" fill="#a0522d"/>
<circle cx="568.35" cy="251.33" r="1.35" fill="#a0522d"/>
<circle cx="577.00" cy="253.97" r="1.35" fill="#a0522d"/>
<circle cx="585.65" cy="257.67" r="1.35" fill="#a0522d"/>
<circle cx="594.30" cy="258.73" r="1.35" fill="#a0522d"/>
<circle cx="602.95" cy="260.67" r="1.35" fill="#a0522d"/>
<circle cx="611.60" cy="261.72" r="1.35" fill="#a0522d"/>
<circle cx="620.25" cy="262.78" r="1.35" fill="#a0522d"/>
<circle cx="628.90" cy="263.93" r="1.35" fill="#a0522d"/>
<circle cx="637.55" cy="265.07" r="1.35" fill="#a0522d"/>
<circle cx="646.20" cy="265.69" r="1.35" fill="#a0522d"/>
<circle cx="654.85" cy="266.30" r="1.35" fill="#a0522d"/>
<circle cx="663.50" cy="267.19" r="1.35" fill="#a0522d"/>
<circle cx="672.15" cy="268.07" r="1.35" fill="#a0522d"/>
<path d="M499.15,172.57L507.80,191.42L516.45,205.52L525.10,217.85L533.75,226.66L542.40,233.71L551.05,239.88L559.70,244.28L568.35,247.80L577.00,251.33L585.65,253.97L594.30,256.17L602.95,258.38L611.60,260.14L620.25,261.90L628.90,263.22L637.55,264.54L646.20,265.86L654.85,267.19L663.50,268.07L672.15,268.95" fill="none" stroke="#ee82ee" stroke-opacity="0.85" stroke-width="1.0" stroke-linejoin="round"/>
<path d="M497.75,172.57H500.55M499.15,171.17V173.97" stroke="#ee82ee" stroke-width="1.2"/>
<path d="M506.40,191.42H509.20M507.80,190.02V192.82" stroke="#ee82ee" stroke-width="1.2"/>
<path d="M515.05,205.52H517.85M516.45,204.12V206.92" stroke="#ee82ee" stroke-width="1.2"/>
<path d="M523.70,217.85H526.50M525.10,216.45V219.25" stroke="#ee82ee" stroke-width="1.2"/>
<path d="M532.35,226.66H535.15M533.75,225.26V228.06" stroke="#ee82ee" stroke-width="1.2"/>
<path d="M541.00,233.71H543.80M542.40,232.31V235.11" stroke="#ee82ee" stroke-width="1.2"/>
<path d="M549.65,239.88H552.45M551.05,238.47V241.28" stroke="#ee82ee" stroke-width="1.2"/>
<path d="M558.30,244.28H561.10M559.70,242.88V245.68" stroke="#ee82ee" stroke-width="1.2"/>
<path d="M566.95,247.80H569.75M568.35,246.40V249.20" stroke="#ee82ee" stroke-width="1.2"/>
<path d="M575.60,251.33H578.40M577.00,249.93V252.73" stroke="#ee82ee" stroke-width="1.2"/>
<path d="M584.25,253.97H587.05M585.65,252.57V255.37" stroke="#ee82ee" stroke-width="1.2"/>
<path d="M592.90,256.17H595.70M594.30,254.77V257.57" stroke="#ee82ee" stroke-width="1.2"/>
<path d="M601.55,258.38H604.35M602.95,256.98V259.78" stroke="#ee82ee" stroke-width="1.2"/>
<path d="M610.20,260.14H613.00M611.60,258.74V261.54" stroke="#ee82ee" stroke-width="1.2"/>
<path d="M618.85,261.90H621.65M620.25,260.50V263.30" stroke="#ee82ee" stroke-width="1.2"/>
<path d="M627.50,263.22H630.30M628.90,261.82V264.62" stroke="#ee82ee" stroke-width="1.2"/>
<path d="M636.15,264.54H638.95M637.55,263.14V265.94" stroke="#ee82ee" stroke-width="1.2"/>
<path d="M644.80,265.86H647.60M646.20,264.46V267.26" stroke="#ee82ee" stroke-width="1.2"/>
<path d="M653.45,267.19H656.25M654.85,265.79V268.59" stroke="#ee82ee" stroke-width="1.2"/>
<path d="M662.10,268.07H664.90M663.50,266.67V269.47" stroke="#ee82ee" stroke-width="1.2"/>
<path d="M670.75,268.95H673.55M672.15,267.55V270.35" stroke="#ee82ee" stroke-width="1.2"/>
<path d="M499.15,172.57L507.80,191.42L516.45,207.28L525.10,224.90L533.75,233.18L542.40,238.99L551.05,244.28L559.70,248.69L568.35,256.61L577.00,260.67L585.65,262.96L594.30,263.66L602.95,264.37L611.60,265.34L620.25,266.30L628.90,268.16L637.55,270.01L646.20,272.65L654.85,274.23L663.50,275.64L672.15,274.94" fill="none" stroke="#808080" stroke-opacity="0.65" stroke-width="1.0" stroke-linejoin="round"/>
<path d="M497.65,171.07L500.65,174.07M497.65,174.07L500.65,171.07" stroke="#505050" stroke-width="0.8"/>
<path d="M506.30,189.92L509.30,192.92M506.30,192.92L509.30,189.92" stroke="#505050" stroke-width="0.8"/>
<path d="M514.95,205.78L517.95,208.78M514.95,208.78L517.95,205.78" stroke="#505050" stroke-width="0.8"/>
<path d="M523.60,223.40L526.60,226.40M523.60,226.40L526.60,223.40" stroke="#505050" stroke-width="0.8"/>
<path d="M532.25,231.68L535.25,234.68M532.25,234.68L535.25,231.68" stroke="#505050" stroke-width="0.8"/>
<path d="M540.90,237.49L543.90,240.49M540.90,240.49L543.90,237.49" stroke="#505050" stroke-width="0.8"/>
<path d="M549.55,242.78L552.55,245.78M549.55,245.78L552.55,242.78" stroke="#505050" stroke-width="0.8"/>
<path d="M558.20,247.19L561.20,250.19M558.20,250.19L561.20,247.19" stroke="#505050" stroke-width="0.8"/>
<path d="M566.85,255.11L569.85,258.11M566.85,258.11L569.85,255.11" stroke="#505050" stroke-width="0.8"/>
<path d="M575.50,259.17L578.50,262.17M575.50,262.17L578.50,259.17" stroke="#505050" stroke-width="0.8"/>
<path d="M584.15,261.46L587.15,264.46M584.15,264.46L587.15,261.46" stroke="#505050" stroke-width="0.8"/>
<path d="M592.80,262.16L595.80,265.16M592.80,265.16L595.80,262.16" stroke="#505050" stroke-width="0.8"/>
<path d="M601.45,262.87L604.45,265.87M601.45,265.87L604.45,262.87" stroke="#505050" stroke-width="0.8"/>
<path d="M610.10,263.84L613.10,266.84M610.10,266.84L613.10,263.84" stroke="#505050" stroke-width="0.8"/>
<path d="M618.75,264.80L621.75,267.80M618.75,267.80L621.75,264.80" stroke="#505050" stroke-width="0.8"/>
<path d="M627.40,266.66L630.40,269.66M627.40,269.66L630.40,266.66" stroke="#505050" stroke-width="0.8"/>
<path d="M636.05,268.51L639.05,271.51M636.05,271.51L639.05,268.51" stroke="#505050" stroke-width="0.8"/>
<path d="M644.70,271.15L647.70,274.15M644.70,274.15L647.70,271.15" stroke="#505050" stroke-width="0.8"/>
<path d="M653.35,272.73L656.35,275.73M653.35,275.73L656.35,272.73" stroke="#505050" stroke-width="0.8"/>
<path d="M662.00,274.14L665.00,277.14M662.00,277.14L665.00,274.14" stroke="#505050" stroke-width="0.8"/>
<path d="M670.65,273.44L673.65,276.44M670.65,276.44L673.65,273.44" stroke="#505050" stroke-width="0.8"/>
<path d="M499.15,172.57L507.80,191.42L516.45,205.52L525.10,216.09L533.75,226.66L542.40,233.71L551.05,239.88L559.70,244.28L568.35,248.69L577.00,253.09L585.65,255.73L594.30,257.05L602.95,258.38L611.60,260.14L620.25,261.90L628.90,263.22L637.55,264.54L646.20,265.86L654.85,267.19L663.50,268.07L672.15,268.95" fill="none" stroke="#c000c0" stroke-opacity="0.85" stroke-width="1.0" stroke-linejoin="round"/>
<path d="M499.15,170.17L500.75,172.57L499.15,174.97L497.55,172.57Z" fill="#c000c0"/>
<path d="M507.80,189.02L509.40,191.42L507.80,193.82L506.20,191.42Z" fill="#c000c0"/>
<path d="M516.45,203.12L518.05,205.52L516.45,207.92L514.85,205.52Z" fill="#c000c0"/>
<path d="M525.10,213.69L526.70,216.09L525.10,218.49L523.50,216.09Z" fill="#c000c0"/>
<path d="M533.75,224.26L535.35,226.66L533.75,229.06L532.15,226.66Z" fill="#c000c0"/>
<path d="M542.40,231.31L544.00,233.71L542.40,236.11L540.80,233.71Z" fill="#c000c0"/>
<path d="M551.05,237.47L552.65,239.88L551.05,242.28L549.45,239.88Z" fill="#c000c0"/>
<path d="M559.70,241.88L561.30,244.28L559.70,246.68L558.10,244.28Z" fill="#c000c0"/>
<path d="M568.35,246.28L569.95,248.69L568.35,251.09L566.75,248.69Z" fill="#c000c0"/>
<path d="M577.00,250.69L578.60,253.09L577.00,255.49L575.40,253.09Z" fill="#c000c0"/>
<path d="M585.65,253.33L587.25,255.73L585.65,258.13L584.05,255.73Z" fill="#c000c0"/>
<path d="M594.30,254.65L595.90,257.05L594.30,259.45L592.70,257.05Z" fill="#c000c0"/>
<path d="M602.95,255.98L604.55,258.38L602.95,260.78L601.35,258.38Z" fill="#c000c0"/>
<path d="M611.60,257.74L613.20,260.14L611.60,262.54L610.00,260.14Z" fill="#c000c0"/>
<path d="M620.25,259.50L621.85,261.90L620.25,264.30L618.65,261.90Z" fill="#c000c0"/>
<path d="M628.90,260.82L630.50,263.22L628.90,265.62L627.30,263.22Z" fill="#c000c0"/>
<path d="M637.55,262.14L639.15,264.54L637.55,266.94L635.95,264.54Z" fill="#c000c0"/>
<path d="M646.20,263.46L647.80,265.86L646.20,268.26L644.60,265.86Z" fill="#c000c0"/>
<path d="M654.85,264.79L656.45,267.19L654.85,269.59L653.25,267.19Z" fill="#c000c0"/>
<path d="M663.50,265.67L665.10,268.07L663.50,270.47L661.90,268.07Z" fill="#c000c0"/>
<path d="M672.15,266.55L673.75,268.95L672.15,271.35L670.55,268.95Z" fill="#c000c0"/>
<path d="M499.15,172.57L507.80,187.90L516.45,200.23L525.10,214.33L533.75,223.14L542.40,230.18L551.05,235.47L559.70,239.88L568.35,243.40L577.00,246.04L585.65,248.69L594.30,250.45L602.95,252.21L611.60,254.32L620.25,255.73L628.90,257.50L637.55,259.26L646.20,261.46L654.85,263.66L663.50,265.95L672.15,268.24" fill="none" stroke="#4169e1" stroke-opacity="0.55" stroke-width="1.0" stroke-linejoin="round"/>
<rect x="497.55" y="170.97" width="3.20" height="3.20" fill="#4169e1"/>
<rect x="506.20" y="186.30" width="3.20" height="3.20" fill="#4169e1"/>
<rect x="514.85" y="198.63" width="3.20" height="3.20" fill="#4169e1"/>
<rect x="523.50" y="212.73" width="3.20" height="3.20" fill="#4169e1"/>
<rect x="532.15" y="221.54" width="3.20" height="3.20" fill="#4169e1"/>
<rect x="540.80" y="228.58" width="3.20" height="3.20" fill="#4169e1"/>
<rect x="549.45" y="233.87" width="3.20" height="3.20" fill="#4169e1"/>
<rect x="558.10" y="238.28" width="3.20" height="3.20" fill="#4169e1"/>
<rect x="566.75" y="241.80" width="3.20" height="3.20" fill="#4169e1"/>
<rect x="575.40" y="244.44" width="3.20" height="3.20" fill="#4169e1"/>
<rect x="584.05" y="247.09" width="3.20" height="3.20" fill="#4169e1"/>
<rect x="592.70" y="248.85" width="3.20" height="3.20" fill="#4169e1"/>
<rect x="601.35" y="250.61" width="3.20" height="3.20" fill="#4169e1"/>
<rect x="610.00" y="252.72" width="3.20" height="3.20" fill="#4169e1"/>
<rect x="618.65" y="254.13" width="3.20" height="3.20" fill="#4169e1"/>
<rect x="627.30" y="255.90" width="3.20" height="3.20" fill="#4169e1"/>
<rect x="635.95" y="257.66" width="3.20" height="3.20" fill="#4169e1"/>
<rect x="644.60" y="259.86" width="3.20" height="3.20" fill="#4169e1"/>
<rect x="653.25" y="262.06" width="3.20" height="3.20" fill="#4169e1"/>
<rect x="661.90" y="264.35" width="3.20" height="3.20" fill="#4169e1"/>
<rect x="670.55" y="266.64" width="3.20" height="3.20" fill="#4169e1"/>
<path d="M499.15,172.57L507.80,181.55L516.45,196.18L525.10,206.22L533.75,215.21L542.40,225.78L551.05,230.89L559.70,233.88L568.35,236.00L577.00,243.22L585.65,248.16L594.30,250.45L602.95,252.03L611.60,254.32L620.25,256.61L628.90,258.64L637.55,260.67L646.20,261.99L654.85,263.31L663.50,264.37L672.15,265.42" fill="none" stroke="#663399" stroke-opacity="0.9" stroke-width="1.0" stroke-linejoin="round"/>
<circle cx="499.15" cy="172.57" r="1.75" fill="#551a8b"/>
<circle cx="507.80" cy="181.55" r="1.75" fill="#551a8b"/>
<circle cx="516.45" cy="196.18" r="1.75" fill="#551a8b"/>
<circle cx="525.10" cy="206.22" r="1.75" fill="#551a8b"/>
<circle cx="533.75" cy="215.21" r="1.75" fill="#551a8b"/>
<circle cx="542.40" cy="225.78" r="1.75" fill="#551a8b"/>
<circle cx="551.05" cy="230.89" r="1.75" fill="#551a8b"/>
<circle cx="559.70" cy="233.88" r="1.75" fill="#551a8b"/>
<circle cx="568.35" cy="236.00" r="1.75" fill="#551a8b"/>
<circle cx="577.00" cy="243.22" r="1.75" fill="#551a8b"/>
<circle cx="585.65" cy="248.16" r="1.75" fill="#551a8b"/>
<circle cx="594.30" cy="250.45" r="1.75" fill="#551a8b"/>
<circle cx="602.95" cy="252.03" r="1.75" fill="#551a8b"/>
<circle cx="611.60" cy="254.32" r="1.75" fill="#551a8b"/>
<circle cx="620.25" cy="256.61" r="1.75" fill="#551a8b"/>
<circle cx="628.90" cy="258.64" r="1.75" fill="#551a8b"/>
<circle cx="637.55" cy="260.67" r="1.75" fill="#551a8b"/>
<circle cx="646.20" cy="261.99" r="1.75" fill="#551a8b"/>
<circle cx="654.85" cy="263.31" r="1.75" fill="#551a8b"/>
<circle cx="663.50" cy="264.37" r="1.75" fill="#551a8b"/>
<circle cx="672.15" cy="265.42" r="1.75" fill="#551a8b"/>
<path d="M499.15,172.57L507.80,186.13L516.45,200.23L525.10,209.04L533.75,219.61L542.40,226.66L551.05,233.71L559.70,237.23L568.35,238.11L577.00,244.28L585.65,251.68L594.30,252.56L602.95,255.38L611.60,256.53L620.25,257.67L628.90,259.26L637.55,260.14L646.20,261.02L654.85,262.78L663.50,261.55L672.15,263.66" fill="none" stroke="#20b2aa" stroke-opacity="0.6" stroke-width="1.0" stroke-linejoin="round"/>
<path d="M499.15,174.77L501.06,171.47L497.24,171.47Z" fill="#20b8b8"/>
<path d="M507.80,188.33L509.71,185.03L505.89,185.03Z" fill="#20b8b8"/>
<path d="M516.45,202.43L518.36,199.13L514.54,199.13Z" fill="#20b8b8"/>
<path d="M525.10,211.24L527.01,207.94L523.19,207.94Z" fill="#20b8b8"/>
<path d="M533.75,221.81L535.66,218.51L531.84,218.51Z" fill="#20b8b8"/>
<path d="M542.40,228.86L544.31,225.56L540.49,225.56Z" fill="#20b8b8"/>
<path d="M551.05,235.91L552.96,232.61L549.14,232.61Z" fill="#20b8b8"/>
<path d="M559.70,239.43L561.61,236.13L557.79,236.13Z" fill="#20b8b8"/>
<path d="M568.35,240.31L570.26,237.01L566.44,237.01Z" fill="#20b8b8"/>
<path d="M577.00,246.48L578.91,243.18L575.09,243.18Z" fill="#20b8b8"/>
<path d="M585.65,253.88L587.56,250.58L583.74,250.58Z" fill="#20b8b8"/>
<path d="M594.30,254.76L596.21,251.46L592.39,251.46Z" fill="#20b8b8"/>
<path d="M602.95,257.58L604.86,254.28L601.04,254.28Z" fill="#20b8b8"/>
<path d="M611.60,258.73L613.51,255.43L609.69,255.43Z" fill="#20b8b8"/>
<path d="M620.25,259.87L622.16,256.57L618.34,256.57Z" fill="#20b8b8"/>
<path d="M628.90,261.46L630.81,258.16L626.99,258.16Z" fill="#20b8b8"/>
<path d="M637.55,262.34L639.46,259.04L635.64,259.04Z" fill="#20b8b8"/>
<path d="M646.20,263.22L648.11,259.92L644.29,259.92Z" fill="#20b8b8"/>
<path d="M654.85,264.98L656.76,261.68L652.94,261.68Z" fill="#20b8b8"/>
<path d="M663.50,263.75L665.41,260.45L661.59,260.45Z" fill="#20b8b8"/>
<path d="M672.15,265.86L674.06,262.56L670.24,262.56Z" fill="#20b8b8"/>
<path d="M499.15,172.57L507.80,202.87L516.45,215.91L525.10,231.59L533.75,239.17L542.40,245.51L551.05,249.57L559.70,252.21L568.35,254.85L577.00,257.14L585.65,259.26L594.30,262.25L602.95,263.66L611.60,265.42L620.25,266.83L628.90,268.24L637.55,269.65L646.20,271.24L654.85,271.77L663.50,272.30L672.15,272.30" fill="none" stroke="#ff0000" stroke-opacity="0.85" stroke-width="1.0" stroke-linejoin="round"/>
<circle cx="499.15" cy="172.57" r="1.80" fill="#ff0000"/>
<circle cx="507.80" cy="202.87" r="1.80" fill="#ff0000"/>
<circle cx="516.45" cy="215.91" r="1.80" fill="#ff0000"/>
<circle cx="525.10" cy="231.59" r="1.80" fill="#ff0000"/>
<circle cx="533.75" cy="239.17" r="1.80" fill="#ff0000"/>
<circle cx="542.40" cy="245.51" r="1.80" fill="#ff0000"/>
<circle cx="551.05" cy="249.57" r="1.80" fill="#ff0000"/>
<circle cx="559.70" cy="252.21" r="1.80" fill="#ff0000"/>
<circle cx="568.35" cy="254.85" r="1.80" fill="#ff0000"/>
<circle cx="577.00" cy="257.14" r="1.80" fill="#ff0000"/>
<circle cx="585.65" cy="259.26" r="1.80" fill="#ff0000"/>
<circle cx="594.30" cy="262.25" r="1.80" fill="#ff0000"/>
<circle cx="602.95" cy="263.66" r="1.80" fill="#ff0000"/>
<circle cx="611.60" cy="265.42" r="1.80" fill="#ff0000"/>
<circle cx="620.25" cy="266.83" r="1.80" fill="#ff0000"/>
<circle cx="628.90" cy="268.24" r="1.80" fill="#ff0000"/>
<circle cx="637.55" cy="269.65" r="1.80" fill="#ff0000"/>
<circle cx="646.20" cy="271.24" r="1.80" fill="#ff0000"/>
<circle cx="654.85" cy="271.77" r="1.80" fill="#ff0000"/>
<circle cx="663.50" cy="272.30" r="1.80" fill="#ff0000"/>
<circle cx="672.15" cy="272.30" r="1.80" fill="#ff0000"/>
</g>
<rect x="490.5" y="167.5" width="190.30" height="110.70" fill="none" stroke="#444" stroke-width="0.9"/>
<line x1="499.15" y1="278.2" x2="499.15" y2="280.7" stroke="#333" stroke-width="0.9"/>
<text x="497.21" y="287.60" textLength="3.88" lengthAdjust="spacingAndGlyphs" class="tk">0</text>
<line x1="533.75" y1="278.2" x2="533.75" y2="280.7" stroke="#333" stroke-width="0.9"/>
<text x="529.87" y="287.60" textLength="7.76" lengthAdjust="spacingAndGlyphs" class="tk">20</text>
<line x1="568.35" y1="278.2" x2="568.35" y2="280.7" stroke="#333" stroke-width="0.9"/>
<text x="564.47" y="287.60" textLength="7.76" lengthAdjust="spacingAndGlyphs" class="tk">40</text>
<line x1="602.95" y1="278.2" x2="602.95" y2="280.7" stroke="#333" stroke-width="0.9"/>
<text x="599.07" y="287.60" textLength="7.76" lengthAdjust="spacingAndGlyphs" class="tk">60</text>
<line x1="637.55" y1="278.2" x2="637.55" y2="280.7" stroke="#333" stroke-width="0.9"/>
<text x="633.67" y="287.60" textLength="7.76" lengthAdjust="spacingAndGlyphs" class="tk">80</text>
<line x1="672.15" y1="278.2" x2="672.15" y2="280.7" stroke="#333" stroke-width="0.9"/>
<text x="666.33" y="287.60" textLength="11.64" lengthAdjust="spacingAndGlyphs" class="tk">100</text>
<line x1="488.0" y1="261.90" x2="490.5" y2="261.90" stroke="#333" stroke-width="0.9"/>
<text x="475.50" y="264.10" textLength="9.70" lengthAdjust="spacingAndGlyphs" class="tk">0.5</text>
<line x1="488.0" y1="244.28" x2="490.5" y2="244.28" stroke="#333" stroke-width="0.9"/>
<text x="475.50" y="246.48" textLength="9.70" lengthAdjust="spacingAndGlyphs" class="tk">0.6</text>
<line x1="488.0" y1="226.66" x2="490.5" y2="226.66" stroke="#333" stroke-width="0.9"/>
<text x="475.50" y="228.86" textLength="9.70" lengthAdjust="spacingAndGlyphs" class="tk">0.7</text>
<line x1="488.0" y1="209.04" x2="490.5" y2="209.04" stroke="#333" stroke-width="0.9"/>
<text x="475.50" y="211.24" textLength="9.70" lengthAdjust="spacingAndGlyphs" class="tk">0.8</text>
<line x1="488.0" y1="191.42" x2="490.5" y2="191.42" stroke="#333" stroke-width="0.9"/>
<text x="475.50" y="193.62" textLength="9.70" lengthAdjust="spacingAndGlyphs" class="tk">0.9</text>
<line x1="488.0" y1="173.80" x2="490.5" y2="173.80" stroke="#333" stroke-width="0.9"/>
<text x="475.50" y="176.00" textLength="9.70" lengthAdjust="spacingAndGlyphs" class="tk">1.0</text>
<text x="585.65" y="163.90" text-anchor="middle" class="sf">Housing</text>
<text x="585.65" y="298.60" text-anchor="middle" class="sf">Number of queries</text>
<text transform="translate(471.20,222.85) rotate(-90)" x="0" y="0" text-anchor="middle" class="sf">MAE</text>
<defs><clipPath id="c6"><rect x="35.4" y="318.3" width="190.0" height="110.69999999999999"/></clipPath></defs>
<line x1="44.04" y1="318.3" x2="44.04" y2="429.0" stroke="#b0b0b0" stroke-opacity="0.62" stroke-width="1"/>
<line x1="78.58" y1="318.3" x2="78.58" y2="429.0" stroke="#b0b0b0" stroke-opacity="0.62" stroke-width="1"/>
<line x1="113.13" y1="318.3" x2="113.13" y2="429.0" stroke="#b0b0b0" stroke-opacity="0.62" stroke-width="1"/>
<line x1="147.67" y1="318.3" x2="147.67" y2="429.0" stroke="#b0b0b0" stroke-opacity="0.62" stroke-width="1"/>
<line x1="182.22" y1="318.3" x2="182.22" y2="429.0" stroke="#b0b0b0" stroke-opacity="0.62" stroke-width="1"/>
<line x1="216.76" y1="318.3" x2="216.76" y2="429.0" stroke="#b0b0b0" stroke-opacity="0.62" stroke-width="1"/>
<line x1="35.4" y1="426.60" x2="225.4" y2="426.60" stroke="#b0b0b0" stroke-opacity="0.62" stroke-width="1"/>
<line x1="35.4" y1="400.85" x2="225.4" y2="400.85" stroke="#b0b0b0" stroke-opacity="0.62" stroke-width="1"/>
<line x1="35.4" y1="375.10" x2="225.4" y2="375.10" stroke="#b0b0b0" stroke-opacity="0.62" stroke-width="1"/>
<line x1="35.4" y1="349.35" x2="225.4" y2="349.35" stroke="#b0b0b0" stroke-opacity="0.62" stroke-width="1"/>
<line x1="35.4" y1="323.60" x2="225.4" y2="323.60" stroke="#b0b0b0" stroke-opacity="0.62" stroke-width="1"/>
<g clip-path="url(#c6)">
<path d="M44.04,320.77L52.67,339.05L61.31,357.08L69.95,367.38L78.58,375.10L87.22,381.54L95.85,385.40L104.49,389.26L113.13,392.61L121.76,395.70L130.40,399.56L139.04,402.14L147.67,404.71L156.31,406.64L164.95,408.58L173.58,409.86L182.22,411.15L190.85,413.08L199.49,415.01L208.13,415.66L216.76,416.30" fill="none" stroke="#0000ff" stroke-opacity="0.55" stroke-width="1.0" stroke-linejoin="round"/>
<circle cx="44.04" cy="320.77" r="1.05" fill="#0000ff"/>
<circle cx="52.67" cy="339.05" r="1.05" fill="#0000ff"/>
<circle cx="61.31" cy="357.08" r="1.05" fill="#0000ff"/>
<circle cx="69.95" cy="367.38" r="1.05" fill="#0000ff"/>
<circle cx="78.58" cy="375.10" r="1.05" fill="#0000ff"/>
<circle cx="87.22" cy="381.54" r="1.05" fill="#0000ff"/>
<circle cx="95.85" cy="385.40" r="1.05" fill="#0000ff"/>
<circle cx="104.49" cy="389.26" r="1.05" fill="#0000ff"/>
<circle cx="113.13" cy="392.61" r="1.05" fill="#0000ff"/>
<circle cx="121.76" cy="395.70" r="1.05" fill="#0000ff"/>
<circle cx="130.40" cy="399.56" r="1.05" fill="#0000ff"/>
<circle cx="139.04" cy="402.14" r="1.05" fill="#0000ff"/>
<circle cx="147.67" cy="404.71" r="1.05" fill="#0000ff"/>
<circle cx="156.31" cy="406.64" r="1.05" fill="#0000ff"/>
<circle cx="164.95" cy="408.58" r="1.05" fill="#0000ff"/>
<circle cx="173.58" cy="409.86" r="1.05" fill="#0000ff"/>
<circle cx="182.22" cy="411.15" r="1.05" fill="#0000ff"/>
<circle cx="190.85" cy="413.08" r="1.05" fill="#0000ff"/>
<circle cx="199.49" cy="415.01" r="1.05" fill="#0000ff"/>
<circle cx="208.13" cy="415.66" r="1.05" fill="#0000ff"/>
<circle cx="216.76" cy="416.30" r="1.05" fill="#0000ff"/>
<path d="M44.04,320.77L52.67,334.93L61.31,342.14L69.95,346.00L78.58,351.15L87.22,352.70L95.85,356.56L104.49,363.25L113.13,369.95L121.76,376.65L130.40,378.45L139.04,381.80L147.67,386.43L156.31,390.81L164.95,391.84L173.58,395.19L182.22,397.50L190.85,401.88L199.49,403.68L208.13,404.97L216.76,406.52" fill="none" stroke="#ff8c00" stroke-opacity="0.85" stroke-width="1.0" stroke-linejoin="round"/>
<path d="M41.94,320.77L45.09,322.59L45.09,318.94Z" fill="#ff8c00"/>
<path d="M50.57,334.93L53.72,336.76L53.72,333.10Z" fill="#ff8c00"/>
<path d="M59.21,342.14L62.36,343.97L62.36,340.31Z" fill="#ff8c00"/>
<path d="M67.85,346.00L71.00,347.83L71.00,344.18Z" fill="#ff8c00"/>
<path d="M76.48,351.15L79.63,352.98L79.63,349.33Z" fill="#ff8c00"/>
<path d="M85.12,352.70L88.27,354.52L88.27,350.87Z" fill="#ff8c00"/>
<path d="M93.75,356.56L96.90,358.39L96.90,354.73Z" fill="#ff8c00"/>
<path d="M102.39,363.25L105.54,365.08L105.54,361.43Z" fill="#ff8c00"/>
<path d="M111.03,369.95L114.18,371.78L114.18,368.12Z" fill="#ff8c00"/>
<path d="M119.66,376.65L122.81,378.47L122.81,374.82Z" fill="#ff8c00"/>
<path d="M128.30,378.45L131.45,380.27L131.45,376.62Z" fill="#ff8c00"/>
<path d="M136.94,381.80L140.09,383.62L140.09,379.97Z" fill="#ff8c00"/>
<path d="M145.57,386.43L148.72,388.26L148.72,384.60Z" fill="#ff8c00"/>
<path d="M154.21,390.81L157.36,392.63L157.36,388.98Z" fill="#ff8c00"/>
<path d="M162.85,391.84L166.00,393.66L166.00,390.01Z" fill="#ff8c00"/>
<path d="M171.48,395.19L174.63,397.01L174.63,393.36Z" fill="#ff8c00"/>
<path d="M180.12,397.50L183.27,399.33L183.27,395.68Z" fill="#ff8c00"/>
<path d="M188.75,401.88L191.90,403.71L191.90,400.05Z" fill="#ff8c00"/>
<path d="M197.39,403.68L200.54,405.51L200.54,401.86Z" fill="#ff8c00"/>
<path d="M206.03,404.97L209.18,406.80L209.18,403.14Z" fill="#ff8c00"/>
<path d="M214.66,406.52L217.81,408.34L217.81,404.69Z" fill="#ff8c00"/>
<path d="M44.04,320.77L52.67,339.05L61.31,349.35L69.95,359.65L78.58,367.38L87.22,374.07L95.85,378.45L104.49,385.40L113.13,389.26L121.76,391.84L130.40,395.70L139.04,398.28L147.67,400.85L156.31,402.78L164.95,404.71L173.58,406.64L182.22,408.58L190.85,410.51L199.49,412.44L208.13,413.34L216.76,414.24" fill="none" stroke="#bfbf00" stroke-opacity="0.7" stroke-width="1.0" stroke-linejoin="round"/>
<path d="M46.14,320.77L42.99,322.59L42.99,318.94Z" fill="#bfbf00"/>
<path d="M54.77,339.05L51.62,340.88L51.62,337.22Z" fill="#bfbf00"/>
<path d="M63.41,349.35L60.26,351.18L60.26,347.52Z" fill="#bfbf00"/>
<path d="M72.05,359.65L68.90,361.48L68.90,357.82Z" fill="#bfbf00"/>
<path d="M80.68,367.38L77.53,369.20L77.53,365.55Z" fill="#bfbf00"/>
<path d="M89.32,374.07L86.17,375.90L86.17,372.24Z" fill="#bfbf00"/>
<path d="M97.95,378.45L94.80,380.27L94.80,376.62Z" fill="#bfbf00"/>
<path d="M106.59,385.40L103.44,387.23L103.44,383.57Z" fill="#bfbf00"/>
<path d="M115.23,389.26L112.08,391.09L112.08,387.44Z" fill="#bfbf00"/>
<path d="M123.86,391.84L120.71,393.66L120.71,390.01Z" fill="#bfbf00"/>
<path d="M132.50,395.70L129.35,397.53L129.35,393.87Z" fill="#bfbf00"/>
<path d="M141.14,398.28L137.99,400.10L137.99,396.45Z" fill="#bfbf00"/>
<path d="M149.77,400.85L146.62,402.68L146.62,399.02Z" fill="#bfbf00"/>
<path d="M158.41,402.78L155.26,404.61L155.26,400.95Z" fill="#bfbf00"/>
<path d="M167.05,404.71L163.90,406.54L163.90,402.89Z" fill="#bfbf00"/>
<path d="M175.68,406.64L172.53,408.47L172.53,404.82Z" fill="#bfbf00"/>
<path d="M184.32,408.58L181.17,410.40L181.17,406.75Z" fill="#bfbf00"/>
<path d="M192.95,410.51L189.80,412.33L189.80,408.68Z" fill="#bfbf00"/>
<path d="M201.59,412.44L198.44,414.26L198.44,410.61Z" fill="#bfbf00"/>
<path d="M210.23,413.34L207.08,415.17L207.08,411.51Z" fill="#bfbf00"/>
<path d="M218.86,414.24L215.71,416.07L215.71,412.41Z" fill="#bfbf00"/>
<path d="M44.04,320.77L52.67,351.67L61.31,357.08L69.95,369.95L78.58,377.68L87.22,382.83L95.85,386.69L104.49,390.55L113.13,393.12L121.76,396.99L130.40,399.56L139.04,402.14L147.67,404.71L156.31,406.64L164.95,408.58L173.58,410.51L182.22,412.44L190.85,413.73L199.49,415.01L208.13,416.30L216.76,417.59" fill="none" stroke="#008000" stroke-opacity="0.8" stroke-width="1.0" stroke-linejoin="round"/>
<path d="M44.04,318.67L45.86,321.82L42.21,321.82Z" fill="#008000"/>
<path d="M52.67,349.57L54.50,352.72L50.85,352.72Z" fill="#008000"/>
<path d="M61.31,354.98L63.14,358.13L59.48,358.13Z" fill="#008000"/>
<path d="M69.95,367.85L71.77,371.00L68.12,371.00Z" fill="#008000"/>
<path d="M78.58,375.57L80.41,378.73L76.75,378.73Z" fill="#008000"/>
<path d="M87.22,380.73L89.05,383.88L85.39,383.88Z" fill="#008000"/>
<path d="M95.85,384.59L97.68,387.74L94.03,387.74Z" fill="#008000"/>
<path d="M104.49,388.45L106.32,391.60L102.66,391.60Z" fill="#008000"/>
<path d="M113.13,391.02L114.95,394.18L111.30,394.18Z" fill="#008000"/>
<path d="M121.76,394.89L123.59,398.04L119.94,398.04Z" fill="#008000"/>
<path d="M130.40,397.46L132.23,400.61L128.57,400.61Z" fill="#008000"/>
<path d="M139.04,400.04L140.86,403.19L137.21,403.19Z" fill="#008000"/>
<path d="M147.67,402.61L149.50,405.76L145.85,405.76Z" fill="#008000"/>
<path d="M156.31,404.54L158.14,407.69L154.48,407.69Z" fill="#008000"/>
<path d="M164.95,406.48L166.77,409.63L163.12,409.63Z" fill="#008000"/>
<path d="M173.58,408.41L175.41,411.56L171.75,411.56Z" fill="#008000"/>
<path d="M182.22,410.34L184.05,413.49L180.39,413.49Z" fill="#008000"/>
<path d="M190.85,411.62L192.68,414.78L189.03,414.78Z" fill="#008000"/>
<path d="M199.49,412.91L201.32,416.06L197.66,416.06Z" fill="#008000"/>
<path d="M208.13,414.20L209.95,417.35L206.30,417.35Z" fill="#008000"/>
<path d="M216.76,415.49L218.59,418.64L214.94,418.64Z" fill="#008000"/>
<path d="M44.04,320.77L52.67,341.63L61.31,348.32L69.95,364.03L78.58,372.27L87.22,378.96L95.85,383.60L104.49,387.46L113.13,389.26L121.76,391.84L130.40,394.16L139.04,397.50L147.67,398.53L156.31,400.85L164.95,403.17L173.58,404.20L182.22,405.23L190.85,407.55L199.49,409.09L208.13,410.38L216.76,412.18" fill="none" stroke="#a0522d" stroke-opacity="0.6" stroke-width="1.0" stroke-linejoin="round"/>
<circle cx="44.04" cy="320.77" r="1.35" fill="#a0522d"/>
<circle cx="52.67" cy="341.63" r="1.35" fill="#a0522d"/>
<circle cx="61.31" cy="348.32" r="1.35" fill="#a0522d"/>
<circle cx="69.95" cy="364.03" r="1.35" fill="#a0522d"/>
<circle cx="78.58" cy="372.27" r="1.35" fill="#a0522d"/>
<circle cx="87.22" cy="378.96" r="1.35" fill="#a0522d"/>
<circle cx="95.85" cy="383.60" r="1.35" fill="#a0522d"/>
<circle cx="104.49" cy="387.46" r="1.35" fill="#a0522d"/>
<circle cx="113.13" cy="389.26" r="1.35" fill="#a0522d"/>
<circle cx="121.76" cy="391.84" r="1.35" fill="#a0522d"/>
<circle cx="130.40" cy="394.16" r="1.35" fill="#a0522d"/>
<circle cx="139.04" cy="397.50" r="1.35" fill="#a0522d"/>
<circle cx="147.67" cy="398.53" r="1.35" fill="#a0522d"/>
<circle cx="156.31" cy="400.85" r="1.35" fill="#a0522d"/>
<circle cx="164.95" cy="403.17" r="1.35" fill="#a0522d"/>
<circle cx="173.58" cy="404.20" r="1.35" fill="#a0522d"/>
<circle cx="182.22" cy="405.23" r="1.35" fill="#a0522d"/>
<circle cx="190.85" cy="407.55" r="1.35" fill="#a0522d"/>
<circle cx="199.49" cy="409.09" r="1.35" fill="#a0522d"/>
<circle cx="208.13" cy="410.38" r="1.35" fill="#a0522d"/>
<circle cx="216.76" cy="412.18" r="1.35" fill="#a0522d"/>
<path d="M44.04,320.77L52.67,327.46L61.31,328.24L69.95,322.83L78.58,324.63L87.22,326.43L95.85,331.84L104.49,340.08L113.13,346.78L121.76,353.99L130.40,358.88L139.04,364.03L147.67,371.24L156.31,377.42L164.95,381.28L173.58,384.63L182.22,386.95L190.85,390.04L199.49,391.58L208.13,392.35L216.76,393.12" fill="none" stroke="#ee82ee" stroke-opacity="0.85" stroke-width="1.0" stroke-linejoin="round"/>
<path d="M42.64,320.77H45.44M44.04,319.37V322.17" stroke="#ee82ee" stroke-width="1.2"/>
<path d="M51.27,327.46H54.07M52.67,326.06V328.86" stroke="#ee82ee" stroke-width="1.2"/>
<path d="M59.91,328.24H62.71M61.31,326.84V329.63" stroke="#ee82ee" stroke-width="1.2"/>
<path d="M68.55,322.83H71.35M69.95,321.43V324.23" stroke="#ee82ee" stroke-width="1.2"/>
<path d="M77.18,324.63H79.98M78.58,323.23V326.03" stroke="#ee82ee" stroke-width="1.2"/>
<path d="M85.82,326.43H88.62M87.22,325.03V327.83" stroke="#ee82ee" stroke-width="1.2"/>
<path d="M94.45,331.84H97.25M95.85,330.44V333.24" stroke="#ee82ee" stroke-width="1.2"/>
<path d="M103.09,340.08H105.89M104.49,338.68V341.48" stroke="#ee82ee" stroke-width="1.2"/>
<path d="M111.73,346.78H114.53M113.13,345.38V348.18" stroke="#ee82ee" stroke-width="1.2"/>
<path d="M120.36,353.99H123.16M121.76,352.59V355.38" stroke="#ee82ee" stroke-width="1.2"/>
<path d="M129.00,358.88H131.80M130.40,357.48V360.28" stroke="#ee82ee" stroke-width="1.2"/>
<path d="M137.64,364.03H140.44M139.04,362.63V365.43" stroke="#ee82ee" stroke-width="1.2"/>
<path d="M146.27,371.24H149.07M147.67,369.84V372.64" stroke="#ee82ee" stroke-width="1.2"/>
<path d="M154.91,377.42H157.71M156.31,376.02V378.82" stroke="#ee82ee" stroke-width="1.2"/>
<path d="M163.55,381.28H166.35M164.95,379.88V382.68" stroke="#ee82ee" stroke-width="1.2"/>
<path d="M172.18,384.63H174.98M173.58,383.23V386.03" stroke="#ee82ee" stroke-width="1.2"/>
<path d="M180.82,386.95H183.62M182.22,385.55V388.35" stroke="#ee82ee" stroke-width="1.2"/>
<path d="M189.45,390.04H192.25M190.85,388.64V391.44" stroke="#ee82ee" stroke-width="1.2"/>
<path d="M198.09,391.58H200.89M199.49,390.18V392.98" stroke="#ee82ee" stroke-width="1.2"/>
<path d="M206.73,392.35H209.53M208.13,390.95V393.75" stroke="#ee82ee" stroke-width="1.2"/>
<path d="M215.36,393.12H218.16M216.76,391.73V394.52" stroke="#ee82ee" stroke-width="1.2"/>
<path d="M44.04,320.77L52.67,326.43L61.31,325.92L69.95,323.60L78.58,325.15L87.22,329.78L95.85,335.45L104.49,343.17L113.13,346.00L121.76,355.02L130.40,360.17L139.04,365.57L147.67,371.75L156.31,376.65L164.95,380.25L173.58,383.08L182.22,384.63L190.85,389.26L199.49,390.81L208.13,391.84L216.76,392.35" fill="none" stroke="#808080" stroke-opacity="0.65" stroke-width="1.0" stroke-linejoin="round"/>
<path d="M42.54,319.27L45.54,322.27M42.54,322.27L45.54,319.27" stroke="#505050" stroke-width="0.8"/>
<path d="M51.17,324.93L54.17,327.93M51.17,327.93L54.17,324.93" stroke="#505050" stroke-width="0.8"/>
<path d="M59.81,324.42L62.81,327.42M59.81,327.42L62.81,324.42" stroke="#505050" stroke-width="0.8"/>
<path d="M68.45,322.10L71.45,325.10M68.45,325.10L71.45,322.10" stroke="#505050" stroke-width="0.8"/>
<path d="M77.08,323.65L80.08,326.65M77.08,326.65L80.08,323.65" stroke="#505050" stroke-width="0.8"/>
<path d="M85.72,328.28L88.72,331.28M85.72,331.28L88.72,328.28" stroke="#505050" stroke-width="0.8"/>
<path d="M94.35,333.95L97.35,336.95M94.35,336.95L97.35,333.95" stroke="#505050" stroke-width="0.8"/>
<path d="M102.99,341.67L105.99,344.67M102.99,344.67L105.99,341.67" stroke="#505050" stroke-width="0.8"/>
<path d="M111.63,344.50L114.63,347.50M111.63,347.50L114.63,344.50" stroke="#505050" stroke-width="0.8"/>
<path d="M120.26,353.52L123.26,356.52M120.26,356.52L123.26,353.52" stroke="#505050" stroke-width="0.8"/>
<path d="M128.90,358.67L131.90,361.67M128.90,361.67L131.90,358.67" stroke="#505050" stroke-width="0.8"/>
<path d="M137.54,364.07L140.54,367.07M137.54,367.07L140.54,364.07" stroke="#505050" stroke-width="0.8"/>
<path d="M146.17,370.25L149.17,373.25M146.17,373.25L149.17,370.25" stroke="#505050" stroke-width="0.8"/>
<path d="M154.81,375.15L157.81,378.15M154.81,378.15L157.81,375.15" stroke="#505050" stroke-width="0.8"/>
<path d="M163.45,378.75L166.45,381.75M163.45,381.75L166.45,378.75" stroke="#505050" stroke-width="0.8"/>
<path d="M172.08,381.58L175.08,384.58M172.08,384.58L175.08,381.58" stroke="#505050" stroke-width="0.8"/>
<path d="M180.72,383.13L183.72,386.13M180.72,386.13L183.72,383.13" stroke="#505050" stroke-width="0.8"/>
<path d="M189.35,387.76L192.35,390.76M189.35,390.76L192.35,387.76" stroke="#505050" stroke-width="0.8"/>
<path d="M197.99,389.31L200.99,392.31M197.99,392.31L200.99,389.31" stroke="#505050" stroke-width="0.8"/>
<path d="M206.63,390.34L209.63,393.34M206.63,393.34L209.63,390.34" stroke="#505050" stroke-width="0.8"/>
<path d="M215.26,390.85L218.26,393.85M215.26,393.85L218.26,390.85" stroke="#505050" stroke-width="0.8"/>
<path d="M44.04,320.77L52.67,344.20L61.31,357.08L69.95,369.95L78.58,380.25L87.22,385.40L95.85,389.26L104.49,392.61L113.13,395.70L121.76,398.28L130.40,400.85L139.04,402.78L147.67,404.71L156.31,406.64L164.95,408.58L173.58,409.86L182.22,411.15L190.85,412.18L199.49,413.21L208.13,413.98L216.76,414.75" fill="none" stroke="#c000c0" stroke-opacity="0.85" stroke-width="1.0" stroke-linejoin="round"/>
<path d="M44.04,318.37L45.64,320.77L44.04,323.17L42.44,320.77Z" fill="#c000c0"/>
<path d="M52.67,341.80L54.27,344.20L52.67,346.60L51.07,344.20Z" fill="#c000c0"/>
<path d="M61.31,354.68L62.91,357.08L61.31,359.48L59.71,357.08Z" fill="#c000c0"/>
<path d="M69.95,367.55L71.55,369.95L69.95,372.35L68.35,369.95Z" fill="#c000c0"/>
<path d="M78.58,377.85L80.18,380.25L78.58,382.65L76.98,380.25Z" fill="#c000c0"/>
<path d="M87.22,383.00L88.82,385.40L87.22,387.80L85.62,385.40Z" fill="#c000c0"/>
<path d="M95.85,386.86L97.45,389.26L95.85,391.66L94.25,389.26Z" fill="#c000c0"/>
<path d="M104.49,390.21L106.09,392.61L104.49,395.01L102.89,392.61Z" fill="#c000c0"/>
<path d="M113.13,393.30L114.73,395.70L113.13,398.10L111.53,395.70Z" fill="#c000c0"/>
<path d="M121.76,395.88L123.36,398.28L121.76,400.68L120.16,398.28Z" fill="#c000c0"/>
<path d="M130.40,398.45L132.00,400.85L130.40,403.25L128.80,400.85Z" fill="#c000c0"/>
<path d="M139.04,400.38L140.64,402.78L139.04,405.18L137.44,402.78Z" fill="#c000c0"/>
<path d="M147.67,402.31L149.27,404.71L147.67,407.11L146.07,404.71Z" fill="#c000c0"/>
<path d="M156.31,404.24L157.91,406.64L156.31,409.04L154.71,406.64Z" fill="#c000c0"/>
<path d="M164.95,406.18L166.55,408.58L164.95,410.98L163.35,408.58Z" fill="#c000c0"/>
<path d="M173.58,407.46L175.18,409.86L173.58,412.26L171.98,409.86Z" fill="#c000c0"/>
<path d="M182.22,408.75L183.82,411.15L182.22,413.55L180.62,411.15Z" fill="#c000c0"/>
<path d="M190.85,409.78L192.45,412.18L190.85,414.58L189.25,412.18Z" fill="#c000c0"/>
<path d="M199.49,410.81L201.09,413.21L199.49,415.61L197.89,413.21Z" fill="#c000c0"/>
<path d="M208.13,411.58L209.73,413.98L208.13,416.38L206.53,413.98Z" fill="#c000c0"/>
<path d="M216.76,412.36L218.36,414.75L216.76,417.15L215.16,414.75Z" fill="#c000c0"/>
<path d="M44.04,320.77L52.67,344.20L61.31,359.65L69.95,369.95L78.58,377.68L87.22,382.83L95.85,384.88L104.49,385.14L113.13,386.43L121.76,389.78L130.40,390.04L139.04,391.58L147.67,393.64L156.31,393.12L164.95,393.64L173.58,397.50L182.22,398.28L190.85,399.05L199.49,401.37L208.13,403.68L216.76,404.20" fill="none" stroke="#4169e1" stroke-opacity="0.55" stroke-width="1.0" stroke-linejoin="round"/>
<rect x="42.44" y="319.17" width="3.20" height="3.20" fill="#4169e1"/>
<rect x="51.07" y="342.60" width="3.20" height="3.20" fill="#4169e1"/>
<rect x="59.71" y="358.05" width="3.20" height="3.20" fill="#4169e1"/>
<rect x="68.35" y="368.35" width="3.20" height="3.20" fill="#4169e1"/>
<rect x="76.98" y="376.07" width="3.20" height="3.20" fill="#4169e1"/>
<rect x="85.62" y="381.23" width="3.20" height="3.20" fill="#4169e1"/>
<rect x="94.25" y="383.28" width="3.20" height="3.20" fill="#4169e1"/>
<rect x="102.89" y="383.54" width="3.20" height="3.20" fill="#4169e1"/>
<rect x="111.53" y="384.83" width="3.20" height="3.20" fill="#4169e1"/>
<rect x="120.16" y="388.18" width="3.20" height="3.20" fill="#4169e1"/>
<rect x="128.80" y="388.44" width="3.20" height="3.20" fill="#4169e1"/>
<rect x="137.44" y="389.98" width="3.20" height="3.20" fill="#4169e1"/>
<rect x="146.07" y="392.04" width="3.20" height="3.20" fill="#4169e1"/>
<rect x="154.71" y="391.52" width="3.20" height="3.20" fill="#4169e1"/>
<rect x="163.35" y="392.04" width="3.20" height="3.20" fill="#4169e1"/>
<rect x="171.98" y="395.90" width="3.20" height="3.20" fill="#4169e1"/>
<rect x="180.62" y="396.68" width="3.20" height="3.20" fill="#4169e1"/>
<rect x="189.25" y="397.45" width="3.20" height="3.20" fill="#4169e1"/>
<rect x="197.89" y="399.76" width="3.20" height="3.20" fill="#4169e1"/>
<rect x="206.53" y="402.08" width="3.20" height="3.20" fill="#4169e1"/>
<rect x="215.16" y="402.60" width="3.20" height="3.20" fill="#4169e1"/>
<path d="M44.04,320.77L52.67,337.76L61.31,350.64L69.95,358.88L78.58,365.57L87.22,370.72L95.85,373.04L104.49,375.87L113.13,378.96L121.76,381.28L130.40,384.11L139.04,384.63L147.67,386.95L156.31,386.43L164.95,387.46L173.58,390.04L182.22,391.58L190.85,393.64L199.49,394.67L208.13,395.19L216.76,397.50" fill="none" stroke="#663399" stroke-opacity="0.9" stroke-width="1.0" stroke-linejoin="round"/>
<circle cx="44.04" cy="320.77" r="1.75" fill="#551a8b"/>
<circle cx="52.67" cy="337.76" r="1.75" fill="#551a8b"/>
<circle cx="61.31" cy="350.64" r="1.75" fill="#551a8b"/>
<circle cx="69.95" cy="358.88" r="1.75" fill="#551a8b"/>
<circle cx="78.58" cy="365.57" r="1.75" fill="#551a8b"/>
<circle cx="87.22" cy="370.72" r="1.75" fill="#551a8b"/>
<circle cx="95.85" cy="373.04" r="1.75" fill="#551a8b"/>
<circle cx="104.49" cy="375.87" r="1.75" fill="#551a8b"/>
<circle cx="113.13" cy="378.96" r="1.75" fill="#551a8b"/>
<circle cx="121.76" cy="381.28" r="1.75" fill="#551a8b"/>
<circle cx="130.40" cy="384.11" r="1.75" fill="#551a8b"/>
<circle cx="139.04" cy="384.63" r="1.75" fill="#551a8b"/>
<circle cx="147.67" cy="386.95" r="1.75" fill="#551a8b"/>
<circle cx="156.31" cy="386.43" r="1.75" fill="#551a8b"/>
<circle cx="164.95" cy="387.46" r="1.75" fill="#551a8b"/>
<circle cx="173.58" cy="390.04" r="1.75" fill="#551a8b"/>
<circle cx="182.22" cy="391.58" r="1.75" fill="#551a8b"/>
<circle cx="190.85" cy="393.64" r="1.75" fill="#551a8b"/>
<circle cx="199.49" cy="394.67" r="1.75" fill="#551a8b"/>
<circle cx="208.13" cy="395.19" r="1.75" fill="#551a8b"/>
<circle cx="216.76" cy="397.50" r="1.75" fill="#551a8b"/>
<path d="M44.04,320.77L52.67,341.63L61.31,357.08L69.95,369.95L78.58,378.96L87.22,384.11L95.85,387.98L104.49,390.55L113.13,394.41L121.76,398.28L130.40,400.85L139.04,403.17L147.67,405.74L156.31,407.29L164.95,408.83L173.58,410.51L182.22,412.18L190.85,413.60L199.49,415.01L208.13,416.56L216.76,416.56" fill="none" stroke="#20b2aa" stroke-opacity="0.6" stroke-width="1.0" stroke-linejoin="round"/>
<path d="M44.04,322.97L45.95,319.67L42.12,319.67Z" fill="#20b8b8"/>
<path d="M52.67,343.83L54.59,340.53L50.76,340.53Z" fill="#20b8b8"/>
<path d="M61.31,359.28L63.22,355.98L59.40,355.98Z" fill="#20b8b8"/>
<path d="M69.95,372.15L71.86,368.85L68.03,368.85Z" fill="#20b8b8"/>
<path d="M78.58,381.16L80.50,377.86L76.67,377.86Z" fill="#20b8b8"/>
<path d="M87.22,386.31L89.13,383.01L85.30,383.01Z" fill="#20b8b8"/>
<path d="M95.85,390.18L97.77,386.88L93.94,386.88Z" fill="#20b8b8"/>
<path d="M104.49,392.75L106.40,389.45L102.58,389.45Z" fill="#20b8b8"/>
<path d="M113.13,396.61L115.04,393.31L111.21,393.31Z" fill="#20b8b8"/>
<path d="M121.76,400.48L123.68,397.18L119.85,397.18Z" fill="#20b8b8"/>
<path d="M130.40,403.05L132.31,399.75L128.49,399.75Z" fill="#20b8b8"/>
<path d="M139.04,405.37L140.95,402.07L137.12,402.07Z" fill="#20b8b8"/>
<path d="M147.67,407.94L149.59,404.64L145.76,404.64Z" fill="#20b8b8"/>
<path d="M156.31,409.49L158.22,406.19L154.40,406.19Z" fill="#20b8b8"/>
<path d="M164.95,411.03L166.86,407.73L163.03,407.73Z" fill="#20b8b8"/>
<path d="M173.58,412.71L175.50,409.41L171.67,409.41Z" fill="#20b8b8"/>
<path d="M182.22,414.38L184.13,411.08L180.30,411.08Z" fill="#20b8b8"/>
<path d="M190.85,415.80L192.77,412.50L188.94,412.50Z" fill="#20b8b8"/>
<path d="M199.49,417.21L201.40,413.91L197.58,413.91Z" fill="#20b8b8"/>
<path d="M208.13,418.76L210.04,415.46L206.21,415.46Z" fill="#20b8b8"/>
<path d="M216.76,418.76L218.68,415.46L214.85,415.46Z" fill="#20b8b8"/>
<path d="M44.04,320.77L52.67,357.85L61.31,365.57L69.95,375.10L78.58,385.14L87.22,395.44L95.85,399.82L104.49,402.65L113.13,406.52L121.76,410.38L130.40,412.18L139.04,413.98L147.67,416.04L156.31,418.36L164.95,419.13L173.58,420.68L182.22,421.45L190.85,423.77L199.49,425.06L208.13,425.83L216.76,426.60" fill="none" stroke="#ff0000" stroke-opacity="0.85" stroke-width="1.0" stroke-linejoin="round"/>
<circle cx="44.04" cy="320.77" r="1.80" fill="#ff0000"/>
<circle cx="52.67" cy="357.85" r="1.80" fill="#ff0000"/>
<circle cx="61.31" cy="365.57" r="1.80" fill="#ff0000"/>
<circle cx="69.95" cy="375.10" r="1.80" fill="#ff0000"/>
<circle cx="78.58" cy="385.14" r="1.80" fill="#ff0000"/>
<circle cx="87.22" cy="395.44" r="1.80" fill="#ff0000"/>
<circle cx="95.85" cy="399.82" r="1.80" fill="#ff0000"/>
<circle cx="104.49" cy="402.65" r="1.80" fill="#ff0000"/>
<circle cx="113.13" cy="406.52" r="1.80" fill="#ff0000"/>
<circle cx="121.76" cy="410.38" r="1.80" fill="#ff0000"/>
<circle cx="130.40" cy="412.18" r="1.80" fill="#ff0000"/>
<circle cx="139.04" cy="413.98" r="1.80" fill="#ff0000"/>
<circle cx="147.67" cy="416.04" r="1.80" fill="#ff0000"/>
<circle cx="156.31" cy="418.36" r="1.80" fill="#ff0000"/>
<circle cx="164.95" cy="419.13" r="1.80" fill="#ff0000"/>
<circle cx="173.58" cy="420.68" r="1.80" fill="#ff0000"/>
<circle cx="182.22" cy="421.45" r="1.80" fill="#ff0000"/>
<circle cx="190.85" cy="423.77" r="1.80" fill="#ff0000"/>
<circle cx="199.49" cy="425.06" r="1.80" fill="#ff0000"/>
<circle cx="208.13" cy="425.83" r="1.80" fill="#ff0000"/>
<circle cx="216.76" cy="426.60" r="1.80" fill="#ff0000"/>
</g>
<rect x="35.4" y="318.3" width="190.00" height="110.70" fill="none" stroke="#444" stroke-width="0.9"/>
<line x1="44.04" y1="429.0" x2="44.04" y2="431.5" stroke="#333" stroke-width="0.9"/>
<text x="42.10" y="438.40" textLength="3.88" lengthAdjust="spacingAndGlyphs" class="tk">0</text>
<line x1="78.58" y1="429.0" x2="78.58" y2="431.5" stroke="#333" stroke-width="0.9"/>
<text x="74.70" y="438.40" textLength="7.76" lengthAdjust="spacingAndGlyphs" class="tk">20</text>
<line x1="113.13" y1="429.0" x2="113.13" y2="431.5" stroke="#333" stroke-width="0.9"/>
<text x="109.25" y="438.40" textLength="7.76" lengthAdjust="spacingAndGlyphs" class="tk">40</text>
<line x1="147.67" y1="429.0" x2="147.67" y2="431.5" stroke="#333" stroke-width="0.9"/>
<text x="143.79" y="438.40" textLength="7.76" lengthAdjust="spacingAndGlyphs" class="tk">60</text>
<line x1="182.22" y1="429.0" x2="182.22" y2="431.5" stroke="#333" stroke-width="0.9"/>
<text x="178.34" y="438.40" textLength="7.76" lengthAdjust="spacingAndGlyphs" class="tk">80</text>
<line x1="216.76" y1="429.0" x2="216.76" y2="431.5" stroke="#333" stroke-width="0.9"/>
<text x="210.94" y="438.40" textLength="11.64" lengthAdjust="spacingAndGlyphs" class="tk">100</text>
<line x1="32.9" y1="426.60" x2="35.4" y2="426.60" stroke="#333" stroke-width="0.9"/>
<text x="20.40" y="428.80" textLength="9.70" lengthAdjust="spacingAndGlyphs" class="tk">0.5</text>
<line x1="32.9" y1="400.85" x2="35.4" y2="400.85" stroke="#333" stroke-width="0.9"/>
<text x="20.40" y="403.05" textLength="9.70" lengthAdjust="spacingAndGlyphs" class="tk">0.6</text>
<line x1="32.9" y1="375.10" x2="35.4" y2="375.10" stroke="#333" stroke-width="0.9"/>
<text x="20.40" y="377.30" textLength="9.70" lengthAdjust="spacingAndGlyphs" class="tk">0.7</text>
<line x1="32.9" y1="349.35" x2="35.4" y2="349.35" stroke="#333" stroke-width="0.9"/>
<text x="20.40" y="351.55" textLength="9.70" lengthAdjust="spacingAndGlyphs" class="tk">0.8</text>
<line x1="32.9" y1="323.60" x2="35.4" y2="323.60" stroke="#333" stroke-width="0.9"/>
<text x="20.40" y="325.80" textLength="9.70" lengthAdjust="spacingAndGlyphs" class="tk">0.9</text>
<text x="130.40" y="314.70" text-anchor="middle" class="sf">Computer</text>
<text x="130.40" y="449.40" text-anchor="middle" class="sf">Number of queries</text>
<text transform="translate(16.10,373.65) rotate(-90)" x="0" y="0" text-anchor="middle" class="sf">MAE</text>
<defs><clipPath id="c7"><rect x="262.6" y="318.3" width="190.59999999999997" height="110.69999999999999"/></clipPath></defs>
<line x1="271.26" y1="318.3" x2="271.26" y2="429.0" stroke="#b0b0b0" stroke-opacity="0.62" stroke-width="1"/>
<line x1="296.02" y1="318.3" x2="296.02" y2="429.0" stroke="#b0b0b0" stroke-opacity="0.62" stroke-width="1"/>
<line x1="320.77" y1="318.3" x2="320.77" y2="429.0" stroke="#b0b0b0" stroke-opacity="0.62" stroke-width="1"/>
<line x1="345.52" y1="318.3" x2="345.52" y2="429.0" stroke="#b0b0b0" stroke-opacity="0.62" stroke-width="1"/>
<line x1="370.28" y1="318.3" x2="370.28" y2="429.0" stroke="#b0b0b0" stroke-opacity="0.62" stroke-width="1"/>
<line x1="395.03" y1="318.3" x2="395.03" y2="429.0" stroke="#b0b0b0" stroke-opacity="0.62" stroke-width="1"/>
<line x1="419.78" y1="318.3" x2="419.78" y2="429.0" stroke="#b0b0b0" stroke-opacity="0.62" stroke-width="1"/>
<line x1="444.54" y1="318.3" x2="444.54" y2="429.0" stroke="#b0b0b0" stroke-opacity="0.62" stroke-width="1"/>
<line x1="262.6" y1="422.60" x2="453.2" y2="422.60" stroke="#b0b0b0" stroke-opacity="0.62" stroke-width="1"/>
<line x1="262.6" y1="398.35" x2="453.2" y2="398.35" stroke="#b0b0b0" stroke-opacity="0.62" stroke-width="1"/>
<line x1="262.6" y1="374.10" x2="453.2" y2="374.10" stroke="#b0b0b0" stroke-opacity="0.62" stroke-width="1"/>
<line x1="262.6" y1="349.85" x2="453.2" y2="349.85" stroke="#b0b0b0" stroke-opacity="0.62" stroke-width="1"/>
<line x1="262.6" y1="325.60" x2="453.2" y2="325.60" stroke="#b0b0b0" stroke-opacity="0.62" stroke-width="1"/>
<g clip-path="url(#c7)">
<path d="M271.26,323.66L279.93,335.30L288.59,349.85L297.25,359.55L305.92,366.83L314.58,374.10L323.25,380.16L331.91,385.01L340.57,388.65L349.24,392.29L357.90,395.93L366.56,398.65L375.23,401.38L383.89,403.50L392.55,405.62L401.22,408.05L409.88,410.48L418.55,412.60L427.21,414.72L435.87,416.23L444.54,417.75" fill="none" stroke="#0000ff" stroke-opacity="0.55" stroke-width="1.0" stroke-linejoin="round"/>
<circle cx="271.26" cy="323.66" r="1.05" fill="#0000ff"/>
<circle cx="279.93" cy="335.30" r="1.05" fill="#0000ff"/>
<circle cx="288.59" cy="349.85" r="1.05" fill="#0000ff"/>
<circle cx="297.25" cy="359.55" r="1.05" fill="#0000ff"/>
<circle cx="305.92" cy="366.83" r="1.05" fill="#0000ff"/>
<circle cx="314.58" cy="374.10" r="1.05" fill="#0000ff"/>
<circle cx="323.25" cy="380.16" r="1.05" fill="#0000ff"/>
<circle cx="331.91" cy="385.01" r="1.05" fill="#0000ff"/>
<circle cx="340.57" cy="388.65" r="1.05" fill="#0000ff"/>
<circle cx="349.24" cy="392.29" r="1.05" fill="#0000ff"/>
<circle cx="357.90" cy="395.93" r="1.05" fill="#0000ff"/>
<circle cx="366.56" cy="398.65" r="1.05" fill="#0000ff"/>
<circle cx="375.23" cy="401.38" r="1.05" fill="#0000ff"/>
<circle cx="383.89" cy="403.50" r="1.05" fill="#0000ff"/>
<circle cx="392.55" cy="405.62" r="1.05" fill="#0000ff"/>
<circle cx="401.22" cy="408.05" r="1.05" fill="#0000ff"/>
<circle cx="409.88" cy="410.48" r="1.05" fill="#0000ff"/>
<circle cx="418.55" cy="412.60" r="1.05" fill="#0000ff"/>
<circle cx="427.21" cy="414.72" r="1.05" fill="#0000ff"/>
<circle cx="435.87" cy="416.23" r="1.05" fill="#0000ff"/>
<circle cx="444.54" cy="417.75" r="1.05" fill="#0000ff"/>
<path d="M271.26,323.66L279.93,335.30L288.59,349.85L297.25,360.16L305.92,369.13L314.58,375.31L323.25,380.77L331.91,386.23L340.57,391.08L349.24,395.32L357.90,398.35L366.56,401.08L375.23,403.81L383.89,406.23L392.55,408.66L401.22,410.78L409.88,412.90L418.55,414.72L427.21,416.54L435.87,418.36L444.54,420.18" fill="none" stroke="#ff8c00" stroke-opacity="0.85" stroke-width="1.0" stroke-linejoin="round"/>
<path d="M269.16,323.66L272.31,325.49L272.31,321.83Z" fill="#ff8c00"/>
<path d="M277.83,335.30L280.98,337.13L280.98,333.47Z" fill="#ff8c00"/>
<path d="M286.49,349.85L289.64,351.68L289.64,348.02Z" fill="#ff8c00"/>
<path d="M295.15,360.16L298.30,361.98L298.30,358.33Z" fill="#ff8c00"/>
<path d="M303.82,369.13L306.97,370.96L306.97,367.30Z" fill="#ff8c00"/>
<path d="M312.48,375.31L315.63,377.14L315.63,373.49Z" fill="#ff8c00"/>
<path d="M321.15,380.77L324.30,382.60L324.30,378.94Z" fill="#ff8c00"/>
<path d="M329.81,386.23L332.96,388.05L332.96,384.40Z" fill="#ff8c00"/>
<path d="M338.47,391.08L341.62,392.90L341.62,389.25Z" fill="#ff8c00"/>
<path d="M347.14,395.32L350.29,397.15L350.29,393.49Z" fill="#ff8c00"/>
<path d="M355.80,398.35L358.95,400.18L358.95,396.52Z" fill="#ff8c00"/>
<path d="M364.46,401.08L367.61,402.91L367.61,399.25Z" fill="#ff8c00"/>
<path d="M373.13,403.81L376.28,405.63L376.28,401.98Z" fill="#ff8c00"/>
<path d="M381.79,406.23L384.94,408.06L384.94,404.40Z" fill="#ff8c00"/>
<path d="M390.45,408.66L393.60,410.48L393.60,406.83Z" fill="#ff8c00"/>
<path d="M399.12,410.78L402.27,412.61L402.27,408.95Z" fill="#ff8c00"/>
<path d="M407.78,412.90L410.93,414.73L410.93,411.07Z" fill="#ff8c00"/>
<path d="M416.45,414.72L419.60,416.55L419.60,412.89Z" fill="#ff8c00"/>
<path d="M425.11,416.54L428.26,418.36L428.26,414.71Z" fill="#ff8c00"/>
<path d="M433.77,418.36L436.92,420.18L436.92,416.53Z" fill="#ff8c00"/>
<path d="M442.44,420.18L445.59,422.00L445.59,418.35Z" fill="#ff8c00"/>
<path d="M271.26,323.66L279.93,336.51L288.59,351.06L297.25,361.98L305.92,371.68L314.58,378.95L323.25,384.41L331.91,389.26L340.57,393.50L349.24,397.14L357.90,400.17L366.56,402.90L375.23,405.62L383.89,408.05L392.55,410.48L401.22,412.60L409.88,414.72L418.55,416.54L427.21,418.36L435.87,419.87L444.54,421.39" fill="none" stroke="#bfbf00" stroke-opacity="0.7" stroke-width="1.0" stroke-linejoin="round"/>
<path d="M273.36,323.66L270.21,325.49L270.21,321.83Z" fill="#bfbf00"/>
<path d="M282.03,336.51L278.88,338.34L278.88,334.69Z" fill="#bfbf00"/>
<path d="M290.69,351.06L287.54,352.89L287.54,349.24Z" fill="#bfbf00"/>
<path d="M299.35,361.98L296.20,363.80L296.20,360.15Z" fill="#bfbf00"/>
<path d="M308.02,371.68L304.87,373.50L304.87,369.85Z" fill="#bfbf00"/>
<path d="M316.68,378.95L313.53,380.78L313.53,377.12Z" fill="#bfbf00"/>
<path d="M325.35,384.41L322.20,386.23L322.20,382.58Z" fill="#bfbf00"/>
<path d="M334.01,389.26L330.86,391.08L330.86,387.43Z" fill="#bfbf00"/>
<path d="M342.67,393.50L339.52,395.33L339.52,391.67Z" fill="#bfbf00"/>
<path d="M351.34,397.14L348.19,398.96L348.19,395.31Z" fill="#bfbf00"/>
<path d="M360.00,400.17L356.85,402.00L356.85,398.34Z" fill="#bfbf00"/>
<path d="M368.66,402.90L365.51,404.72L365.51,401.07Z" fill="#bfbf00"/>
<path d="M377.33,405.62L374.18,407.45L374.18,403.80Z" fill="#bfbf00"/>
<path d="M385.99,408.05L382.84,409.88L382.84,406.22Z" fill="#bfbf00"/>
<path d="M394.65,410.48L391.50,412.30L391.50,408.65Z" fill="#bfbf00"/>
<path d="M403.32,412.60L400.17,414.42L400.17,410.77Z" fill="#bfbf00"/>
<path d="M411.98,414.72L408.83,416.55L408.83,412.89Z" fill="#bfbf00"/>
<path d="M420.65,416.54L417.50,418.36L417.50,414.71Z" fill="#bfbf00"/>
<path d="M429.31,418.36L426.16,420.18L426.16,416.53Z" fill="#bfbf00"/>
<path d="M437.97,419.87L434.82,421.70L434.82,418.04Z" fill="#bfbf00"/>
<path d="M446.64,421.39L443.49,423.21L443.49,419.56Z" fill="#bfbf00"/>
<path d="M271.26,323.66L279.93,337.73L288.59,353.49L297.25,364.40L305.92,374.10L314.58,381.38L323.25,387.44L331.91,392.29L340.57,395.93L349.24,399.56L357.90,402.59L366.56,405.32L375.23,408.05L383.89,410.48L392.55,412.90L401.22,414.72L409.88,416.54L418.55,418.36L427.21,420.18L435.87,421.69L444.54,423.21" fill="none" stroke="#008000" stroke-opacity="0.8" stroke-width="1.0" stroke-linejoin="round"/>
<path d="M271.26,321.56L273.09,324.71L269.44,324.71Z" fill="#008000"/>
<path d="M279.93,335.62L281.75,338.78L278.10,338.78Z" fill="#008000"/>
<path d="M288.59,351.39L290.42,354.54L286.76,354.54Z" fill="#008000"/>
<path d="M297.25,362.30L299.08,365.45L295.43,365.45Z" fill="#008000"/>
<path d="M305.92,372.00L307.75,375.15L304.09,375.15Z" fill="#008000"/>
<path d="M314.58,379.27L316.41,382.43L312.75,382.43Z" fill="#008000"/>
<path d="M323.25,385.34L325.07,388.49L321.42,388.49Z" fill="#008000"/>
<path d="M331.91,390.19L333.74,393.34L330.08,393.34Z" fill="#008000"/>
<path d="M340.57,393.82L342.40,396.98L338.75,396.98Z" fill="#008000"/>
<path d="M349.24,397.46L351.06,400.61L347.41,400.61Z" fill="#008000"/>
<path d="M357.90,400.49L359.73,403.64L356.07,403.64Z" fill="#008000"/>
<path d="M366.56,403.22L368.39,406.37L364.74,406.37Z" fill="#008000"/>
<path d="M375.23,405.95L377.05,409.10L373.40,409.10Z" fill="#008000"/>
<path d="M383.89,408.38L385.72,411.53L382.06,411.53Z" fill="#008000"/>
<path d="M392.55,410.80L394.38,413.95L390.73,413.95Z" fill="#008000"/>
<path d="M401.22,412.62L403.05,415.77L399.39,415.77Z" fill="#008000"/>
<path d="M409.88,414.44L411.71,417.59L408.05,417.59Z" fill="#008000"/>
<path d="M418.55,416.26L420.37,419.41L416.72,419.41Z" fill="#008000"/>
<path d="M427.21,418.07L429.04,421.23L425.38,421.23Z" fill="#008000"/>
<path d="M435.87,419.59L437.70,422.74L434.05,422.74Z" fill="#008000"/>
<path d="M444.54,421.11L446.36,424.26L442.71,424.26Z" fill="#008000"/>
<path d="M271.26,323.66L279.93,332.88L288.59,347.43L297.25,359.55L305.92,368.04L314.58,376.77L323.25,381.86L331.91,385.74L340.57,390.23L349.24,393.74L357.90,396.41L366.56,398.90L375.23,401.38L383.89,403.50L392.55,405.62L401.22,408.05L409.88,410.48L418.55,412.60L427.21,414.72L435.87,416.84L444.54,418.96" fill="none" stroke="#a0522d" stroke-opacity="0.6" stroke-width="1.0" stroke-linejoin="round"/>
<circle cx="271.26" cy="323.66" r="1.35" fill="#a0522d"/>
<circle cx="279.93" cy="332.88" r="1.35" fill="#a0522d"/>
<circle cx="288.59" cy="347.43" r="1.35" fill="#a0522d"/>
<circle cx="297.25" cy="359.55" r="1.35" fill="#a0522d"/>
<circle cx="305.92" cy="368.04" r="1.35" fill="#a0522d"/>
<circle cx="314.58" cy="376.77" r="1.35" fill="#a0522d"/>
<circle cx="323.25" cy="381.86" r="1.35" fill="#a0522d"/>
<circle cx="331.91" cy="385.74" r="1.35" fill="#a0522d"/>
<circle cx="340.57" cy="390.23" r="1.35" fill="#a0522d"/>
<circle cx="349.24" cy="393.74" r="1.35" fill="#a0522d"/>
<circle cx="357.90" cy="396.41" r="1.35" fill="#a0522d"/>
<circle cx="366.56" cy="398.90" r="1.35" fill="#a0522d"/>
<circle cx="375.23" cy="401.38" r="1.35" fill="#a0522d"/>
<circle cx="383.89" cy="403.50" r="1.35" fill="#a0522d"/>
<circle cx="392.55" cy="405.62" r="1.35" fill="#a0522d"/>
<circle cx="401.22" cy="408.05" r="1.35" fill="#a0522d"/>
<circle cx="409.88" cy="410.48" r="1.35" fill="#a0522d"/>
<circle cx="418.55" cy="412.60" r="1.35" fill="#a0522d"/>
<circle cx="427.21" cy="414.72" r="1.35" fill="#a0522d"/>
<circle cx="435.87" cy="416.84" r="1.35" fill="#a0522d"/>
<circle cx="444.54" cy="418.96" r="1.35" fill="#a0522d"/>
<path d="M271.26,323.66L279.93,320.27L288.59,322.45L297.25,325.84L305.92,329.24L314.58,332.63L323.25,338.21L331.91,344.39L340.57,348.27L349.24,354.94L357.90,360.16L366.56,365.01L375.23,369.98L383.89,374.46L392.55,380.65L401.22,385.62L409.88,389.26L418.55,392.41L427.21,394.59L435.87,396.41L444.54,398.59" fill="none" stroke="#ee82ee" stroke-opacity="0.85" stroke-width="1.0" stroke-linejoin="round"/>
<path d="M269.86,323.66H272.66M271.26,322.26V325.06" stroke="#ee82ee" stroke-width="1.2"/>
<path d="M278.53,320.27H281.33M279.93,318.87V321.67" stroke="#ee82ee" stroke-width="1.2"/>
<path d="M287.19,322.45H289.99M288.59,321.05V323.85" stroke="#ee82ee" stroke-width="1.2"/>
<path d="M295.85,325.84H298.65M297.25,324.44V327.24" stroke="#ee82ee" stroke-width="1.2"/>
<path d="M304.52,329.24H307.32M305.92,327.84V330.64" stroke="#ee82ee" stroke-width="1.2"/>
<path d="M313.18,332.63H315.98M314.58,331.23V334.03" stroke="#ee82ee" stroke-width="1.2"/>
<path d="M321.85,338.21H324.65M323.25,336.81V339.61" stroke="#ee82ee" stroke-width="1.2"/>
<path d="M330.51,344.39H333.31M331.91,342.99V345.79" stroke="#ee82ee" stroke-width="1.2"/>
<path d="M339.17,348.27H341.97M340.57,346.87V349.67" stroke="#ee82ee" stroke-width="1.2"/>
<path d="M347.84,354.94H350.64M349.24,353.54V356.34" stroke="#ee82ee" stroke-width="1.2"/>
<path d="M356.50,360.16H359.30M357.90,358.76V361.56" stroke="#ee82ee" stroke-width="1.2"/>
<path d="M365.16,365.01H367.96M366.56,363.61V366.41" stroke="#ee82ee" stroke-width="1.2"/>
<path d="M373.83,369.98H376.63M375.23,368.58V371.38" stroke="#ee82ee" stroke-width="1.2"/>
<path d="M382.49,374.46H385.29M383.89,373.06V375.86" stroke="#ee82ee" stroke-width="1.2"/>
<path d="M391.15,380.65H393.95M392.55,379.25V382.05" stroke="#ee82ee" stroke-width="1.2"/>
<path d="M399.82,385.62H402.62M401.22,384.22V387.02" stroke="#ee82ee" stroke-width="1.2"/>
<path d="M408.48,389.26H411.28M409.88,387.86V390.66" stroke="#ee82ee" stroke-width="1.2"/>
<path d="M417.15,392.41H419.95M418.55,391.01V393.81" stroke="#ee82ee" stroke-width="1.2"/>
<path d="M425.81,394.59H428.61M427.21,393.19V395.99" stroke="#ee82ee" stroke-width="1.2"/>
<path d="M434.47,396.41H437.27M435.87,395.01V397.81" stroke="#ee82ee" stroke-width="1.2"/>
<path d="M443.14,398.59H445.94M444.54,397.19V399.99" stroke="#ee82ee" stroke-width="1.2"/>
<path d="M271.26,323.66L279.93,327.42L288.59,337.00L297.25,341.61L305.92,345.36L314.58,348.88L323.25,353.37L331.91,357.25L340.57,360.64L349.24,365.13L357.90,368.40L366.56,372.16L375.23,377.37L383.89,382.95L392.55,385.13L401.22,391.92L409.88,394.59L418.55,398.59L427.21,401.26L435.87,403.56L444.54,406.47" fill="none" stroke="#808080" stroke-opacity="0.65" stroke-width="1.0" stroke-linejoin="round"/>
<path d="M269.76,322.16L272.76,325.16M269.76,325.16L272.76,322.16" stroke="#505050" stroke-width="0.8"/>
<path d="M278.43,325.92L281.43,328.92M278.43,328.92L281.43,325.92" stroke="#505050" stroke-width="0.8"/>
<path d="M287.09,335.50L290.09,338.50M287.09,338.50L290.09,335.50" stroke="#505050" stroke-width="0.8"/>
<path d="M295.75,340.11L298.75,343.11M295.75,343.11L298.75,340.11" stroke="#505050" stroke-width="0.8"/>
<path d="M304.42,343.86L307.42,346.86M304.42,346.86L307.42,343.86" stroke="#505050" stroke-width="0.8"/>
<path d="M313.08,347.38L316.08,350.38M313.08,350.38L316.08,347.38" stroke="#505050" stroke-width="0.8"/>
<path d="M321.75,351.87L324.75,354.87M321.75,354.87L324.75,351.87" stroke="#505050" stroke-width="0.8"/>
<path d="M330.41,355.75L333.41,358.75M330.41,358.75L333.41,355.75" stroke="#505050" stroke-width="0.8"/>
<path d="M339.07,359.14L342.07,362.14M339.07,362.14L342.07,359.14" stroke="#505050" stroke-width="0.8"/>
<path d="M347.74,363.63L350.74,366.63M347.74,366.63L350.74,363.63" stroke="#505050" stroke-width="0.8"/>
<path d="M356.40,366.90L359.40,369.90M356.40,369.90L359.40,366.90" stroke="#505050" stroke-width="0.8"/>
<path d="M365.06,370.66L368.06,373.66M365.06,373.66L368.06,370.66" stroke="#505050" stroke-width="0.8"/>
<path d="M373.73,375.87L376.73,378.87M373.73,378.87L376.73,375.87" stroke="#505050" stroke-width="0.8"/>
<path d="M382.39,381.45L385.39,384.45M382.39,384.45L385.39,381.45" stroke="#505050" stroke-width="0.8"/>
<path d="M391.05,383.63L394.05,386.63M391.05,386.63L394.05,383.63" stroke="#505050" stroke-width="0.8"/>
<path d="M399.72,390.42L402.72,393.42M399.72,393.42L402.72,390.42" stroke="#505050" stroke-width="0.8"/>
<path d="M408.38,393.09L411.38,396.09M408.38,396.09L411.38,393.09" stroke="#505050" stroke-width="0.8"/>
<path d="M417.05,397.09L420.05,400.09M417.05,400.09L420.05,397.09" stroke="#505050" stroke-width="0.8"/>
<path d="M425.71,399.76L428.71,402.76M425.71,402.76L428.71,399.76" stroke="#505050" stroke-width="0.8"/>
<path d="M434.37,402.06L437.37,405.06M434.37,405.06L437.37,402.06" stroke="#505050" stroke-width="0.8"/>
<path d="M443.04,404.97L446.04,407.97M443.04,407.97L446.04,404.97" stroke="#505050" stroke-width="0.8"/>
<path d="M271.26,323.66L279.93,335.30L288.59,351.06L297.25,361.98L305.92,371.68L314.58,378.95L323.25,383.80L331.91,388.65L340.57,392.89L349.24,397.14L357.90,400.90L366.56,403.56L375.23,406.23L383.89,408.35L392.55,410.48L401.22,411.99L409.88,413.51L418.55,415.02L427.21,416.54L435.87,418.05L444.54,419.57" fill="none" stroke="#c000c0" stroke-opacity="0.85" stroke-width="1.0" stroke-linejoin="round"/>
<path d="M271.26,321.26L272.86,323.66L271.26,326.06L269.66,323.66Z" fill="#c000c0"/>
<path d="M279.93,332.90L281.53,335.30L279.93,337.70L278.33,335.30Z" fill="#c000c0"/>
<path d="M288.59,348.66L290.19,351.06L288.59,353.46L286.99,351.06Z" fill="#c000c0"/>
<path d="M297.25,359.58L298.85,361.98L297.25,364.38L295.65,361.98Z" fill="#c000c0"/>
<path d="M305.92,369.28L307.52,371.68L305.92,374.07L304.32,371.68Z" fill="#c000c0"/>
<path d="M314.58,376.55L316.18,378.95L314.58,381.35L312.98,378.95Z" fill="#c000c0"/>
<path d="M323.25,381.40L324.85,383.80L323.25,386.20L321.65,383.80Z" fill="#c000c0"/>
<path d="M331.91,386.25L333.51,388.65L331.91,391.05L330.31,388.65Z" fill="#c000c0"/>
<path d="M340.57,390.49L342.17,392.89L340.57,395.29L338.97,392.89Z" fill="#c000c0"/>
<path d="M349.24,394.74L350.84,397.14L349.24,399.54L347.64,397.14Z" fill="#c000c0"/>
<path d="M357.90,398.50L359.50,400.90L357.90,403.30L356.30,400.90Z" fill="#c000c0"/>
<path d="M366.56,401.16L368.16,403.56L366.56,405.96L364.96,403.56Z" fill="#c000c0"/>
<path d="M375.23,403.83L376.83,406.23L375.23,408.63L373.63,406.23Z" fill="#c000c0"/>
<path d="M383.89,405.95L385.49,408.35L383.89,410.75L382.29,408.35Z" fill="#c000c0"/>
<path d="M392.55,408.08L394.15,410.48L392.55,412.88L390.95,410.48Z" fill="#c000c0"/>
<path d="M401.22,409.59L402.82,411.99L401.22,414.39L399.62,411.99Z" fill="#c000c0"/>
<path d="M409.88,411.11L411.48,413.51L409.88,415.91L408.28,413.51Z" fill="#c000c0"/>
<path d="M418.55,412.62L420.15,415.02L418.55,417.42L416.95,415.02Z" fill="#c000c0"/>
<path d="M427.21,414.14L428.81,416.54L427.21,418.94L425.61,416.54Z" fill="#c000c0"/>
<path d="M435.87,415.65L437.47,418.05L435.87,420.45L434.27,418.05Z" fill="#c000c0"/>
<path d="M444.54,417.17L446.14,419.57L444.54,421.97L442.94,419.57Z" fill="#c000c0"/>
<path d="M271.26,323.66L279.93,331.66L288.59,342.21L297.25,353.49L305.92,362.82L314.58,371.80L323.25,378.10L331.91,382.59L340.57,386.35L349.24,390.23L357.90,395.32L366.56,398.59L375.23,401.99L383.89,403.08L392.55,405.38L401.22,407.08L409.88,408.66L418.55,410.23L427.21,412.54L435.87,413.87L444.54,415.45" fill="none" stroke="#4169e1" stroke-opacity="0.55" stroke-width="1.0" stroke-linejoin="round"/>
<rect x="269.66" y="322.06" width="3.20" height="3.20" fill="#4169e1"/>
<rect x="278.33" y="330.06" width="3.20" height="3.20" fill="#4169e1"/>
<rect x="286.99" y="340.61" width="3.20" height="3.20" fill="#4169e1"/>
<rect x="295.65" y="351.89" width="3.20" height="3.20" fill="#4169e1"/>
<rect x="304.32" y="361.22" width="3.20" height="3.20" fill="#4169e1"/>
<rect x="312.98" y="370.20" width="3.20" height="3.20" fill="#4169e1"/>
<rect x="321.65" y="376.50" width="3.20" height="3.20" fill="#4169e1"/>
<rect x="330.31" y="380.99" width="3.20" height="3.20" fill="#4169e1"/>
<rect x="338.97" y="384.75" width="3.20" height="3.20" fill="#4169e1"/>
<rect x="347.64" y="388.63" width="3.20" height="3.20" fill="#4169e1"/>
<rect x="356.30" y="393.72" width="3.20" height="3.20" fill="#4169e1"/>
<rect x="364.96" y="396.99" width="3.20" height="3.20" fill="#4169e1"/>
<rect x="373.63" y="400.39" width="3.20" height="3.20" fill="#4169e1"/>
<rect x="382.29" y="401.48" width="3.20" height="3.20" fill="#4169e1"/>
<rect x="390.95" y="403.78" width="3.20" height="3.20" fill="#4169e1"/>
<rect x="399.62" y="405.48" width="3.20" height="3.20" fill="#4169e1"/>
<rect x="408.28" y="407.06" width="3.20" height="3.20" fill="#4169e1"/>
<rect x="416.95" y="408.63" width="3.20" height="3.20" fill="#4169e1"/>
<rect x="425.61" y="410.94" width="3.20" height="3.20" fill="#4169e1"/>
<rect x="434.27" y="412.27" width="3.20" height="3.20" fill="#4169e1"/>
<rect x="442.94" y="413.85" width="3.20" height="3.20" fill="#4169e1"/>
<path d="M271.26,323.66L279.93,327.42L288.59,337.73L297.25,345.36L305.92,349.37L314.58,358.34L323.25,364.64L331.91,370.71L340.57,375.80L349.24,380.28L357.90,383.44L366.56,385.13L375.23,388.53L383.89,390.83L392.55,392.41L401.22,393.74L409.88,395.32L418.55,396.41L427.21,396.90L435.87,397.50L444.54,399.08" fill="none" stroke="#663399" stroke-opacity="0.9" stroke-width="1.0" stroke-linejoin="round"/>
<circle cx="271.26" cy="323.66" r="1.75" fill="#551a8b"/>
<circle cx="279.93" cy="327.42" r="1.75" fill="#551a8b"/>
<circle cx="288.59" cy="337.73" r="1.75" fill="#551a8b"/>
<circle cx="297.25" cy="345.36" r="1.75" fill="#551a8b"/>
<circle cx="305.92" cy="349.37" r="1.75" fill="#551a8b"/>
<circle cx="314.58" cy="358.34" r="1.75" fill="#551a8b"/>
<circle cx="323.25" cy="364.64" r="1.75" fill="#551a8b"/>
<circle cx="331.91" cy="370.71" r="1.75" fill="#551a8b"/>
<circle cx="340.57" cy="375.80" r="1.75" fill="#551a8b"/>
<circle cx="349.24" cy="380.28" r="1.75" fill="#551a8b"/>
<circle cx="357.90" cy="383.44" r="1.75" fill="#551a8b"/>
<circle cx="366.56" cy="385.13" r="1.75" fill="#551a8b"/>
<circle cx="375.23" cy="388.53" r="1.75" fill="#551a8b"/>
<circle cx="383.89" cy="390.83" r="1.75" fill="#551a8b"/>
<circle cx="392.55" cy="392.41" r="1.75" fill="#551a8b"/>
<circle cx="401.22" cy="393.74" r="1.75" fill="#551a8b"/>
<circle cx="409.88" cy="395.32" r="1.75" fill="#551a8b"/>
<circle cx="418.55" cy="396.41" r="1.75" fill="#551a8b"/>
<circle cx="427.21" cy="396.90" r="1.75" fill="#551a8b"/>
<circle cx="435.87" cy="397.50" r="1.75" fill="#551a8b"/>
<circle cx="444.54" cy="399.08" r="1.75" fill="#551a8b"/>
<path d="M271.26,323.66L279.93,337.73L288.59,354.70L297.25,365.61L305.92,374.10L314.58,381.38L323.25,387.44L331.91,392.89L340.57,397.14L349.24,400.78L357.90,404.41L366.56,407.44L375.23,410.48L383.89,412.60L392.55,414.72L401.22,416.84L409.88,418.96L418.55,420.48L427.21,421.99L435.87,423.21L444.54,424.42" fill="none" stroke="#20b2aa" stroke-opacity="0.6" stroke-width="1.0" stroke-linejoin="round"/>
<path d="M271.26,325.86L273.18,322.56L269.35,322.56Z" fill="#20b8b8"/>
<path d="M279.93,339.93L281.84,336.62L278.01,336.62Z" fill="#20b8b8"/>
<path d="M288.59,356.90L290.50,353.60L286.68,353.60Z" fill="#20b8b8"/>
<path d="M297.25,367.81L299.17,364.51L295.34,364.51Z" fill="#20b8b8"/>
<path d="M305.92,376.30L307.83,373.00L304.00,373.00Z" fill="#20b8b8"/>
<path d="M314.58,383.57L316.50,380.27L312.67,380.27Z" fill="#20b8b8"/>
<path d="M323.25,389.64L325.16,386.34L321.33,386.34Z" fill="#20b8b8"/>
<path d="M331.91,395.09L333.82,391.79L330.00,391.79Z" fill="#20b8b8"/>
<path d="M340.57,399.34L342.49,396.04L338.66,396.04Z" fill="#20b8b8"/>
<path d="M349.24,402.98L351.15,399.68L347.32,399.68Z" fill="#20b8b8"/>
<path d="M357.90,406.61L359.81,403.31L355.99,403.31Z" fill="#20b8b8"/>
<path d="M366.56,409.64L368.48,406.34L364.65,406.34Z" fill="#20b8b8"/>
<path d="M375.23,412.68L377.14,409.38L373.31,409.38Z" fill="#20b8b8"/>
<path d="M383.89,414.80L385.80,411.50L381.98,411.50Z" fill="#20b8b8"/>
<path d="M392.55,416.92L394.47,413.62L390.64,413.62Z" fill="#20b8b8"/>
<path d="M401.22,419.04L403.13,415.74L399.30,415.74Z" fill="#20b8b8"/>
<path d="M409.88,421.16L411.80,417.86L407.97,417.86Z" fill="#20b8b8"/>
<path d="M418.55,422.68L420.46,419.38L416.63,419.38Z" fill="#20b8b8"/>
<path d="M427.21,424.19L429.12,420.89L425.30,420.89Z" fill="#20b8b8"/>
<path d="M435.87,425.41L437.79,422.11L433.96,422.11Z" fill="#20b8b8"/>
<path d="M444.54,426.62L446.45,423.32L442.62,423.32Z" fill="#20b8b8"/>
<path d="M271.26,323.66L279.93,344.39L288.59,363.31L297.25,375.80L305.92,384.16L314.58,390.83L323.25,396.41L331.91,402.11L340.57,405.02L349.24,407.69L357.90,409.87L366.56,412.54L375.23,414.72L383.89,416.54L392.55,419.21L401.22,420.54L409.88,422.12L418.55,423.69L427.21,425.03L435.87,426.60L444.54,427.33" fill="none" stroke="#ff0000" stroke-opacity="0.85" stroke-width="1.0" stroke-linejoin="round"/>
<circle cx="271.26" cy="323.66" r="1.80" fill="#ff0000"/>
<circle cx="279.93" cy="344.39" r="1.80" fill="#ff0000"/>
<circle cx="288.59" cy="363.31" r="1.80" fill="#ff0000"/>
<circle cx="297.25" cy="375.80" r="1.80" fill="#ff0000"/>
<circle cx="305.92" cy="384.16" r="1.80" fill="#ff0000"/>
<circle cx="314.58" cy="390.83" r="1.80" fill="#ff0000"/>
<circle cx="323.25" cy="396.41" r="1.80" fill="#ff0000"/>
<circle cx="331.91" cy="402.11" r="1.80" fill="#ff0000"/>
<circle cx="340.57" cy="405.02" r="1.80" fill="#ff0000"/>
<circle cx="349.24" cy="407.69" r="1.80" fill="#ff0000"/>
<circle cx="357.90" cy="409.87" r="1.80" fill="#ff0000"/>
<circle cx="366.56" cy="412.54" r="1.80" fill="#ff0000"/>
<circle cx="375.23" cy="414.72" r="1.80" fill="#ff0000"/>
<circle cx="383.89" cy="416.54" r="1.80" fill="#ff0000"/>
<circle cx="392.55" cy="419.21" r="1.80" fill="#ff0000"/>
<circle cx="401.22" cy="420.54" r="1.80" fill="#ff0000"/>
<circle cx="409.88" cy="422.12" r="1.80" fill="#ff0000"/>
<circle cx="418.55" cy="423.69" r="1.80" fill="#ff0000"/>
<circle cx="427.21" cy="425.03" r="1.80" fill="#ff0000"/>
<circle cx="435.87" cy="426.60" r="1.80" fill="#ff0000"/>
<circle cx="444.54" cy="427.33" r="1.80" fill="#ff0000"/>
</g>
<rect x="262.6" y="318.3" width="190.60" height="110.70" fill="none" stroke="#444" stroke-width="0.9"/>
<line x1="271.26" y1="429.0" x2="271.26" y2="431.5" stroke="#333" stroke-width="0.9"/>
<text x="269.32" y="438.40" textLength="3.88" lengthAdjust="spacingAndGlyphs" class="tk">0</text>
<line x1="296.02" y1="429.0" x2="296.02" y2="431.5" stroke="#333" stroke-width="0.9"/>
<text x="292.14" y="438.40" textLength="7.76" lengthAdjust="spacingAndGlyphs" class="tk">20</text>
<line x1="320.77" y1="429.0" x2="320.77" y2="431.5" stroke="#333" stroke-width="0.9"/>
<text x="316.89" y="438.40" textLength="7.76" lengthAdjust="spacingAndGlyphs" class="tk">40</text>
<line x1="345.52" y1="429.0" x2="345.52" y2="431.5" stroke="#333" stroke-width="0.9"/>
<text x="341.64" y="438.40" textLength="7.76" lengthAdjust="spacingAndGlyphs" class="tk">60</text>
<line x1="370.28" y1="429.0" x2="370.28" y2="431.5" stroke="#333" stroke-width="0.9"/>
<text x="366.40" y="438.40" textLength="7.76" lengthAdjust="spacingAndGlyphs" class="tk">80</text>
<line x1="395.03" y1="429.0" x2="395.03" y2="431.5" stroke="#333" stroke-width="0.9"/>
<text x="389.21" y="438.40" textLength="11.64" lengthAdjust="spacingAndGlyphs" class="tk">100</text>
<line x1="419.78" y1="429.0" x2="419.78" y2="431.5" stroke="#333" stroke-width="0.9"/>
<text x="413.96" y="438.40" textLength="11.64" lengthAdjust="spacingAndGlyphs" class="tk">120</text>
<line x1="444.54" y1="429.0" x2="444.54" y2="431.5" stroke="#333" stroke-width="0.9"/>
<text x="438.72" y="438.40" textLength="11.64" lengthAdjust="spacingAndGlyphs" class="tk">140</text>
<line x1="260.1" y1="422.60" x2="262.6" y2="422.60" stroke="#333" stroke-width="0.9"/>
<text x="247.60" y="424.80" textLength="9.70" lengthAdjust="spacingAndGlyphs" class="tk">0.4</text>
<line x1="260.1" y1="398.35" x2="262.6" y2="398.35" stroke="#333" stroke-width="0.9"/>
<text x="247.60" y="400.55" textLength="9.70" lengthAdjust="spacingAndGlyphs" class="tk">0.6</text>
<line x1="260.1" y1="374.10" x2="262.6" y2="374.10" stroke="#333" stroke-width="0.9"/>
<text x="247.60" y="376.30" textLength="9.70" lengthAdjust="spacingAndGlyphs" class="tk">0.8</text>
<line x1="260.1" y1="349.85" x2="262.6" y2="349.85" stroke="#333" stroke-width="0.9"/>
<text x="247.60" y="352.05" textLength="9.70" lengthAdjust="spacingAndGlyphs" class="tk">1.0</text>
<line x1="260.1" y1="325.60" x2="262.6" y2="325.60" stroke="#333" stroke-width="0.9"/>
<text x="247.60" y="327.80" textLength="9.70" lengthAdjust="spacingAndGlyphs" class="tk">1.2</text>
<text x="357.90" y="314.70" text-anchor="middle" class="sf">Obesity</text>
<text x="357.90" y="449.40" text-anchor="middle" class="sf">Number of queries</text>
<text transform="translate(243.30,373.65) rotate(-90)" x="0" y="0" text-anchor="middle" class="sf">MAE</text>
<defs><clipPath id="c8"><rect x="490.5" y="318.3" width="190.29999999999995" height="110.69999999999999"/></clipPath></defs>
<line x1="499.15" y1="318.3" x2="499.15" y2="429.0" stroke="#b0b0b0" stroke-opacity="0.62" stroke-width="1"/>
<line x1="520.77" y1="318.3" x2="520.77" y2="429.0" stroke="#b0b0b0" stroke-opacity="0.62" stroke-width="1"/>
<line x1="542.40" y1="318.3" x2="542.40" y2="429.0" stroke="#b0b0b0" stroke-opacity="0.62" stroke-width="1"/>
<line x1="564.02" y1="318.3" x2="564.02" y2="429.0" stroke="#b0b0b0" stroke-opacity="0.62" stroke-width="1"/>
<line x1="585.65" y1="318.3" x2="585.65" y2="429.0" stroke="#b0b0b0" stroke-opacity="0.62" stroke-width="1"/>
<line x1="607.27" y1="318.3" x2="607.27" y2="429.0" stroke="#b0b0b0" stroke-opacity="0.62" stroke-width="1"/>
<line x1="628.90" y1="318.3" x2="628.90" y2="429.0" stroke="#b0b0b0" stroke-opacity="0.62" stroke-width="1"/>
<line x1="650.52" y1="318.3" x2="650.52" y2="429.0" stroke="#b0b0b0" stroke-opacity="0.62" stroke-width="1"/>
<line x1="672.15" y1="318.3" x2="672.15" y2="429.0" stroke="#b0b0b0" stroke-opacity="0.62" stroke-width="1"/>
<line x1="490.5" y1="427.50" x2="680.8" y2="427.50" stroke="#b0b0b0" stroke-opacity="0.62" stroke-width="1"/>
<line x1="490.5" y1="411.47" x2="680.8" y2="411.47" stroke="#b0b0b0" stroke-opacity="0.62" stroke-width="1"/>
<line x1="490.5" y1="395.43" x2="680.8" y2="395.43" stroke="#b0b0b0" stroke-opacity="0.62" stroke-width="1"/>
<line x1="490.5" y1="379.40" x2="680.8" y2="379.40" stroke="#b0b0b0" stroke-opacity="0.62" stroke-width="1"/>
<line x1="490.5" y1="363.37" x2="680.8" y2="363.37" stroke="#b0b0b0" stroke-opacity="0.62" stroke-width="1"/>
<line x1="490.5" y1="347.33" x2="680.8" y2="347.33" stroke="#b0b0b0" stroke-opacity="0.62" stroke-width="1"/>
<line x1="490.5" y1="331.30" x2="680.8" y2="331.30" stroke="#b0b0b0" stroke-opacity="0.62" stroke-width="1"/>
<g clip-path="url(#c8)">
<path d="M499.15,320.72L507.80,352.14L516.45,364.01L525.10,377.00L533.75,385.81L542.40,391.43L551.05,396.24L559.70,400.24L568.35,403.13L577.00,405.69L585.65,407.94L594.30,409.70L602.95,411.47L611.60,412.67L620.25,413.87L628.90,414.91L637.55,415.96L646.20,416.92L654.85,417.88L663.50,418.68L672.15,419.48" fill="none" stroke="#0000ff" stroke-opacity="0.55" stroke-width="1.0" stroke-linejoin="round"/>
<circle cx="499.15" cy="320.72" r="1.05" fill="#0000ff"/>
<circle cx="507.80" cy="352.14" r="1.05" fill="#0000ff"/>
<circle cx="516.45" cy="364.01" r="1.05" fill="#0000ff"/>
<circle cx="525.10" cy="377.00" r="1.05" fill="#0000ff"/>
<circle cx="533.75" cy="385.81" r="1.05" fill="#0000ff"/>
<circle cx="542.40" cy="391.43" r="1.05" fill="#0000ff"/>
<circle cx="551.05" cy="396.24" r="1.05" fill="#0000ff"/>
<circle cx="559.70" cy="400.24" r="1.05" fill="#0000ff"/>
<circle cx="568.35" cy="403.13" r="1.05" fill="#0000ff"/>
<circle cx="577.00" cy="405.69" r="1.05" fill="#0000ff"/>
<circle cx="585.65" cy="407.94" r="1.05" fill="#0000ff"/>
<circle cx="594.30" cy="409.70" r="1.05" fill="#0000ff"/>
<circle cx="602.95" cy="411.47" r="1.05" fill="#0000ff"/>
<circle cx="611.60" cy="412.67" r="1.05" fill="#0000ff"/>
<circle cx="620.25" cy="413.87" r="1.05" fill="#0000ff"/>
<circle cx="628.90" cy="414.91" r="1.05" fill="#0000ff"/>
<circle cx="637.55" cy="415.96" r="1.05" fill="#0000ff"/>
<circle cx="646.20" cy="416.92" r="1.05" fill="#0000ff"/>
<circle cx="654.85" cy="417.88" r="1.05" fill="#0000ff"/>
<circle cx="663.50" cy="418.68" r="1.05" fill="#0000ff"/>
<circle cx="672.15" cy="419.48" r="1.05" fill="#0000ff"/>
<path d="M499.15,320.72L507.80,353.75L516.45,369.78L525.10,381.81L533.75,389.82L542.40,395.43L551.05,399.44L559.70,402.65L568.35,405.86L577.00,408.26L585.65,410.66L594.30,412.27L602.95,413.87L611.60,415.07L620.25,416.28L628.90,417.24L637.55,418.20L646.20,419.24L654.85,420.28L663.50,421.09L672.15,421.89" fill="none" stroke="#ff8c00" stroke-opacity="0.85" stroke-width="1.0" stroke-linejoin="round"/>
<path d="M497.05,320.72L500.20,322.55L500.20,318.89Z" fill="#ff8c00"/>
<path d="M505.70,353.75L508.85,355.57L508.85,351.92Z" fill="#ff8c00"/>
<path d="M514.35,369.78L517.50,371.61L517.50,367.95Z" fill="#ff8c00"/>
<path d="M523.00,381.81L526.15,383.63L526.15,379.98Z" fill="#ff8c00"/>
<path d="M531.65,389.82L534.80,391.65L534.80,387.99Z" fill="#ff8c00"/>
<path d="M540.30,395.43L543.45,397.26L543.45,393.61Z" fill="#ff8c00"/>
<path d="M548.95,399.44L552.10,401.27L552.10,397.61Z" fill="#ff8c00"/>
<path d="M557.60,402.65L560.75,404.48L560.75,400.82Z" fill="#ff8c00"/>
<path d="M566.25,405.86L569.40,407.68L569.40,404.03Z" fill="#ff8c00"/>
<path d="M574.90,408.26L578.05,410.09L578.05,406.43Z" fill="#ff8c00"/>
<path d="M583.55,410.66L586.70,412.49L586.70,408.84Z" fill="#ff8c00"/>
<path d="M592.20,412.27L595.35,414.10L595.35,410.44Z" fill="#ff8c00"/>
<path d="M600.85,413.87L604.00,415.70L604.00,412.04Z" fill="#ff8c00"/>
<path d="M609.50,415.07L612.65,416.90L612.65,413.25Z" fill="#ff8c00"/>
<path d="M618.15,416.28L621.30,418.10L621.30,414.45Z" fill="#ff8c00"/>
<path d="M626.80,417.24L629.95,419.07L629.95,415.41Z" fill="#ff8c00"/>
<path d="M635.45,418.20L638.60,420.03L638.60,416.37Z" fill="#ff8c00"/>
<path d="M644.10,419.24L647.25,421.07L647.25,417.42Z" fill="#ff8c00"/>
<path d="M652.75,420.28L655.90,422.11L655.90,418.46Z" fill="#ff8c00"/>
<path d="M661.40,421.09L664.55,422.91L664.55,419.26Z" fill="#ff8c00"/>
<path d="M670.05,421.89L673.20,423.72L673.20,420.06Z" fill="#ff8c00"/>
<path d="M499.15,320.72L507.80,353.75L516.45,370.58L525.10,382.61L533.75,390.62L542.40,396.24L551.05,400.24L559.70,403.45L568.35,406.34L577.00,409.06L585.65,411.47L594.30,412.91L602.95,414.35L611.60,415.48L620.25,416.60L628.90,417.64L637.55,418.68L646.20,419.72L654.85,420.77L663.50,421.33L672.15,421.89" fill="none" stroke="#bfbf00" stroke-opacity="0.7" stroke-width="1.0" stroke-linejoin="round"/>
<path d="M501.25,320.72L498.10,322.55L498.10,318.89Z" fill="#bfbf00"/>
<path d="M509.90,353.75L506.75,355.57L506.75,351.92Z" fill="#bfbf00"/>
<path d="M518.55,370.58L515.40,372.41L515.40,368.75Z" fill="#bfbf00"/>
<path d="M527.20,382.61L524.05,384.43L524.05,380.78Z" fill="#bfbf00"/>
<path d="M535.85,390.62L532.70,392.45L532.70,388.80Z" fill="#bfbf00"/>
<path d="M544.50,396.24L541.35,398.06L541.35,394.41Z" fill="#bfbf00"/>
<path d="M553.15,400.24L550.00,402.07L550.00,398.42Z" fill="#bfbf00"/>
<path d="M561.80,403.45L558.65,405.28L558.65,401.62Z" fill="#bfbf00"/>
<path d="M570.45,406.34L567.30,408.16L567.30,404.51Z" fill="#bfbf00"/>
<path d="M579.10,409.06L575.95,410.89L575.95,407.23Z" fill="#bfbf00"/>
<path d="M587.75,411.47L584.60,413.29L584.60,409.64Z" fill="#bfbf00"/>
<path d="M596.40,412.91L593.25,414.74L593.25,411.08Z" fill="#bfbf00"/>
<path d="M605.05,414.35L601.90,416.18L601.90,412.53Z" fill="#bfbf00"/>
<path d="M613.70,415.48L610.55,417.30L610.55,413.65Z" fill="#bfbf00"/>
<path d="M622.35,416.60L619.20,418.42L619.20,414.77Z" fill="#bfbf00"/>
<path d="M631.00,417.64L627.85,419.47L627.85,415.81Z" fill="#bfbf00"/>
<path d="M639.65,418.68L636.50,420.51L636.50,416.85Z" fill="#bfbf00"/>
<path d="M648.30,419.72L645.15,421.55L645.15,417.90Z" fill="#bfbf00"/>
<path d="M656.95,420.77L653.80,422.59L653.80,418.94Z" fill="#bfbf00"/>
<path d="M665.60,421.33L662.45,423.15L662.45,419.50Z" fill="#bfbf00"/>
<path d="M674.25,421.89L671.10,423.72L671.10,420.06Z" fill="#bfbf00"/>
<path d="M499.15,320.72L507.80,355.35L516.45,371.38L525.10,383.41L533.75,391.43L542.40,397.04L551.05,401.04L559.70,404.25L568.35,406.98L577.00,409.54L585.65,411.79L594.30,413.39L602.95,414.99L611.60,416.04L620.25,417.08L628.90,418.28L637.55,419.48L646.20,420.45L654.85,421.41L663.50,422.05L672.15,422.69" fill="none" stroke="#008000" stroke-opacity="0.8" stroke-width="1.0" stroke-linejoin="round"/>
<path d="M499.15,318.62L500.98,321.77L497.32,321.77Z" fill="#008000"/>
<path d="M507.80,353.25L509.63,356.40L505.97,356.40Z" fill="#008000"/>
<path d="M516.45,369.28L518.28,372.43L514.62,372.43Z" fill="#008000"/>
<path d="M525.10,381.31L526.93,384.46L523.27,384.46Z" fill="#008000"/>
<path d="M533.75,389.32L535.58,392.48L531.92,392.48Z" fill="#008000"/>
<path d="M542.40,394.94L544.23,398.09L540.57,398.09Z" fill="#008000"/>
<path d="M551.05,398.94L552.88,402.09L549.22,402.09Z" fill="#008000"/>
<path d="M559.70,402.15L561.53,405.30L557.87,405.30Z" fill="#008000"/>
<path d="M568.35,404.88L570.18,408.03L566.52,408.03Z" fill="#008000"/>
<path d="M577.00,407.44L578.83,410.59L575.17,410.59Z" fill="#008000"/>
<path d="M585.65,409.69L587.48,412.84L583.82,412.84Z" fill="#008000"/>
<path d="M594.30,411.29L596.13,414.44L592.47,414.44Z" fill="#008000"/>
<path d="M602.95,412.89L604.78,416.04L601.12,416.04Z" fill="#008000"/>
<path d="M611.60,413.94L613.43,417.09L609.77,417.09Z" fill="#008000"/>
<path d="M620.25,414.98L622.08,418.13L618.42,418.13Z" fill="#008000"/>
<path d="M628.90,416.18L630.73,419.33L627.07,419.33Z" fill="#008000"/>
<path d="M637.55,417.38L639.38,420.53L635.72,420.53Z" fill="#008000"/>
<path d="M646.20,418.35L648.03,421.50L644.37,421.50Z" fill="#008000"/>
<path d="M654.85,419.31L656.68,422.46L653.02,422.46Z" fill="#008000"/>
<path d="M663.50,419.95L665.33,423.10L661.67,423.10Z" fill="#008000"/>
<path d="M672.15,420.59L673.98,423.74L670.32,423.74Z" fill="#008000"/>
<path d="M499.15,320.72L507.80,349.42L516.45,360.16L525.10,375.23L533.75,383.41L542.40,389.34L551.05,393.83L559.70,397.68L568.35,401.04L577.00,403.29L585.65,405.37L594.30,407.62L602.95,409.86L611.60,411.63L620.25,413.23L628.90,414.35L637.55,415.48L646.20,416.12L654.85,416.60L663.50,417.72L672.15,418.84" fill="none" stroke="#a0522d" stroke-opacity="0.6" stroke-width="1.0" stroke-linejoin="round"/>
<circle cx="499.15" cy="320.72" r="1.35" fill="#a0522d"/>
<circle cx="507.80" cy="349.42" r="1.35" fill="#a0522d"/>
<circle cx="516.45" cy="360.16" r="1.35" fill="#a0522d"/>
<circle cx="525.10" cy="375.23" r="1.35" fill="#a0522d"/>
<circle cx="533.75" cy="383.41" r="1.35" fill="#a0522d"/>
<circle cx="542.40" cy="389.34" r="1.35" fill="#a0522d"/>
<circle cx="551.05" cy="393.83" r="1.35" fill="#a0522d"/>
<circle cx="559.70" cy="397.68" r="1.35" fill="#a0522d"/>
<circle cx="568.35" cy="401.04" r="1.35" fill="#a0522d"/>
<circle cx="577.00" cy="403.29" r="1.35" fill="#a0522d"/>
<circle cx="585.65" cy="405.37" r="1.35" fill="#a0522d"/>
<circle cx="594.30" cy="407.62" r="1.35" fill="#a0522d"/>
<circle cx="602.95" cy="409.86" r="1.35" fill="#a0522d"/>
<circle cx="611.60" cy="411.63" r="1.35" fill="#a0522d"/>
<circle cx="620.25" cy="413.23" r="1.35" fill="#a0522d"/>
<circle cx="628.90" cy="414.35" r="1.35" fill="#a0522d"/>
<circle cx="637.55" cy="415.48" r="1.35" fill="#a0522d"/>
<circle cx="646.20" cy="416.12" r="1.35" fill="#a0522d"/>
<circle cx="654.85" cy="416.60" r="1.35" fill="#a0522d"/>
<circle cx="663.50" cy="417.72" r="1.35" fill="#a0522d"/>
<circle cx="672.15" cy="418.84" r="1.35" fill="#a0522d"/>
<path d="M499.15,320.72L507.80,352.14L516.45,368.18L525.10,379.40L533.75,387.42L542.40,393.03L551.05,397.04L559.70,400.24L568.35,403.13L577.00,405.37L585.65,407.46L594.30,409.06L602.95,410.66L611.60,411.71L620.25,412.75L628.90,413.31L637.55,413.87L646.20,414.43L654.85,414.99L663.50,415.56L672.15,416.12" fill="none" stroke="#ee82ee" stroke-opacity="0.85" stroke-width="1.0" stroke-linejoin="round"/>
<path d="M497.75,320.72H500.55M499.15,319.32V322.12" stroke="#ee82ee" stroke-width="1.2"/>
<path d="M506.40,352.14H509.20M507.80,350.74V353.54" stroke="#ee82ee" stroke-width="1.2"/>
<path d="M515.05,368.18H517.85M516.45,366.78V369.58" stroke="#ee82ee" stroke-width="1.2"/>
<path d="M523.70,379.40H526.50M525.10,378.00V380.80" stroke="#ee82ee" stroke-width="1.2"/>
<path d="M532.35,387.42H535.15M533.75,386.02V388.82" stroke="#ee82ee" stroke-width="1.2"/>
<path d="M541.00,393.03H543.80M542.40,391.63V394.43" stroke="#ee82ee" stroke-width="1.2"/>
<path d="M549.65,397.04H552.45M551.05,395.64V398.44" stroke="#ee82ee" stroke-width="1.2"/>
<path d="M558.30,400.24H561.10M559.70,398.84V401.64" stroke="#ee82ee" stroke-width="1.2"/>
<path d="M566.95,403.13H569.75M568.35,401.73V404.53" stroke="#ee82ee" stroke-width="1.2"/>
<path d="M575.60,405.37H578.40M577.00,403.97V406.77" stroke="#ee82ee" stroke-width="1.2"/>
<path d="M584.25,407.46H587.05M585.65,406.06V408.86" stroke="#ee82ee" stroke-width="1.2"/>
<path d="M592.90,409.06H595.70M594.30,407.66V410.46" stroke="#ee82ee" stroke-width="1.2"/>
<path d="M601.55,410.66H604.35M602.95,409.26V412.06" stroke="#ee82ee" stroke-width="1.2"/>
<path d="M610.20,411.71H613.00M611.60,410.31V413.11" stroke="#ee82ee" stroke-width="1.2"/>
<path d="M618.85,412.75H621.65M620.25,411.35V414.15" stroke="#ee82ee" stroke-width="1.2"/>
<path d="M627.50,413.31H630.30M628.90,411.91V414.71" stroke="#ee82ee" stroke-width="1.2"/>
<path d="M636.15,413.87H638.95M637.55,412.47V415.27" stroke="#ee82ee" stroke-width="1.2"/>
<path d="M644.80,414.43H647.60M646.20,413.03V415.83" stroke="#ee82ee" stroke-width="1.2"/>
<path d="M653.45,414.99H656.25M654.85,413.59V416.39" stroke="#ee82ee" stroke-width="1.2"/>
<path d="M662.10,415.56H664.90M663.50,414.16V416.96" stroke="#ee82ee" stroke-width="1.2"/>
<path d="M670.75,416.12H673.55M672.15,414.72V417.52" stroke="#ee82ee" stroke-width="1.2"/>
<path d="M499.15,320.72L507.80,353.75L516.45,369.78L525.10,381.81L533.75,389.82L542.40,395.43L551.05,399.44L559.70,402.65L568.35,405.05L577.00,407.46L585.65,409.86L594.30,411.47L602.95,413.07L611.60,414.27L620.25,415.48L628.90,416.52L637.55,417.56L646.20,418.52L654.85,419.48L663.50,420.28L672.15,421.09" fill="none" stroke="#808080" stroke-opacity="0.65" stroke-width="1.0" stroke-linejoin="round"/>
<path d="M497.65,319.22L500.65,322.22M497.65,322.22L500.65,319.22" stroke="#505050" stroke-width="0.8"/>
<path d="M506.30,352.25L509.30,355.25M506.30,355.25L509.30,352.25" stroke="#505050" stroke-width="0.8"/>
<path d="M514.95,368.28L517.95,371.28M514.95,371.28L517.95,368.28" stroke="#505050" stroke-width="0.8"/>
<path d="M523.60,380.31L526.60,383.31M523.60,383.31L526.60,380.31" stroke="#505050" stroke-width="0.8"/>
<path d="M532.25,388.32L535.25,391.32M532.25,391.32L535.25,388.32" stroke="#505050" stroke-width="0.8"/>
<path d="M540.90,393.93L543.90,396.93M540.90,396.93L543.90,393.93" stroke="#505050" stroke-width="0.8"/>
<path d="M549.55,397.94L552.55,400.94M549.55,400.94L552.55,397.94" stroke="#505050" stroke-width="0.8"/>
<path d="M558.20,401.15L561.20,404.15M558.20,404.15L561.20,401.15" stroke="#505050" stroke-width="0.8"/>
<path d="M566.85,403.55L569.85,406.55M566.85,406.55L569.85,403.55" stroke="#505050" stroke-width="0.8"/>
<path d="M575.50,405.96L578.50,408.96M575.50,408.96L578.50,405.96" stroke="#505050" stroke-width="0.8"/>
<path d="M584.15,408.36L587.15,411.36M584.15,411.36L587.15,408.36" stroke="#505050" stroke-width="0.8"/>
<path d="M592.80,409.97L595.80,412.97M592.80,412.97L595.80,409.97" stroke="#505050" stroke-width="0.8"/>
<path d="M601.45,411.57L604.45,414.57M601.45,414.57L604.45,411.57" stroke="#505050" stroke-width="0.8"/>
<path d="M610.10,412.77L613.10,415.77M610.10,415.77L613.10,412.77" stroke="#505050" stroke-width="0.8"/>
<path d="M618.75,413.98L621.75,416.98M618.75,416.98L621.75,413.98" stroke="#505050" stroke-width="0.8"/>
<path d="M627.40,415.02L630.40,418.02M627.40,418.02L630.40,415.02" stroke="#505050" stroke-width="0.8"/>
<path d="M636.05,416.06L639.05,419.06M636.05,419.06L639.05,416.06" stroke="#505050" stroke-width="0.8"/>
<path d="M644.70,417.02L647.70,420.02M644.70,420.02L647.70,417.02" stroke="#505050" stroke-width="0.8"/>
<path d="M653.35,417.98L656.35,420.98M653.35,420.98L656.35,417.98" stroke="#505050" stroke-width="0.8"/>
<path d="M662.00,418.78L665.00,421.78M662.00,421.78L665.00,418.78" stroke="#505050" stroke-width="0.8"/>
<path d="M670.65,419.59L673.65,422.59M670.65,422.59L673.65,419.59" stroke="#505050" stroke-width="0.8"/>
<path d="M499.15,320.72L507.80,348.94L516.45,366.57L525.10,377.80L533.75,386.62L542.40,393.19L551.05,396.56L559.70,399.44L568.35,402.17L577.00,404.25L585.65,406.34L594.30,408.10L602.95,409.86L611.60,411.07L620.25,412.27L628.90,413.07L637.55,413.87L646.20,414.67L654.85,415.48L663.50,416.04L672.15,416.60" fill="none" stroke="#c000c0" stroke-opacity="0.85" stroke-width="1.0" stroke-linejoin="round"/>
<path d="M499.15,318.32L500.75,320.72L499.15,323.12L497.55,320.72Z" fill="#c000c0"/>
<path d="M507.80,346.54L509.40,348.94L507.80,351.34L506.20,348.94Z" fill="#c000c0"/>
<path d="M516.45,364.17L518.05,366.57L516.45,368.97L514.85,366.57Z" fill="#c000c0"/>
<path d="M525.10,375.40L526.70,377.80L525.10,380.20L523.50,377.80Z" fill="#c000c0"/>
<path d="M533.75,384.22L535.35,386.62L533.75,389.01L532.15,386.62Z" fill="#c000c0"/>
<path d="M542.40,390.79L544.00,393.19L542.40,395.59L540.80,393.19Z" fill="#c000c0"/>
<path d="M551.05,394.16L552.65,396.56L551.05,398.96L549.45,396.56Z" fill="#c000c0"/>
<path d="M559.70,397.04L561.30,399.44L559.70,401.84L558.10,399.44Z" fill="#c000c0"/>
<path d="M568.35,399.77L569.95,402.17L568.35,404.57L566.75,402.17Z" fill="#c000c0"/>
<path d="M577.00,401.85L578.60,404.25L577.00,406.65L575.40,404.25Z" fill="#c000c0"/>
<path d="M585.65,403.94L587.25,406.34L585.65,408.74L584.05,406.34Z" fill="#c000c0"/>
<path d="M594.30,405.70L595.90,408.10L594.30,410.50L592.70,408.10Z" fill="#c000c0"/>
<path d="M602.95,407.46L604.55,409.86L602.95,412.26L601.35,409.86Z" fill="#c000c0"/>
<path d="M611.60,408.67L613.20,411.07L611.60,413.47L610.00,411.07Z" fill="#c000c0"/>
<path d="M620.25,409.87L621.85,412.27L620.25,414.67L618.65,412.27Z" fill="#c000c0"/>
<path d="M628.90,410.67L630.50,413.07L628.90,415.47L627.30,413.07Z" fill="#c000c0"/>
<path d="M637.55,411.47L639.15,413.87L637.55,416.27L635.95,413.87Z" fill="#c000c0"/>
<path d="M646.20,412.27L647.80,414.67L646.20,417.07L644.60,414.67Z" fill="#c000c0"/>
<path d="M654.85,413.08L656.45,415.48L654.85,417.88L653.25,415.48Z" fill="#c000c0"/>
<path d="M663.50,413.64L665.10,416.04L663.50,418.44L661.90,416.04Z" fill="#c000c0"/>
<path d="M672.15,414.20L673.75,416.60L672.15,419.00L670.55,416.60Z" fill="#c000c0"/>
<path d="M499.15,320.72L507.80,352.14L516.45,368.18L525.10,379.40L533.75,387.42L542.40,393.03L551.05,397.36L559.70,401.04L568.35,403.77L577.00,406.34L585.65,408.26L594.30,409.38L602.95,410.50L611.60,411.63L620.25,412.75L628.90,413.87L637.55,414.99L646.20,416.84L654.85,418.68L663.50,419.64L672.15,420.61" fill="none" stroke="#4169e1" stroke-opacity="0.55" stroke-width="1.0" stroke-linejoin="round"/>
<rect x="497.55" y="319.12" width="3.20" height="3.20" fill="#4169e1"/>
<rect x="506.20" y="350.54" width="3.20" height="3.20" fill="#4169e1"/>
<rect x="514.85" y="366.58" width="3.20" height="3.20" fill="#4169e1"/>
<rect x="523.50" y="377.80" width="3.20" height="3.20" fill="#4169e1"/>
<rect x="532.15" y="385.82" width="3.20" height="3.20" fill="#4169e1"/>
<rect x="540.80" y="391.43" width="3.20" height="3.20" fill="#4169e1"/>
<rect x="549.45" y="395.76" width="3.20" height="3.20" fill="#4169e1"/>
<rect x="558.10" y="399.44" width="3.20" height="3.20" fill="#4169e1"/>
<rect x="566.75" y="402.17" width="3.20" height="3.20" fill="#4169e1"/>
<rect x="575.40" y="404.74" width="3.20" height="3.20" fill="#4169e1"/>
<rect x="584.05" y="406.66" width="3.20" height="3.20" fill="#4169e1"/>
<rect x="592.70" y="407.78" width="3.20" height="3.20" fill="#4169e1"/>
<rect x="601.35" y="408.90" width="3.20" height="3.20" fill="#4169e1"/>
<rect x="610.00" y="410.03" width="3.20" height="3.20" fill="#4169e1"/>
<rect x="618.65" y="411.15" width="3.20" height="3.20" fill="#4169e1"/>
<rect x="627.30" y="412.27" width="3.20" height="3.20" fill="#4169e1"/>
<rect x="635.95" y="413.39" width="3.20" height="3.20" fill="#4169e1"/>
<rect x="644.60" y="415.24" width="3.20" height="3.20" fill="#4169e1"/>
<rect x="653.25" y="417.08" width="3.20" height="3.20" fill="#4169e1"/>
<rect x="661.90" y="418.04" width="3.20" height="3.20" fill="#4169e1"/>
<rect x="670.55" y="419.01" width="3.20" height="3.20" fill="#4169e1"/>
<path d="M499.15,320.72L507.80,355.35L516.45,368.98L525.10,381.00L533.75,389.02L542.40,394.63L551.05,398.64L559.70,401.85L568.35,404.73L577.00,406.98L585.65,409.06L594.30,410.42L602.95,411.79L611.60,412.83L620.25,413.87L628.90,415.07L637.55,416.28L646.20,417.72L654.85,419.16L663.50,419.72L672.15,420.28" fill="none" stroke="#663399" stroke-opacity="0.9" stroke-width="1.0" stroke-linejoin="round"/>
<circle cx="499.15" cy="320.72" r="1.75" fill="#551a8b"/>
<circle cx="507.80" cy="355.35" r="1.75" fill="#551a8b"/>
<circle cx="516.45" cy="368.98" r="1.75" fill="#551a8b"/>
<circle cx="525.10" cy="381.00" r="1.75" fill="#551a8b"/>
<circle cx="533.75" cy="389.02" r="1.75" fill="#551a8b"/>
<circle cx="542.40" cy="394.63" r="1.75" fill="#551a8b"/>
<circle cx="551.05" cy="398.64" r="1.75" fill="#551a8b"/>
<circle cx="559.70" cy="401.85" r="1.75" fill="#551a8b"/>
<circle cx="568.35" cy="404.73" r="1.75" fill="#551a8b"/>
<circle cx="577.00" cy="406.98" r="1.75" fill="#551a8b"/>
<circle cx="585.65" cy="409.06" r="1.75" fill="#551a8b"/>
<circle cx="594.30" cy="410.42" r="1.75" fill="#551a8b"/>
<circle cx="602.95" cy="411.79" r="1.75" fill="#551a8b"/>
<circle cx="611.60" cy="412.83" r="1.75" fill="#551a8b"/>
<circle cx="620.25" cy="413.87" r="1.75" fill="#551a8b"/>
<circle cx="628.90" cy="415.07" r="1.75" fill="#551a8b"/>
<circle cx="637.55" cy="416.28" r="1.75" fill="#551a8b"/>
<circle cx="646.20" cy="417.72" r="1.75" fill="#551a8b"/>
<circle cx="654.85" cy="419.16" r="1.75" fill="#551a8b"/>
<circle cx="663.50" cy="419.72" r="1.75" fill="#551a8b"/>
<circle cx="672.15" cy="420.28" r="1.75" fill="#551a8b"/>
<path d="M499.15,320.72L507.80,353.75L516.45,371.38L525.10,384.21L533.75,392.23L542.40,397.84L551.05,401.85L559.70,405.05L568.35,407.78L577.00,410.18L585.65,412.27L594.30,413.87L602.95,415.48L611.60,416.68L620.25,417.88L628.90,418.84L637.55,419.80L646.20,420.85L654.85,421.89L663.50,422.61L672.15,423.33" fill="none" stroke="#20b2aa" stroke-opacity="0.6" stroke-width="1.0" stroke-linejoin="round"/>
<path d="M499.15,322.92L501.06,319.62L497.24,319.62Z" fill="#20b8b8"/>
<path d="M507.80,355.95L509.71,352.65L505.89,352.65Z" fill="#20b8b8"/>
<path d="M516.45,373.58L518.36,370.28L514.54,370.28Z" fill="#20b8b8"/>
<path d="M525.10,386.41L527.01,383.11L523.19,383.11Z" fill="#20b8b8"/>
<path d="M533.75,394.43L535.66,391.13L531.84,391.13Z" fill="#20b8b8"/>
<path d="M542.40,400.04L544.31,396.74L540.49,396.74Z" fill="#20b8b8"/>
<path d="M551.05,404.05L552.96,400.75L549.14,400.75Z" fill="#20b8b8"/>
<path d="M559.70,407.25L561.61,403.95L557.79,403.95Z" fill="#20b8b8"/>
<path d="M568.35,409.98L570.26,406.68L566.44,406.68Z" fill="#20b8b8"/>
<path d="M577.00,412.38L578.91,409.08L575.09,409.08Z" fill="#20b8b8"/>
<path d="M585.65,414.47L587.56,411.17L583.74,411.17Z" fill="#20b8b8"/>
<path d="M594.30,416.07L596.21,412.77L592.39,412.77Z" fill="#20b8b8"/>
<path d="M602.95,417.68L604.86,414.38L601.04,414.38Z" fill="#20b8b8"/>
<path d="M611.60,418.88L613.51,415.58L609.69,415.58Z" fill="#20b8b8"/>
<path d="M620.25,420.08L622.16,416.78L618.34,416.78Z" fill="#20b8b8"/>
<path d="M628.90,421.04L630.81,417.74L626.99,417.74Z" fill="#20b8b8"/>
<path d="M637.55,422.00L639.46,418.70L635.64,418.70Z" fill="#20b8b8"/>
<path d="M646.20,423.05L648.11,419.75L644.29,419.75Z" fill="#20b8b8"/>
<path d="M654.85,424.09L656.76,420.79L652.94,420.79Z" fill="#20b8b8"/>
<path d="M663.50,424.81L665.41,421.51L661.59,421.51Z" fill="#20b8b8"/>
<path d="M672.15,425.53L674.06,422.23L670.24,422.23Z" fill="#20b8b8"/>
<path d="M499.15,320.72L507.80,362.40L516.45,377.48L525.10,388.70L533.75,396.56L542.40,401.37L551.05,406.66L559.70,409.54L568.35,412.27L577.00,414.83L585.65,417.08L594.30,419.32L602.95,420.61L611.60,421.57L620.25,422.85L628.90,423.65L637.55,424.45L646.20,425.09L654.85,425.58L663.50,426.70L672.15,427.34" fill="none" stroke="#ff0000" stroke-opacity="0.85" stroke-width="1.0" stroke-linejoin="round"/>
<circle cx="499.15" cy="320.72" r="1.80" fill="#ff0000"/>
<circle cx="507.80" cy="362.40" r="1.80" fill="#ff0000"/>
<circle cx="516.45" cy="377.48" r="1.80" fill="#ff0000"/>
<circle cx="525.10" cy="388.70" r="1.80" fill="#ff0000"/>
<circle cx="533.75" cy="396.56" r="1.80" fill="#ff0000"/>
<circle cx="542.40" cy="401.37" r="1.80" fill="#ff0000"/>
<circle cx="551.05" cy="406.66" r="1.80" fill="#ff0000"/>
<circle cx="559.70" cy="409.54" r="1.80" fill="#ff0000"/>
<circle cx="568.35" cy="412.27" r="1.80" fill="#ff0000"/>
<circle cx="577.00" cy="414.83" r="1.80" fill="#ff0000"/>
<circle cx="585.65" cy="417.08" r="1.80" fill="#ff0000"/>
<circle cx="594.30" cy="419.32" r="1.80" fill="#ff0000"/>
<circle cx="602.95" cy="420.61" r="1.80" fill="#ff0000"/>
<circle cx="611.60" cy="421.57" r="1.80" fill="#ff0000"/>
<circle cx="620.25" cy="422.85" r="1.80" fill="#ff0000"/>
<circle cx="628.90" cy="423.65" r="1.80" fill="#ff0000"/>
<circle cx="637.55" cy="424.45" r="1.80" fill="#ff0000"/>
<circle cx="646.20" cy="425.09" r="1.80" fill="#ff0000"/>
<circle cx="654.85" cy="425.58" r="1.80" fill="#ff0000"/>
<circle cx="663.50" cy="426.70" r="1.80" fill="#ff0000"/>
<circle cx="672.15" cy="427.34" r="1.80" fill="#ff0000"/>
</g>
<rect x="490.5" y="318.3" width="190.30" height="110.70" fill="none" stroke="#444" stroke-width="0.9"/>
<line x1="499.15" y1="429.0" x2="499.15" y2="431.5" stroke="#333" stroke-width="0.9"/>
<text x="497.21" y="438.40" textLength="3.88" lengthAdjust="spacingAndGlyphs" class="tk">0</text>
<line x1="520.77" y1="429.0" x2="520.77" y2="431.5" stroke="#333" stroke-width="0.9"/>
<text x="516.90" y="438.40" textLength="7.76" lengthAdjust="spacingAndGlyphs" class="tk">25</text>
<line x1="542.40" y1="429.0" x2="542.40" y2="431.5" stroke="#333" stroke-width="0.9"/>
<text x="538.52" y="438.40" textLength="7.76" lengthAdjust="spacingAndGlyphs" class="tk">50</text>
<line x1="564.02" y1="429.0" x2="564.02" y2="431.5" stroke="#333" stroke-width="0.9"/>
<text x="560.15" y="438.40" textLength="7.76" lengthAdjust="spacingAndGlyphs" class="tk">75</text>
<line x1="585.65" y1="429.0" x2="585.65" y2="431.5" stroke="#333" stroke-width="0.9"/>
<text x="579.83" y="438.40" textLength="11.64" lengthAdjust="spacingAndGlyphs" class="tk">100</text>
<line x1="607.27" y1="429.0" x2="607.27" y2="431.5" stroke="#333" stroke-width="0.9"/>
<text x="601.46" y="438.40" textLength="11.64" lengthAdjust="spacingAndGlyphs" class="tk">125</text>
<line x1="628.90" y1="429.0" x2="628.90" y2="431.5" stroke="#333" stroke-width="0.9"/>
<text x="623.08" y="438.40" textLength="11.64" lengthAdjust="spacingAndGlyphs" class="tk">150</text>
<line x1="650.52" y1="429.0" x2="650.52" y2="431.5" stroke="#333" stroke-width="0.9"/>
<text x="644.71" y="438.40" textLength="11.64" lengthAdjust="spacingAndGlyphs" class="tk">175</text>
<line x1="672.15" y1="429.0" x2="672.15" y2="431.5" stroke="#333" stroke-width="0.9"/>
<text x="666.33" y="438.40" textLength="11.64" lengthAdjust="spacingAndGlyphs" class="tk">200</text>
<line x1="488.0" y1="427.50" x2="490.5" y2="427.50" stroke="#333" stroke-width="0.9"/>
<text x="475.50" y="429.70" textLength="9.70" lengthAdjust="spacingAndGlyphs" class="tk">0.3</text>
<line x1="488.0" y1="411.47" x2="490.5" y2="411.47" stroke="#333" stroke-width="0.9"/>
<text x="475.50" y="413.67" textLength="9.70" lengthAdjust="spacingAndGlyphs" class="tk">0.4</text>
<line x1="488.0" y1="395.43" x2="490.5" y2="395.43" stroke="#333" stroke-width="0.9"/>
<text x="475.50" y="397.63" textLength="9.70" lengthAdjust="spacingAndGlyphs" class="tk">0.5</text>
<line x1="488.0" y1="379.40" x2="490.5" y2="379.40" stroke="#333" stroke-width="0.9"/>
<text x="475.50" y="381.60" textLength="9.70" lengthAdjust="spacingAndGlyphs" class="tk">0.6</text>
<line x1="488.0" y1="363.37" x2="490.5" y2="363.37" stroke="#333" stroke-width="0.9"/>
<text x="475.50" y="365.57" textLength="9.70" lengthAdjust="spacingAndGlyphs" class="tk">0.7</text>
<line x1="488.0" y1="347.33" x2="490.5" y2="347.33" stroke="#333" stroke-width="0.9"/>
<text x="475.50" y="349.53" textLength="9.70" lengthAdjust="spacingAndGlyphs" class="tk">0.8</text>
<line x1="488.0" y1="331.30" x2="490.5" y2="331.30" stroke="#333" stroke-width="0.9"/>
<text x="475.50" y="333.50" textLength="9.70" lengthAdjust="spacingAndGlyphs" class="tk">0.9</text>
<text x="585.65" y="314.70" text-anchor="middle" class="sf">Stock</text>
<text x="585.65" y="449.40" text-anchor="middle" class="sf">Number of queries</text>
<text transform="translate(471.20,373.65) rotate(-90)" x="0" y="0" text-anchor="middle" class="sf">MAE</text>
<rect x="79.7" y="463.3" width="490.9" height="31.9" rx="1.5" fill="#fff" stroke="#d8d8d8" stroke-width="0.9"/>
<line x1="83.0" y1="471.2" x2="104.0" y2="471.2" stroke="#0000ff" stroke-opacity="0.55" stroke-width="1.0"/>
<circle cx="93.50" cy="471.20" r="1.05" fill="#0000ff"/>
<text x="112.50" y="474.60" class="lg">Random</text>
<line x1="83.0" y1="485.3" x2="104.0" y2="485.3" stroke="#ff8c00" stroke-opacity="0.85" stroke-width="1.0"/>
<path d="M91.40,485.30L94.55,487.13L94.55,483.47Z" fill="#ff8c00"/>
<text x="112.50" y="488.70" class="lg">USME</text>
<line x1="167.2" y1="471.2" x2="188.2" y2="471.2" stroke="#bfbf00" stroke-opacity="0.7" stroke-width="1.0"/>
<path d="M179.80,471.20L176.65,473.03L176.65,469.37Z" fill="#bfbf00"/>
<text x="196.70" y="474.60" class="lg">USLC</text>
<line x1="167.2" y1="485.3" x2="188.2" y2="485.3" stroke="#008000" stroke-opacity="0.8" stroke-width="1.0"/>
<path d="M177.70,483.20L179.53,486.35L175.87,486.35Z" fill="#008000"/>
<text x="196.70" y="488.70" class="lg">USMS</text>
<line x1="244.2" y1="471.2" x2="265.2" y2="471.2" stroke="#a0522d" stroke-opacity="0.6" stroke-width="1.0"/>
<circle cx="254.70" cy="471.20" r="1.35" fill="#a0522d"/>
<text x="273.70" y="474.60" class="lg">MCSVMA</text>
<line x1="244.2" y1="485.3" x2="265.2" y2="485.3" stroke="#ee82ee" stroke-opacity="0.85" stroke-width="1.0"/>
<path d="M253.30,485.30H256.10M254.70,483.90V486.70" stroke="#ee82ee" stroke-width="1.2"/>
<text x="273.70" y="488.70" class="lg">McPAL</text>
<line x1="338.6" y1="471.2" x2="359.6" y2="471.2" stroke="#808080" stroke-opacity="0.65" stroke-width="1.0"/>
<path d="M347.60,469.70L350.60,472.70M347.60,472.70L350.60,469.70" stroke="#505050" stroke-width="0.8"/>
<text x="368.10" y="474.60" class="lg">iGS</text>
<line x1="338.6" y1="485.3" x2="359.6" y2="485.3" stroke="#c000c0" stroke-opacity="0.85" stroke-width="1.0"/>
<path d="M349.10,482.90L350.70,485.30L349.10,487.70L347.50,485.30Z" fill="#c000c0"/>
<text x="368.10" y="488.70" class="lg">FISTA</text>
<line x1="415.2" y1="471.2" x2="436.2" y2="471.2" stroke="#4169e1" stroke-opacity="0.55" stroke-width="1.0"/>
<rect x="424.10" y="469.60" width="3.20" height="3.20" fill="#4169e1"/>
<text x="444.70" y="474.60" class="lg">ALCE</text>
<line x1="415.2" y1="485.3" x2="436.2" y2="485.3" stroke="#663399" stroke-opacity="0.9" stroke-width="1.0"/>
<circle cx="425.70" cy="485.30" r="1.75" fill="#551a8b"/>
<text x="444.70" y="488.70" class="lg">LogitA</text>
<line x1="494.0" y1="471.2" x2="515.0" y2="471.2" stroke="#20b2aa" stroke-opacity="0.6" stroke-width="1.0"/>
<path d="M504.50,473.40L506.41,470.10L502.59,470.10Z" fill="#20b8b8"/>
<text x="523.50" y="474.60" class="lg">ALOR</text>
<line x1="494.0" y1="485.3" x2="515.0" y2="485.3" stroke="#ff0000" stroke-opacity="0.85" stroke-width="1.0"/>
<circle cx="504.50" cy="485.30" r="1.80" fill="#ff0000"/>
<text x="523.50" y="488.70" class="lg">AOCECM</text>
</svg>
</body></html>
